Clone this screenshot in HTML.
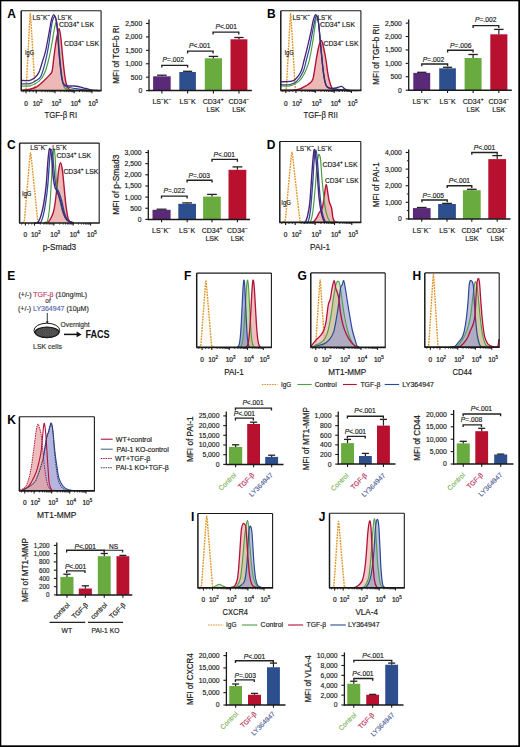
<!DOCTYPE html>
<html><head><meta charset="utf-8"><title>Figure</title>
<style>html,body{margin:0;padding:0;background:#fff;width:520px;height:747px;overflow:hidden}
svg{display:block;font-family:"Liberation Sans",sans-serif}</style></head>
<body>
<svg width="520" height="747" viewBox="0 0 520 747" font-family='"Liberation Sans", sans-serif'><rect x="0" y="0" width="520" height="747" fill="#000"/>
<rect x="1.3" y="1.3" width="517.0" height="744.0" fill="#fff"/>
<text x="7.30" y="18.00" font-size="12.00" text-anchor="start" fill="#000" font-weight="bold" ><tspan>A</tspan></text>
<text x="266.90" y="17.60" font-size="12.00" text-anchor="start" fill="#000" font-weight="bold" ><tspan>B</tspan></text>
<text x="7.00" y="148.80" font-size="12.00" text-anchor="start" fill="#000" font-weight="bold" ><tspan>C</tspan></text>
<text x="266.70" y="148.70" font-size="12.00" text-anchor="start" fill="#000" font-weight="bold" ><tspan>D</tspan></text>
<text x="7.30" y="279.60" font-size="12.00" text-anchor="start" fill="#000" font-weight="bold" ><tspan>E</tspan></text>
<text x="184.10" y="279.60" font-size="12.00" text-anchor="start" fill="#000" font-weight="bold" ><tspan>F</tspan></text>
<text x="297.60" y="280.30" font-size="12.00" text-anchor="start" fill="#000" font-weight="bold" ><tspan>G</tspan></text>
<text x="412.50" y="279.80" font-size="12.00" text-anchor="start" fill="#000" font-weight="bold" ><tspan>H</tspan></text>
<text x="7.30" y="424.00" font-size="12.00" text-anchor="start" fill="#000" font-weight="bold" ><tspan>K</tspan></text>
<text x="191.00" y="520.80" font-size="12.00" text-anchor="start" fill="#000" font-weight="bold" ><tspan>I</tspan></text>
<text x="318.80" y="521.00" font-size="12.00" text-anchor="start" fill="#000" font-weight="bold" ><tspan>J</tspan></text>
<path d="M24.00,90.60 L26.00,90.00 L26.52,81.35 L28.15,50.51 L29.87,18.13 L30.30,13.50 L30.79,18.13 L32.75,50.51 L34.61,81.35 L35.20,90.00 L37.20,90.60 Z" fill="#f6e2b8" fill-opacity="0.12" stroke="none"/>
<path d="M24.00,90.60 L26.00,90.00 L26.52,81.35 L28.15,50.51 L29.87,18.13 L30.30,13.50 L30.79,18.13 L32.75,50.51 L34.61,81.35 L35.20,90.00 L37.20,90.60" fill="none" stroke="#df9526" stroke-width="1.4" stroke-dasharray="1.8,1.0" stroke-linejoin="round"/>
<path d="M21.00,90.40 C22.50,90.18 27.40,89.68 30.00,89.10 C32.60,88.52 34.40,88.18 36.60,86.90 C38.80,85.62 41.18,83.23 43.20,81.40 C45.22,79.57 47.23,77.55 48.70,75.90 C50.17,74.25 51.18,74.23 52.00,71.50 C52.82,68.77 52.97,64.25 53.60,59.50 C54.23,54.75 55.15,47.22 55.80,43.00 C56.45,38.78 56.95,36.58 57.50,34.20 C58.05,31.82 58.55,28.15 59.10,28.70 C59.65,29.25 60.25,33.28 60.80,37.50 C61.35,41.72 61.85,48.52 62.40,54.00 C62.95,59.48 63.55,65.83 64.10,70.40 C64.65,74.97 65.15,78.65 65.70,81.40 C66.25,84.15 66.68,85.50 67.40,86.90 C68.12,88.30 68.73,89.18 70.00,89.80 C71.27,90.42 74.17,90.47 75.00,90.60 L75.00,90.60 L21.00,90.60 Z" fill="#e6a29e" fill-opacity="0.75" stroke="none"/>
<path d="M21.00,90.40 C22.50,90.18 27.40,89.68 30.00,89.10 C32.60,88.52 34.40,88.18 36.60,86.90 C38.80,85.62 41.18,83.23 43.20,81.40 C45.22,79.57 47.23,77.55 48.70,75.90 C50.17,74.25 51.18,74.23 52.00,71.50 C52.82,68.77 52.97,64.25 53.60,59.50 C54.23,54.75 55.15,47.22 55.80,43.00 C56.45,38.78 56.95,36.58 57.50,34.20 C58.05,31.82 58.55,28.15 59.10,28.70 C59.65,29.25 60.25,33.28 60.80,37.50 C61.35,41.72 61.85,48.52 62.40,54.00 C62.95,59.48 63.55,65.83 64.10,70.40 C64.65,74.97 65.15,78.65 65.70,81.40 C66.25,84.15 66.68,85.50 67.40,86.90 C68.12,88.30 68.73,89.18 70.00,89.80 C71.27,90.42 74.17,90.47 75.00,90.60" fill="none" stroke="#b3123a" stroke-width="1.40" stroke-linejoin="round"/>
<path d="M21.00,86.00 C22.50,85.97 27.03,86.57 30.00,85.80 C32.97,85.03 36.42,83.42 38.80,81.40 C41.18,79.38 42.65,77.35 44.30,73.70 C45.95,70.05 47.42,64.62 48.70,59.50 C49.98,54.38 51.08,47.95 52.00,43.00 C52.92,38.05 53.47,33.28 54.20,29.80 C54.93,26.32 55.77,21.73 56.40,22.10 C57.03,22.47 57.45,26.68 58.00,32.00 C58.55,37.32 59.05,46.68 59.70,54.00 C60.35,61.32 61.17,70.42 61.90,75.90 C62.63,81.38 63.08,84.63 64.10,86.90 C65.12,89.17 65.35,88.90 68.00,89.50 C70.65,90.10 78.00,90.33 80.00,90.50" fill="none" stroke="#4f9e45" stroke-width="1.20" stroke-linejoin="round"/>
<path d="M21.00,83.80 C22.50,83.77 27.40,84.18 30.00,83.60 C32.60,83.02 34.77,81.58 36.60,80.30 C38.43,79.02 39.53,79.02 41.00,75.90 C42.47,72.78 44.12,66.72 45.40,61.60 C46.68,56.48 47.78,50.50 48.70,45.20 C49.62,39.90 50.27,33.83 50.90,29.80 C51.53,25.77 51.87,23.20 52.50,21.00 C53.13,18.80 53.97,16.23 54.70,16.60 C55.43,16.97 56.28,18.80 56.90,23.20 C57.52,27.60 57.88,36.37 58.40,43.00 C58.92,49.63 59.47,57.33 60.00,63.00 C60.53,68.67 61.02,73.42 61.60,77.00 C62.18,80.58 62.60,82.83 63.50,84.50 C64.40,86.17 65.08,86.33 67.00,87.00 C68.92,87.67 72.00,88.03 75.00,88.50 C78.00,88.97 80.83,89.45 85.00,89.80 C89.17,90.15 97.50,90.47 100.00,90.60" fill="none" stroke="#2b4a96" stroke-width="1.20" stroke-linejoin="round"/>
<path d="M21.00,80.50 C22.50,80.47 27.77,80.70 30.00,80.30 C32.23,79.90 32.93,79.38 34.40,78.10 C35.87,76.82 37.52,75.17 38.80,72.60 C40.08,70.03 41.00,66.17 42.10,62.70 C43.20,59.23 44.48,55.45 45.40,51.80 C46.32,48.15 46.87,44.65 47.60,40.80 C48.33,36.95 49.17,32.18 49.80,28.70 C50.43,25.22 50.77,22.20 51.40,19.90 C52.03,17.60 52.87,15.08 53.60,14.90 C54.33,14.72 55.15,15.95 55.80,18.80 C56.45,21.65 57.03,27.05 57.50,32.00 C57.97,36.95 58.15,43.00 58.60,48.50 C59.05,54.00 59.65,60.07 60.20,65.00 C60.75,69.93 61.35,75.00 61.90,78.10 C62.45,81.20 62.58,82.32 63.50,83.60 C64.42,84.88 65.65,85.40 67.40,85.80 C69.15,86.20 72.23,85.88 74.00,86.00 C75.77,86.12 76.67,86.25 78.00,86.50 C79.33,86.75 80.67,87.17 82.00,87.50 C83.33,87.83 84.67,88.15 86.00,88.50 C87.33,88.85 88.67,89.30 90.00,89.60 C91.33,89.90 92.33,90.13 94.00,90.30 C95.67,90.47 99.00,90.55 100.00,90.60" fill="none" stroke="#4a2478" stroke-width="1.30" stroke-linejoin="round"/>
<g>
<line x1="21.20" y1="10.80" x2="101.10" y2="10.80" stroke="#1a1a1a" stroke-width="1.10" stroke-linecap="butt"/>
<line x1="101.10" y1="10.80" x2="101.10" y2="90.60" stroke="#1a1a1a" stroke-width="1.10" stroke-linecap="butt"/>
<line x1="21.20" y1="10.80" x2="21.20" y2="90.60" stroke="#1a1a1a" stroke-width="1.50" stroke-linecap="butt"/>
<line x1="20.70" y1="90.60" x2="101.60" y2="90.60" stroke="#1a1a1a" stroke-width="1.70" stroke-linecap="butt"/>
<line x1="26.00" y1="90.60" x2="26.00" y2="93.20" stroke="#1a1a1a" stroke-width="1.10" stroke-linecap="butt"/>
<line x1="36.20" y1="90.60" x2="36.20" y2="93.20" stroke="#1a1a1a" stroke-width="1.10" stroke-linecap="butt"/>
<line x1="55.00" y1="90.60" x2="55.00" y2="93.20" stroke="#1a1a1a" stroke-width="1.10" stroke-linecap="butt"/>
<line x1="74.20" y1="90.60" x2="74.20" y2="93.20" stroke="#1a1a1a" stroke-width="1.10" stroke-linecap="butt"/>
<line x1="91.90" y1="90.60" x2="91.90" y2="93.20" stroke="#1a1a1a" stroke-width="1.10" stroke-linecap="butt"/>
<line x1="41.86" y1="90.60" x2="41.86" y2="92.20" stroke="#1a1a1a" stroke-width="0.80" stroke-linecap="butt"/>
<line x1="45.17" y1="90.60" x2="45.17" y2="92.20" stroke="#1a1a1a" stroke-width="0.80" stroke-linecap="butt"/>
<line x1="47.52" y1="90.60" x2="47.52" y2="92.20" stroke="#1a1a1a" stroke-width="0.80" stroke-linecap="butt"/>
<line x1="49.34" y1="90.60" x2="49.34" y2="92.20" stroke="#1a1a1a" stroke-width="0.80" stroke-linecap="butt"/>
<line x1="50.83" y1="90.60" x2="50.83" y2="92.20" stroke="#1a1a1a" stroke-width="0.80" stroke-linecap="butt"/>
<line x1="52.09" y1="90.60" x2="52.09" y2="92.20" stroke="#1a1a1a" stroke-width="0.80" stroke-linecap="butt"/>
<line x1="53.18" y1="90.60" x2="53.18" y2="92.20" stroke="#1a1a1a" stroke-width="0.80" stroke-linecap="butt"/>
<line x1="54.14" y1="90.60" x2="54.14" y2="92.20" stroke="#1a1a1a" stroke-width="0.80" stroke-linecap="butt"/>
<line x1="60.78" y1="90.60" x2="60.78" y2="92.20" stroke="#1a1a1a" stroke-width="0.80" stroke-linecap="butt"/>
<line x1="64.16" y1="90.60" x2="64.16" y2="92.20" stroke="#1a1a1a" stroke-width="0.80" stroke-linecap="butt"/>
<line x1="66.56" y1="90.60" x2="66.56" y2="92.20" stroke="#1a1a1a" stroke-width="0.80" stroke-linecap="butt"/>
<line x1="68.42" y1="90.60" x2="68.42" y2="92.20" stroke="#1a1a1a" stroke-width="0.80" stroke-linecap="butt"/>
<line x1="69.94" y1="90.60" x2="69.94" y2="92.20" stroke="#1a1a1a" stroke-width="0.80" stroke-linecap="butt"/>
<line x1="71.23" y1="90.60" x2="71.23" y2="92.20" stroke="#1a1a1a" stroke-width="0.80" stroke-linecap="butt"/>
<line x1="72.34" y1="90.60" x2="72.34" y2="92.20" stroke="#1a1a1a" stroke-width="0.80" stroke-linecap="butt"/>
<line x1="73.32" y1="90.60" x2="73.32" y2="92.20" stroke="#1a1a1a" stroke-width="0.80" stroke-linecap="butt"/>
<line x1="79.53" y1="90.60" x2="79.53" y2="92.20" stroke="#1a1a1a" stroke-width="0.80" stroke-linecap="butt"/>
<line x1="82.65" y1="90.60" x2="82.65" y2="92.20" stroke="#1a1a1a" stroke-width="0.80" stroke-linecap="butt"/>
<line x1="84.86" y1="90.60" x2="84.86" y2="92.20" stroke="#1a1a1a" stroke-width="0.80" stroke-linecap="butt"/>
<line x1="86.57" y1="90.60" x2="86.57" y2="92.20" stroke="#1a1a1a" stroke-width="0.80" stroke-linecap="butt"/>
<line x1="87.97" y1="90.60" x2="87.97" y2="92.20" stroke="#1a1a1a" stroke-width="0.80" stroke-linecap="butt"/>
<line x1="89.16" y1="90.60" x2="89.16" y2="92.20" stroke="#1a1a1a" stroke-width="0.80" stroke-linecap="butt"/>
<line x1="90.18" y1="90.60" x2="90.18" y2="92.20" stroke="#1a1a1a" stroke-width="0.80" stroke-linecap="butt"/>
<line x1="91.09" y1="90.60" x2="91.09" y2="92.20" stroke="#1a1a1a" stroke-width="0.80" stroke-linecap="butt"/>
<line x1="29.57" y1="90.60" x2="29.57" y2="92.20" stroke="#1a1a1a" stroke-width="0.80" stroke-linecap="butt"/>
<line x1="33.14" y1="90.60" x2="33.14" y2="92.20" stroke="#1a1a1a" stroke-width="0.80" stroke-linecap="butt"/>
<line x1="23.20" y1="90.60" x2="23.20" y2="92.20" stroke="#1a1a1a" stroke-width="0.80" stroke-linecap="butt"/>
<text x="26.00" y="105.50" font-size="6.50" text-anchor="middle" fill="#1a1a1a" stroke="#1a1a1a" stroke-width="0.22" ><tspan>0</tspan></text>
<text x="37.50" y="105.50" font-size="6.50" text-anchor="middle" fill="#1a1a1a" stroke="#1a1a1a" stroke-width="0.22" ><tspan>10</tspan><tspan baseline-shift="2.73" font-size="4.42">2</tspan></text>
<text x="56.30" y="105.50" font-size="6.50" text-anchor="middle" fill="#1a1a1a" stroke="#1a1a1a" stroke-width="0.22" ><tspan>10</tspan><tspan baseline-shift="2.73" font-size="4.42">3</tspan></text>
<text x="75.50" y="105.50" font-size="6.50" text-anchor="middle" fill="#1a1a1a" stroke="#1a1a1a" stroke-width="0.22" ><tspan>10</tspan><tspan baseline-shift="2.73" font-size="4.42">4</tspan></text>
<text x="93.20" y="105.50" font-size="6.50" text-anchor="middle" fill="#1a1a1a" stroke="#1a1a1a" stroke-width="0.22" ><tspan>10</tspan><tspan baseline-shift="2.73" font-size="4.42">5</tspan></text>
<text x="60.80" y="118.10" font-size="8.80" text-anchor="middle" fill="#1a1a1a" stroke="#1a1a1a" stroke-width="0.16" textLength="32.60" lengthAdjust="spacingAndGlyphs" ><tspan>TGF-β RI</tspan></text>
</g>
<text x="32.50" y="19.60" font-size="6.60" text-anchor="start" fill="#1a1a1a" stroke="#1a1a1a" stroke-width="0.16" textLength="17.50" lengthAdjust="spacingAndGlyphs" ><tspan>LS</tspan><tspan baseline-shift="2.77" font-size="4.49">−</tspan><tspan>K</tspan><tspan baseline-shift="2.77" font-size="4.49">−</tspan></text>
<text x="57.50" y="19.60" font-size="6.60" text-anchor="start" fill="#1a1a1a" stroke="#1a1a1a" stroke-width="0.16" textLength="14.50" lengthAdjust="spacingAndGlyphs" ><tspan>LS</tspan><tspan baseline-shift="2.77" font-size="4.49">−</tspan><tspan>K</tspan></text>
<text x="59.00" y="27.00" font-size="6.60" text-anchor="start" fill="#1a1a1a" stroke="#1a1a1a" stroke-width="0.16" textLength="35.00" lengthAdjust="spacingAndGlyphs" ><tspan>CD34</tspan><tspan baseline-shift="2.77" font-size="4.49">+</tspan><tspan> LSK</tspan></text>
<text x="64.00" y="45.60" font-size="6.60" text-anchor="start" fill="#1a1a1a" stroke="#1a1a1a" stroke-width="0.16" textLength="35.00" lengthAdjust="spacingAndGlyphs" ><tspan>CD34</tspan><tspan baseline-shift="2.77" font-size="4.49">−</tspan><tspan> LSK</tspan></text>
<text x="25.00" y="54.60" font-size="6.60" text-anchor="start" fill="#1a1a1a" stroke="#1a1a1a" stroke-width="0.16" textLength="9.00" lengthAdjust="spacingAndGlyphs" ><tspan>IgG</tspan></text>
<path d="M284.20,90.40 L286.20,89.80 L286.73,81.17 L288.40,50.41 L290.16,18.11 L290.60,13.50 L291.08,18.11 L293.00,50.41 L294.82,81.17 L295.40,89.80 L297.40,90.40 Z" fill="#f6e2b8" fill-opacity="0.12" stroke="none"/>
<path d="M284.20,90.40 L286.20,89.80 L286.73,81.17 L288.40,50.41 L290.16,18.11 L290.60,13.50 L291.08,18.11 L293.00,50.41 L294.82,81.17 L295.40,89.80 L297.40,90.40" fill="none" stroke="#df9526" stroke-width="1.4" stroke-dasharray="1.8,1.0" stroke-linejoin="round"/>
<path d="M281.00,90.60 C283.33,90.50 291.67,90.35 295.00,90.00 C298.33,89.65 299.08,89.25 301.00,88.50 C302.92,87.75 305.00,86.40 306.50,85.50 C308.00,84.60 308.93,84.18 310.00,83.10 C311.07,82.02 312.07,81.63 312.90,79.00 C313.73,76.37 314.38,70.90 315.00,67.30 C315.62,63.70 316.05,60.53 316.60,57.40 C317.15,54.27 317.77,50.90 318.30,48.50 C318.83,46.10 319.32,44.33 319.80,43.00 C320.28,41.67 320.73,40.50 321.20,40.50 C321.67,40.50 322.17,41.67 322.60,43.00 C323.03,44.33 323.37,46.42 323.80,48.50 C324.23,50.58 324.77,53.08 325.20,55.50 C325.63,57.92 326.00,60.25 326.40,63.00 C326.80,65.75 327.15,69.20 327.60,72.00 C328.05,74.80 328.43,77.25 329.10,79.80 C329.77,82.35 330.62,85.55 331.60,87.30 C332.58,89.05 333.60,89.75 335.00,90.30 C336.40,90.85 339.17,90.55 340.00,90.60 L340.00,90.60 L281.00,90.60 Z" fill="#e6a29e" fill-opacity="0.75" stroke="none"/>
<path d="M281.00,90.60 C283.33,90.50 291.67,90.35 295.00,90.00 C298.33,89.65 299.08,89.25 301.00,88.50 C302.92,87.75 305.00,86.40 306.50,85.50 C308.00,84.60 308.93,84.18 310.00,83.10 C311.07,82.02 312.07,81.63 312.90,79.00 C313.73,76.37 314.38,70.90 315.00,67.30 C315.62,63.70 316.05,60.53 316.60,57.40 C317.15,54.27 317.77,50.90 318.30,48.50 C318.83,46.10 319.32,44.33 319.80,43.00 C320.28,41.67 320.73,40.50 321.20,40.50 C321.67,40.50 322.17,41.67 322.60,43.00 C323.03,44.33 323.37,46.42 323.80,48.50 C324.23,50.58 324.77,53.08 325.20,55.50 C325.63,57.92 326.00,60.25 326.40,63.00 C326.80,65.75 327.15,69.20 327.60,72.00 C328.05,74.80 328.43,77.25 329.10,79.80 C329.77,82.35 330.62,85.55 331.60,87.30 C332.58,89.05 333.60,89.75 335.00,90.30 C336.40,90.85 339.17,90.55 340.00,90.60" fill="none" stroke="#b3123a" stroke-width="1.40" stroke-linejoin="round"/>
<path d="M281.00,85.80 C282.50,85.80 287.03,86.53 290.00,85.80 C292.97,85.07 296.42,83.42 298.80,81.40 C301.18,79.38 302.65,76.82 304.30,73.70 C305.95,70.58 307.42,67.27 308.70,62.70 C309.98,58.13 311.08,51.42 312.00,46.30 C312.92,41.18 313.57,36.22 314.20,32.00 C314.83,27.78 315.35,23.20 315.80,21.00 C316.25,18.80 316.48,18.63 316.90,18.80 C317.32,18.97 317.82,19.30 318.30,22.00 C318.78,24.70 319.27,29.83 319.80,35.00 C320.33,40.17 320.97,47.50 321.50,53.00 C322.03,58.50 322.45,63.50 323.00,68.00 C323.55,72.50 324.13,76.92 324.80,80.00 C325.47,83.08 325.80,85.03 327.00,86.50 C328.20,87.97 329.00,88.18 332.00,88.80 C335.00,89.42 340.67,89.90 345.00,90.20 C349.33,90.50 355.83,90.53 358.00,90.60" fill="none" stroke="#4f9e45" stroke-width="1.20" stroke-linejoin="round"/>
<path d="M281.00,84.70 C282.50,84.67 287.40,85.05 290.00,84.50 C292.60,83.95 294.40,83.57 296.60,81.40 C298.80,79.23 301.55,75.15 303.20,71.50 C304.85,67.85 305.40,63.70 306.50,59.50 C307.60,55.30 308.80,50.88 309.80,46.30 C310.80,41.72 311.68,36.22 312.50,32.00 C313.32,27.78 314.05,23.67 314.70,21.00 C315.35,18.33 315.85,16.33 316.40,16.00 C316.95,15.67 317.48,16.33 318.00,19.00 C318.52,21.67 318.97,26.50 319.50,32.00 C320.03,37.50 320.68,46.33 321.20,52.00 C321.72,57.67 322.10,61.67 322.60,66.00 C323.10,70.33 323.57,74.67 324.20,78.00 C324.83,81.33 325.43,84.25 326.40,86.00 C327.37,87.75 327.73,87.92 330.00,88.50 C332.27,89.08 336.67,89.15 340.00,89.50 C343.33,89.85 348.33,90.42 350.00,90.60" fill="none" stroke="#2b4a96" stroke-width="1.20" stroke-linejoin="round"/>
<path d="M281.00,81.80 C282.50,81.73 287.58,81.83 290.00,81.40 C292.42,80.97 293.67,80.85 295.50,79.20 C297.33,77.55 299.53,74.78 301.00,71.50 C302.47,68.22 303.20,63.70 304.30,59.50 C305.40,55.30 306.50,50.88 307.60,46.30 C308.70,41.72 309.98,36.22 310.90,32.00 C311.82,27.78 312.37,23.83 313.10,21.00 C313.83,18.17 314.65,15.75 315.30,15.00 C315.95,14.25 316.43,15.00 317.00,16.50 C317.57,18.00 318.22,20.42 318.70,24.00 C319.18,27.58 319.42,32.85 319.90,38.00 C320.38,43.15 321.12,50.02 321.60,54.90 C322.08,59.78 322.32,63.15 322.80,67.30 C323.28,71.45 323.87,76.62 324.50,79.80 C325.13,82.98 325.68,85.02 326.60,86.40 C327.52,87.78 328.43,87.83 330.00,88.10 C331.57,88.37 334.08,88.28 336.00,88.00 C337.92,87.72 340.00,86.23 341.50,86.40 C343.00,86.57 343.58,88.30 345.00,89.00 C346.42,89.70 349.17,90.33 350.00,90.60" fill="none" stroke="#4a2478" stroke-width="1.30" stroke-linejoin="round"/>
<g>
<line x1="280.80" y1="10.70" x2="360.90" y2="10.70" stroke="#1a1a1a" stroke-width="1.10" stroke-linecap="butt"/>
<line x1="360.90" y1="10.70" x2="360.90" y2="90.40" stroke="#1a1a1a" stroke-width="1.10" stroke-linecap="butt"/>
<line x1="280.80" y1="10.70" x2="280.80" y2="90.40" stroke="#1a1a1a" stroke-width="1.50" stroke-linecap="butt"/>
<line x1="280.30" y1="90.40" x2="361.40" y2="90.40" stroke="#1a1a1a" stroke-width="1.70" stroke-linecap="butt"/>
<line x1="285.80" y1="90.40" x2="285.80" y2="93.00" stroke="#1a1a1a" stroke-width="1.10" stroke-linecap="butt"/>
<line x1="295.90" y1="90.40" x2="295.90" y2="93.00" stroke="#1a1a1a" stroke-width="1.10" stroke-linecap="butt"/>
<line x1="315.30" y1="90.40" x2="315.30" y2="93.00" stroke="#1a1a1a" stroke-width="1.10" stroke-linecap="butt"/>
<line x1="334.20" y1="90.40" x2="334.20" y2="93.00" stroke="#1a1a1a" stroke-width="1.10" stroke-linecap="butt"/>
<line x1="351.40" y1="90.40" x2="351.40" y2="93.00" stroke="#1a1a1a" stroke-width="1.10" stroke-linecap="butt"/>
<line x1="301.74" y1="90.40" x2="301.74" y2="92.00" stroke="#1a1a1a" stroke-width="0.80" stroke-linecap="butt"/>
<line x1="305.16" y1="90.40" x2="305.16" y2="92.00" stroke="#1a1a1a" stroke-width="0.80" stroke-linecap="butt"/>
<line x1="307.58" y1="90.40" x2="307.58" y2="92.00" stroke="#1a1a1a" stroke-width="0.80" stroke-linecap="butt"/>
<line x1="309.46" y1="90.40" x2="309.46" y2="92.00" stroke="#1a1a1a" stroke-width="0.80" stroke-linecap="butt"/>
<line x1="311.00" y1="90.40" x2="311.00" y2="92.00" stroke="#1a1a1a" stroke-width="0.80" stroke-linecap="butt"/>
<line x1="312.29" y1="90.40" x2="312.29" y2="92.00" stroke="#1a1a1a" stroke-width="0.80" stroke-linecap="butt"/>
<line x1="313.42" y1="90.40" x2="313.42" y2="92.00" stroke="#1a1a1a" stroke-width="0.80" stroke-linecap="butt"/>
<line x1="314.41" y1="90.40" x2="314.41" y2="92.00" stroke="#1a1a1a" stroke-width="0.80" stroke-linecap="butt"/>
<line x1="320.99" y1="90.40" x2="320.99" y2="92.00" stroke="#1a1a1a" stroke-width="0.80" stroke-linecap="butt"/>
<line x1="324.32" y1="90.40" x2="324.32" y2="92.00" stroke="#1a1a1a" stroke-width="0.80" stroke-linecap="butt"/>
<line x1="326.68" y1="90.40" x2="326.68" y2="92.00" stroke="#1a1a1a" stroke-width="0.80" stroke-linecap="butt"/>
<line x1="328.51" y1="90.40" x2="328.51" y2="92.00" stroke="#1a1a1a" stroke-width="0.80" stroke-linecap="butt"/>
<line x1="330.01" y1="90.40" x2="330.01" y2="92.00" stroke="#1a1a1a" stroke-width="0.80" stroke-linecap="butt"/>
<line x1="331.27" y1="90.40" x2="331.27" y2="92.00" stroke="#1a1a1a" stroke-width="0.80" stroke-linecap="butt"/>
<line x1="332.37" y1="90.40" x2="332.37" y2="92.00" stroke="#1a1a1a" stroke-width="0.80" stroke-linecap="butt"/>
<line x1="333.34" y1="90.40" x2="333.34" y2="92.00" stroke="#1a1a1a" stroke-width="0.80" stroke-linecap="butt"/>
<line x1="339.38" y1="90.40" x2="339.38" y2="92.00" stroke="#1a1a1a" stroke-width="0.80" stroke-linecap="butt"/>
<line x1="342.41" y1="90.40" x2="342.41" y2="92.00" stroke="#1a1a1a" stroke-width="0.80" stroke-linecap="butt"/>
<line x1="344.56" y1="90.40" x2="344.56" y2="92.00" stroke="#1a1a1a" stroke-width="0.80" stroke-linecap="butt"/>
<line x1="346.22" y1="90.40" x2="346.22" y2="92.00" stroke="#1a1a1a" stroke-width="0.80" stroke-linecap="butt"/>
<line x1="347.58" y1="90.40" x2="347.58" y2="92.00" stroke="#1a1a1a" stroke-width="0.80" stroke-linecap="butt"/>
<line x1="348.74" y1="90.40" x2="348.74" y2="92.00" stroke="#1a1a1a" stroke-width="0.80" stroke-linecap="butt"/>
<line x1="349.73" y1="90.40" x2="349.73" y2="92.00" stroke="#1a1a1a" stroke-width="0.80" stroke-linecap="butt"/>
<line x1="350.61" y1="90.40" x2="350.61" y2="92.00" stroke="#1a1a1a" stroke-width="0.80" stroke-linecap="butt"/>
<line x1="289.33" y1="90.40" x2="289.33" y2="92.00" stroke="#1a1a1a" stroke-width="0.80" stroke-linecap="butt"/>
<line x1="292.87" y1="90.40" x2="292.87" y2="92.00" stroke="#1a1a1a" stroke-width="0.80" stroke-linecap="butt"/>
<line x1="282.80" y1="90.40" x2="282.80" y2="92.00" stroke="#1a1a1a" stroke-width="0.80" stroke-linecap="butt"/>
<text x="285.80" y="105.50" font-size="6.50" text-anchor="middle" fill="#1a1a1a" stroke="#1a1a1a" stroke-width="0.22" ><tspan>0</tspan></text>
<text x="297.20" y="105.50" font-size="6.50" text-anchor="middle" fill="#1a1a1a" stroke="#1a1a1a" stroke-width="0.22" ><tspan>10</tspan><tspan baseline-shift="2.73" font-size="4.42">2</tspan></text>
<text x="316.60" y="105.50" font-size="6.50" text-anchor="middle" fill="#1a1a1a" stroke="#1a1a1a" stroke-width="0.22" ><tspan>10</tspan><tspan baseline-shift="2.73" font-size="4.42">3</tspan></text>
<text x="335.50" y="105.50" font-size="6.50" text-anchor="middle" fill="#1a1a1a" stroke="#1a1a1a" stroke-width="0.22" ><tspan>10</tspan><tspan baseline-shift="2.73" font-size="4.42">4</tspan></text>
<text x="352.70" y="105.50" font-size="6.50" text-anchor="middle" fill="#1a1a1a" stroke="#1a1a1a" stroke-width="0.22" ><tspan>10</tspan><tspan baseline-shift="2.73" font-size="4.42">5</tspan></text>
<text x="320.65" y="118.10" font-size="8.80" text-anchor="middle" fill="#1a1a1a" stroke="#1a1a1a" stroke-width="0.16" textLength="34.30" lengthAdjust="spacingAndGlyphs" ><tspan>TGF-β RII</tspan></text>
</g>
<text x="292.50" y="19.60" font-size="6.60" text-anchor="start" fill="#1a1a1a" stroke="#1a1a1a" stroke-width="0.16" textLength="17.50" lengthAdjust="spacingAndGlyphs" ><tspan>LS</tspan><tspan baseline-shift="2.77" font-size="4.49">−</tspan><tspan>K</tspan><tspan baseline-shift="2.77" font-size="4.49">−</tspan></text>
<text x="317.50" y="19.60" font-size="6.60" text-anchor="start" fill="#1a1a1a" stroke="#1a1a1a" stroke-width="0.16" textLength="14.50" lengthAdjust="spacingAndGlyphs" ><tspan>LS</tspan><tspan baseline-shift="2.77" font-size="4.49">−</tspan><tspan>K</tspan></text>
<text x="320.00" y="27.00" font-size="6.60" text-anchor="start" fill="#1a1a1a" stroke="#1a1a1a" stroke-width="0.16" textLength="35.00" lengthAdjust="spacingAndGlyphs" ><tspan>CD34</tspan><tspan baseline-shift="2.77" font-size="4.49">+</tspan><tspan> LSK</tspan></text>
<text x="323.50" y="45.60" font-size="6.60" text-anchor="start" fill="#1a1a1a" stroke="#1a1a1a" stroke-width="0.16" textLength="35.00" lengthAdjust="spacingAndGlyphs" ><tspan>CD34</tspan><tspan baseline-shift="2.77" font-size="4.49">−</tspan><tspan> LSK</tspan></text>
<text x="284.50" y="54.60" font-size="6.60" text-anchor="start" fill="#1a1a1a" stroke="#1a1a1a" stroke-width="0.16" textLength="9.00" lengthAdjust="spacingAndGlyphs" ><tspan>IgG</tspan></text>
<path d="M22.20,222.60 L24.20,222.00 L24.96,214.24 L27.35,186.36 L29.87,157.08 L30.50,152.90 L31.24,157.08 L34.20,186.36 L37.01,214.24 L37.90,222.00 L39.90,222.60 Z" fill="#f6e2b8" fill-opacity="0.12" stroke="none"/>
<path d="M22.20,222.60 L24.20,222.00 L24.96,214.24 L27.35,186.36 L29.87,157.08 L30.50,152.90 L31.24,157.08 L34.20,186.36 L37.01,214.24 L37.90,222.00 L39.90,222.60" fill="none" stroke="#df9526" stroke-width="1.4" stroke-dasharray="1.8,1.0" stroke-linejoin="round"/>
<path d="M44.00,222.60 C44.70,222.50 47.03,222.77 48.20,222.00 C49.37,221.23 50.08,219.83 51.00,218.00 C51.92,216.17 52.95,214.00 53.70,211.00 C54.45,208.00 54.95,204.02 55.50,200.00 C56.05,195.98 56.48,191.83 57.00,186.90 C57.52,181.97 58.02,174.42 58.60,170.40 C59.18,166.38 59.87,162.80 60.50,162.80 C61.13,162.80 61.80,166.38 62.40,170.40 C63.00,174.42 63.55,181.40 64.10,186.90 C64.65,192.40 65.07,198.28 65.70,203.40 C66.33,208.52 67.18,214.57 67.90,217.60 C68.62,220.63 68.98,220.77 70.00,221.60 C71.02,222.43 73.33,222.43 74.00,222.60 L74.00,222.60 L44.00,222.60 Z" fill="#e6a29e" fill-opacity="0.75" stroke="none"/>
<path d="M44.00,222.60 C44.70,222.50 47.03,222.77 48.20,222.00 C49.37,221.23 50.08,219.83 51.00,218.00 C51.92,216.17 52.95,214.00 53.70,211.00 C54.45,208.00 54.95,204.02 55.50,200.00 C56.05,195.98 56.48,191.83 57.00,186.90 C57.52,181.97 58.02,174.42 58.60,170.40 C59.18,166.38 59.87,162.80 60.50,162.80 C61.13,162.80 61.80,166.38 62.40,170.40 C63.00,174.42 63.55,181.40 64.10,186.90 C64.65,192.40 65.07,198.28 65.70,203.40 C66.33,208.52 67.18,214.57 67.90,217.60 C68.62,220.63 68.98,220.77 70.00,221.60 C71.02,222.43 73.33,222.43 74.00,222.60" fill="none" stroke="#b3123a" stroke-width="1.40" stroke-linejoin="round"/>
<path d="M44.00,222.60 C44.52,222.50 46.27,223.60 47.10,222.00 C47.93,220.40 48.45,217.02 49.00,213.00 C49.55,208.98 49.90,205.00 50.40,197.90 C50.90,190.80 51.55,177.55 52.00,170.40 C52.45,163.25 52.78,158.57 53.10,155.00 C53.42,151.43 53.63,149.50 53.90,149.00 C54.17,148.50 54.47,150.25 54.70,152.00 C54.93,153.75 55.02,154.60 55.30,159.50 C55.58,164.40 55.85,175.37 56.40,181.40 C56.95,187.43 57.92,192.10 58.60,195.70 C59.28,199.30 59.87,200.45 60.50,203.00 C61.13,205.55 61.53,208.38 62.40,211.00 C63.27,213.62 64.43,216.83 65.70,218.70 C66.97,220.57 68.62,221.55 70.00,222.20 C71.38,222.85 73.33,222.53 74.00,222.60" fill="none" stroke="#4f9e45" stroke-width="1.20" stroke-linejoin="round"/>
<path d="M37.00,222.60 C37.67,222.50 39.73,224.27 41.00,222.00 C42.27,219.73 43.50,214.83 44.60,209.00 C45.70,203.17 46.83,194.33 47.60,187.00 C48.37,179.67 48.77,170.67 49.20,165.00 C49.63,159.33 49.87,155.62 50.20,153.00 C50.53,150.38 50.82,149.30 51.20,149.30 C51.58,149.30 52.03,149.55 52.50,153.00 C52.97,156.45 53.52,165.00 54.00,170.00 C54.48,175.00 54.93,179.83 55.40,183.00 C55.87,186.17 56.23,187.50 56.80,189.00 C57.37,190.50 58.00,190.08 58.80,192.00 C59.60,193.92 60.65,197.00 61.60,200.50 C62.55,204.00 63.52,209.78 64.50,213.00 C65.48,216.22 66.25,218.20 67.50,219.80 C68.75,221.40 71.25,222.13 72.00,222.60" fill="none" stroke="#2b4a96" stroke-width="1.30" stroke-linejoin="round"/>
<path d="M34.00,222.60 C34.72,222.50 36.85,224.28 38.30,222.00 C39.75,219.72 41.42,214.75 42.70,208.90 C43.98,203.05 45.18,194.22 46.00,186.90 C46.82,179.58 47.15,170.65 47.60,165.00 C48.05,159.35 48.33,155.75 48.70,153.00 C49.07,150.25 49.33,147.97 49.80,148.50 C50.27,149.03 50.95,151.63 51.50,156.20 C52.05,160.77 52.55,170.78 53.10,175.90 C53.65,181.02 54.15,184.33 54.80,186.90 C55.45,189.47 56.10,189.12 57.00,191.30 C57.90,193.48 59.12,196.33 60.20,200.00 C61.28,203.67 62.40,210.00 63.50,213.30 C64.60,216.60 65.38,218.25 66.80,219.80 C68.22,221.35 71.13,222.13 72.00,222.60" fill="none" stroke="#4a2478" stroke-width="1.40" stroke-linejoin="round"/>
<g>
<line x1="19.60" y1="143.10" x2="99.20" y2="143.10" stroke="#1a1a1a" stroke-width="1.10" stroke-linecap="butt"/>
<line x1="99.20" y1="143.10" x2="99.20" y2="223.00" stroke="#1a1a1a" stroke-width="1.10" stroke-linecap="butt"/>
<line x1="19.60" y1="143.10" x2="19.60" y2="223.00" stroke="#1a1a1a" stroke-width="1.50" stroke-linecap="butt"/>
<line x1="19.10" y1="223.00" x2="99.70" y2="223.00" stroke="#1a1a1a" stroke-width="1.70" stroke-linecap="butt"/>
<line x1="25.40" y1="223.00" x2="25.40" y2="225.60" stroke="#1a1a1a" stroke-width="1.10" stroke-linecap="butt"/>
<line x1="34.50" y1="223.00" x2="34.50" y2="225.60" stroke="#1a1a1a" stroke-width="1.10" stroke-linecap="butt"/>
<line x1="53.90" y1="223.00" x2="53.90" y2="225.60" stroke="#1a1a1a" stroke-width="1.10" stroke-linecap="butt"/>
<line x1="73.20" y1="223.00" x2="73.20" y2="225.60" stroke="#1a1a1a" stroke-width="1.10" stroke-linecap="butt"/>
<line x1="90.60" y1="223.00" x2="90.60" y2="225.60" stroke="#1a1a1a" stroke-width="1.10" stroke-linecap="butt"/>
<line x1="40.34" y1="223.00" x2="40.34" y2="224.60" stroke="#1a1a1a" stroke-width="0.80" stroke-linecap="butt"/>
<line x1="43.76" y1="223.00" x2="43.76" y2="224.60" stroke="#1a1a1a" stroke-width="0.80" stroke-linecap="butt"/>
<line x1="46.18" y1="223.00" x2="46.18" y2="224.60" stroke="#1a1a1a" stroke-width="0.80" stroke-linecap="butt"/>
<line x1="48.06" y1="223.00" x2="48.06" y2="224.60" stroke="#1a1a1a" stroke-width="0.80" stroke-linecap="butt"/>
<line x1="49.60" y1="223.00" x2="49.60" y2="224.60" stroke="#1a1a1a" stroke-width="0.80" stroke-linecap="butt"/>
<line x1="50.89" y1="223.00" x2="50.89" y2="224.60" stroke="#1a1a1a" stroke-width="0.80" stroke-linecap="butt"/>
<line x1="52.02" y1="223.00" x2="52.02" y2="224.60" stroke="#1a1a1a" stroke-width="0.80" stroke-linecap="butt"/>
<line x1="53.01" y1="223.00" x2="53.01" y2="224.60" stroke="#1a1a1a" stroke-width="0.80" stroke-linecap="butt"/>
<line x1="59.71" y1="223.00" x2="59.71" y2="224.60" stroke="#1a1a1a" stroke-width="0.80" stroke-linecap="butt"/>
<line x1="63.11" y1="223.00" x2="63.11" y2="224.60" stroke="#1a1a1a" stroke-width="0.80" stroke-linecap="butt"/>
<line x1="65.52" y1="223.00" x2="65.52" y2="224.60" stroke="#1a1a1a" stroke-width="0.80" stroke-linecap="butt"/>
<line x1="67.39" y1="223.00" x2="67.39" y2="224.60" stroke="#1a1a1a" stroke-width="0.80" stroke-linecap="butt"/>
<line x1="68.92" y1="223.00" x2="68.92" y2="224.60" stroke="#1a1a1a" stroke-width="0.80" stroke-linecap="butt"/>
<line x1="70.21" y1="223.00" x2="70.21" y2="224.60" stroke="#1a1a1a" stroke-width="0.80" stroke-linecap="butt"/>
<line x1="71.33" y1="223.00" x2="71.33" y2="224.60" stroke="#1a1a1a" stroke-width="0.80" stroke-linecap="butt"/>
<line x1="72.32" y1="223.00" x2="72.32" y2="224.60" stroke="#1a1a1a" stroke-width="0.80" stroke-linecap="butt"/>
<line x1="78.44" y1="223.00" x2="78.44" y2="224.60" stroke="#1a1a1a" stroke-width="0.80" stroke-linecap="butt"/>
<line x1="81.50" y1="223.00" x2="81.50" y2="224.60" stroke="#1a1a1a" stroke-width="0.80" stroke-linecap="butt"/>
<line x1="83.68" y1="223.00" x2="83.68" y2="224.60" stroke="#1a1a1a" stroke-width="0.80" stroke-linecap="butt"/>
<line x1="85.36" y1="223.00" x2="85.36" y2="224.60" stroke="#1a1a1a" stroke-width="0.80" stroke-linecap="butt"/>
<line x1="86.74" y1="223.00" x2="86.74" y2="224.60" stroke="#1a1a1a" stroke-width="0.80" stroke-linecap="butt"/>
<line x1="87.90" y1="223.00" x2="87.90" y2="224.60" stroke="#1a1a1a" stroke-width="0.80" stroke-linecap="butt"/>
<line x1="88.91" y1="223.00" x2="88.91" y2="224.60" stroke="#1a1a1a" stroke-width="0.80" stroke-linecap="butt"/>
<line x1="89.80" y1="223.00" x2="89.80" y2="224.60" stroke="#1a1a1a" stroke-width="0.80" stroke-linecap="butt"/>
<line x1="28.59" y1="223.00" x2="28.59" y2="224.60" stroke="#1a1a1a" stroke-width="0.80" stroke-linecap="butt"/>
<line x1="31.77" y1="223.00" x2="31.77" y2="224.60" stroke="#1a1a1a" stroke-width="0.80" stroke-linecap="butt"/>
<line x1="21.60" y1="223.00" x2="21.60" y2="224.60" stroke="#1a1a1a" stroke-width="0.80" stroke-linecap="butt"/>
<text x="25.40" y="237.00" font-size="6.50" text-anchor="middle" fill="#1a1a1a" stroke="#1a1a1a" stroke-width="0.22" ><tspan>0</tspan></text>
<text x="35.80" y="237.00" font-size="6.50" text-anchor="middle" fill="#1a1a1a" stroke="#1a1a1a" stroke-width="0.22" ><tspan>10</tspan><tspan baseline-shift="2.73" font-size="4.42">2</tspan></text>
<text x="55.20" y="237.00" font-size="6.50" text-anchor="middle" fill="#1a1a1a" stroke="#1a1a1a" stroke-width="0.22" ><tspan>10</tspan><tspan baseline-shift="2.73" font-size="4.42">3</tspan></text>
<text x="74.50" y="237.00" font-size="6.50" text-anchor="middle" fill="#1a1a1a" stroke="#1a1a1a" stroke-width="0.22" ><tspan>10</tspan><tspan baseline-shift="2.73" font-size="4.42">4</tspan></text>
<text x="91.90" y="237.00" font-size="6.50" text-anchor="middle" fill="#1a1a1a" stroke="#1a1a1a" stroke-width="0.22" ><tspan>10</tspan><tspan baseline-shift="2.73" font-size="4.42">5</tspan></text>
<text x="59.50" y="250.40" font-size="8.80" text-anchor="middle" fill="#1a1a1a" stroke="#1a1a1a" stroke-width="0.16" textLength="33.40" lengthAdjust="spacingAndGlyphs" ><tspan>p-Smad3</tspan></text>
</g>
<text x="30.20" y="150.00" font-size="6.60" text-anchor="start" fill="#1a1a1a" stroke="#1a1a1a" stroke-width="0.16" textLength="17.50" lengthAdjust="spacingAndGlyphs" ><tspan>LS</tspan><tspan baseline-shift="2.77" font-size="4.49">−</tspan><tspan>K</tspan><tspan baseline-shift="2.77" font-size="4.49">−</tspan></text>
<text x="52.20" y="150.00" font-size="6.60" text-anchor="start" fill="#1a1a1a" stroke="#1a1a1a" stroke-width="0.16" textLength="14.50" lengthAdjust="spacingAndGlyphs" ><tspan>LS</tspan><tspan baseline-shift="2.77" font-size="4.49">−</tspan><tspan>K</tspan></text>
<text x="56.50" y="157.80" font-size="6.60" text-anchor="start" fill="#1a1a1a" stroke="#1a1a1a" stroke-width="0.16" textLength="34.50" lengthAdjust="spacingAndGlyphs" ><tspan>CD34</tspan><tspan baseline-shift="2.77" font-size="4.49">+</tspan><tspan> LSK</tspan></text>
<text x="63.40" y="174.20" font-size="6.60" text-anchor="start" fill="#1a1a1a" stroke="#1a1a1a" stroke-width="0.16" textLength="35.00" lengthAdjust="spacingAndGlyphs" ><tspan>CD34</tspan><tspan baseline-shift="2.77" font-size="4.49">+</tspan><tspan> LSK</tspan></text>
<text x="21.90" y="196.20" font-size="6.60" text-anchor="start" fill="#1a1a1a" stroke="#1a1a1a" stroke-width="0.16" textLength="9.50" lengthAdjust="spacingAndGlyphs" ><tspan>IgG</tspan></text>
<path d="M283.10,222.20 L285.10,221.60 L285.92,213.81 L288.50,185.85 L291.22,156.49 L291.90,152.30 L292.72,156.49 L296.00,185.85 L299.12,213.81 L300.10,221.60 L302.10,222.20 Z" fill="#f6e2b8" fill-opacity="0.12" stroke="none"/>
<path d="M283.10,222.20 L285.10,221.60 L285.92,213.81 L288.50,185.85 L291.22,156.49 L291.90,152.30 L292.72,156.49 L296.00,185.85 L299.12,213.81 L300.10,221.60 L302.10,222.20" fill="none" stroke="#df9526" stroke-width="1.4" stroke-dasharray="1.8,1.0" stroke-linejoin="round"/>
<path d="M310.00,222.20 C310.58,222.13 312.42,222.50 313.50,221.80 C314.58,221.10 315.58,219.47 316.50,218.00 C317.42,216.53 318.05,214.63 319.00,213.00 C319.95,211.37 321.35,210.83 322.20,208.20 C323.05,205.57 323.45,201.13 324.10,197.20 C324.75,193.27 325.42,184.87 326.10,184.60 C326.78,184.33 327.67,192.72 328.20,195.60 C328.73,198.48 328.73,199.80 329.30,201.90 C329.87,204.00 331.00,205.57 331.60,208.20 C332.20,210.83 332.37,215.43 332.90,217.70 C333.43,219.97 333.95,221.05 334.80,221.80 C335.65,222.55 337.47,222.13 338.00,222.20 L338.00,222.20 L310.00,222.20 Z" fill="#e6a29e" fill-opacity="0.75" stroke="none"/>
<path d="M310.00,222.20 C310.58,222.13 312.42,222.50 313.50,221.80 C314.58,221.10 315.58,219.47 316.50,218.00 C317.42,216.53 318.05,214.63 319.00,213.00 C319.95,211.37 321.35,210.83 322.20,208.20 C323.05,205.57 323.45,201.13 324.10,197.20 C324.75,193.27 325.42,184.87 326.10,184.60 C326.78,184.33 327.67,192.72 328.20,195.60 C328.73,198.48 328.73,199.80 329.30,201.90 C329.87,204.00 331.00,205.57 331.60,208.20 C332.20,210.83 332.37,215.43 332.90,217.70 C333.43,219.97 333.95,221.05 334.80,221.80 C335.65,222.55 337.47,222.13 338.00,222.20" fill="none" stroke="#b3123a" stroke-width="1.40" stroke-linejoin="round"/>
<path d="M306.00,222.20 C306.72,222.13 309.17,223.50 310.30,221.80 C311.43,220.10 312.00,217.42 312.80,212.00 C313.60,206.58 314.40,197.13 315.10,189.30 C315.80,181.47 316.47,170.55 317.00,165.00 C317.53,159.45 317.92,157.73 318.30,156.00 C318.68,154.27 318.92,153.93 319.30,154.60 C319.68,155.27 320.12,155.53 320.60,160.00 C321.08,164.47 321.67,175.23 322.20,181.40 C322.73,187.57 323.28,192.53 323.80,197.00 C324.32,201.47 324.68,204.87 325.30,208.20 C325.92,211.53 326.72,214.77 327.50,217.00 C328.28,219.23 328.92,220.73 330.00,221.60 C331.08,222.47 333.33,222.10 334.00,222.20" fill="none" stroke="#4f9e45" stroke-width="1.20" stroke-linejoin="round"/>
<path d="M304.00,222.20 C304.67,222.13 306.92,223.83 308.00,221.80 C309.08,219.77 309.73,216.13 310.50,210.00 C311.27,203.87 311.98,193.33 312.60,185.00 C313.22,176.67 313.65,165.85 314.20,160.00 C314.75,154.15 315.37,149.90 315.90,149.90 C316.43,149.90 316.80,153.32 317.40,160.00 C318.00,166.68 318.77,181.67 319.50,190.00 C320.23,198.33 320.83,204.73 321.80,210.00 C322.77,215.27 324.10,219.57 325.30,221.60 C326.50,223.63 328.38,222.10 329.00,222.20" fill="none" stroke="#2b4a96" stroke-width="1.30" stroke-linejoin="round"/>
<path d="M302.00,222.20 C302.60,222.13 304.35,224.65 305.60,221.80 C306.85,218.95 308.45,213.15 309.50,205.10 C310.55,197.05 311.27,181.68 311.90,173.50 C312.53,165.32 312.85,159.93 313.30,156.00 C313.75,152.07 314.05,148.28 314.60,149.90 C315.15,151.52 315.87,157.82 316.60,165.70 C317.33,173.58 318.20,189.32 319.00,197.20 C319.80,205.08 320.48,208.93 321.40,213.00 C322.32,217.07 323.40,220.07 324.50,221.60 C325.60,223.13 327.42,222.10 328.00,222.20" fill="none" stroke="#4a2478" stroke-width="1.40" stroke-linejoin="round"/>
<g>
<line x1="279.80" y1="141.50" x2="360.80" y2="141.50" stroke="#1a1a1a" stroke-width="1.10" stroke-linecap="butt"/>
<line x1="360.80" y1="141.50" x2="360.80" y2="222.40" stroke="#1a1a1a" stroke-width="1.10" stroke-linecap="butt"/>
<line x1="279.80" y1="141.50" x2="279.80" y2="222.40" stroke="#1a1a1a" stroke-width="1.50" stroke-linecap="butt"/>
<line x1="279.30" y1="222.40" x2="361.30" y2="222.40" stroke="#1a1a1a" stroke-width="1.70" stroke-linecap="butt"/>
<line x1="285.60" y1="222.40" x2="285.60" y2="225.00" stroke="#1a1a1a" stroke-width="1.10" stroke-linecap="butt"/>
<line x1="295.20" y1="222.40" x2="295.20" y2="225.00" stroke="#1a1a1a" stroke-width="1.10" stroke-linecap="butt"/>
<line x1="315.10" y1="222.40" x2="315.10" y2="225.00" stroke="#1a1a1a" stroke-width="1.10" stroke-linecap="butt"/>
<line x1="334.50" y1="222.40" x2="334.50" y2="225.00" stroke="#1a1a1a" stroke-width="1.10" stroke-linecap="butt"/>
<line x1="351.80" y1="222.40" x2="351.80" y2="225.00" stroke="#1a1a1a" stroke-width="1.10" stroke-linecap="butt"/>
<line x1="301.19" y1="222.40" x2="301.19" y2="224.00" stroke="#1a1a1a" stroke-width="0.80" stroke-linecap="butt"/>
<line x1="304.69" y1="222.40" x2="304.69" y2="224.00" stroke="#1a1a1a" stroke-width="0.80" stroke-linecap="butt"/>
<line x1="307.18" y1="222.40" x2="307.18" y2="224.00" stroke="#1a1a1a" stroke-width="0.80" stroke-linecap="butt"/>
<line x1="309.11" y1="222.40" x2="309.11" y2="224.00" stroke="#1a1a1a" stroke-width="0.80" stroke-linecap="butt"/>
<line x1="310.69" y1="222.40" x2="310.69" y2="224.00" stroke="#1a1a1a" stroke-width="0.80" stroke-linecap="butt"/>
<line x1="312.02" y1="222.40" x2="312.02" y2="224.00" stroke="#1a1a1a" stroke-width="0.80" stroke-linecap="butt"/>
<line x1="313.17" y1="222.40" x2="313.17" y2="224.00" stroke="#1a1a1a" stroke-width="0.80" stroke-linecap="butt"/>
<line x1="314.19" y1="222.40" x2="314.19" y2="224.00" stroke="#1a1a1a" stroke-width="0.80" stroke-linecap="butt"/>
<line x1="320.94" y1="222.40" x2="320.94" y2="224.00" stroke="#1a1a1a" stroke-width="0.80" stroke-linecap="butt"/>
<line x1="324.36" y1="222.40" x2="324.36" y2="224.00" stroke="#1a1a1a" stroke-width="0.80" stroke-linecap="butt"/>
<line x1="326.78" y1="222.40" x2="326.78" y2="224.00" stroke="#1a1a1a" stroke-width="0.80" stroke-linecap="butt"/>
<line x1="328.66" y1="222.40" x2="328.66" y2="224.00" stroke="#1a1a1a" stroke-width="0.80" stroke-linecap="butt"/>
<line x1="330.20" y1="222.40" x2="330.20" y2="224.00" stroke="#1a1a1a" stroke-width="0.80" stroke-linecap="butt"/>
<line x1="331.49" y1="222.40" x2="331.49" y2="224.00" stroke="#1a1a1a" stroke-width="0.80" stroke-linecap="butt"/>
<line x1="332.62" y1="222.40" x2="332.62" y2="224.00" stroke="#1a1a1a" stroke-width="0.80" stroke-linecap="butt"/>
<line x1="333.61" y1="222.40" x2="333.61" y2="224.00" stroke="#1a1a1a" stroke-width="0.80" stroke-linecap="butt"/>
<line x1="339.71" y1="222.40" x2="339.71" y2="224.00" stroke="#1a1a1a" stroke-width="0.80" stroke-linecap="butt"/>
<line x1="342.75" y1="222.40" x2="342.75" y2="224.00" stroke="#1a1a1a" stroke-width="0.80" stroke-linecap="butt"/>
<line x1="344.92" y1="222.40" x2="344.92" y2="224.00" stroke="#1a1a1a" stroke-width="0.80" stroke-linecap="butt"/>
<line x1="346.59" y1="222.40" x2="346.59" y2="224.00" stroke="#1a1a1a" stroke-width="0.80" stroke-linecap="butt"/>
<line x1="347.96" y1="222.40" x2="347.96" y2="224.00" stroke="#1a1a1a" stroke-width="0.80" stroke-linecap="butt"/>
<line x1="349.12" y1="222.40" x2="349.12" y2="224.00" stroke="#1a1a1a" stroke-width="0.80" stroke-linecap="butt"/>
<line x1="350.12" y1="222.40" x2="350.12" y2="224.00" stroke="#1a1a1a" stroke-width="0.80" stroke-linecap="butt"/>
<line x1="351.01" y1="222.40" x2="351.01" y2="224.00" stroke="#1a1a1a" stroke-width="0.80" stroke-linecap="butt"/>
<line x1="288.96" y1="222.40" x2="288.96" y2="224.00" stroke="#1a1a1a" stroke-width="0.80" stroke-linecap="butt"/>
<line x1="292.32" y1="222.40" x2="292.32" y2="224.00" stroke="#1a1a1a" stroke-width="0.80" stroke-linecap="butt"/>
<line x1="281.80" y1="222.40" x2="281.80" y2="224.00" stroke="#1a1a1a" stroke-width="0.80" stroke-linecap="butt"/>
<text x="285.60" y="237.00" font-size="6.50" text-anchor="middle" fill="#1a1a1a" stroke="#1a1a1a" stroke-width="0.22" ><tspan>0</tspan></text>
<text x="296.50" y="237.00" font-size="6.50" text-anchor="middle" fill="#1a1a1a" stroke="#1a1a1a" stroke-width="0.22" ><tspan>10</tspan><tspan baseline-shift="2.73" font-size="4.42">2</tspan></text>
<text x="316.40" y="237.00" font-size="6.50" text-anchor="middle" fill="#1a1a1a" stroke="#1a1a1a" stroke-width="0.22" ><tspan>10</tspan><tspan baseline-shift="2.73" font-size="4.42">3</tspan></text>
<text x="335.80" y="237.00" font-size="6.50" text-anchor="middle" fill="#1a1a1a" stroke="#1a1a1a" stroke-width="0.22" ><tspan>10</tspan><tspan baseline-shift="2.73" font-size="4.42">4</tspan></text>
<text x="353.10" y="237.00" font-size="6.50" text-anchor="middle" fill="#1a1a1a" stroke="#1a1a1a" stroke-width="0.22" ><tspan>10</tspan><tspan baseline-shift="2.73" font-size="4.42">5</tspan></text>
<text x="320.00" y="249.90" font-size="8.80" text-anchor="middle" fill="#1a1a1a" stroke="#1a1a1a" stroke-width="0.16" textLength="20.00" lengthAdjust="spacingAndGlyphs" ><tspan>PAI-1</tspan></text>
</g>
<text x="296.25" y="151.20" font-size="6.60" text-anchor="start" fill="#1a1a1a" stroke="#1a1a1a" stroke-width="0.16" textLength="17.50" lengthAdjust="spacingAndGlyphs" ><tspan>LS</tspan><tspan baseline-shift="2.77" font-size="4.49">−</tspan><tspan>K</tspan><tspan baseline-shift="2.77" font-size="4.49">−</tspan></text>
<text x="317.50" y="151.20" font-size="6.60" text-anchor="start" fill="#1a1a1a" stroke="#1a1a1a" stroke-width="0.16" textLength="14.50" lengthAdjust="spacingAndGlyphs" ><tspan>LS</tspan><tspan baseline-shift="2.77" font-size="4.49">−</tspan><tspan>K</tspan></text>
<text x="322.50" y="167.00" font-size="6.60" text-anchor="start" fill="#1a1a1a" stroke="#1a1a1a" stroke-width="0.16" textLength="35.00" lengthAdjust="spacingAndGlyphs" ><tspan>CD34</tspan><tspan baseline-shift="2.77" font-size="4.49">+</tspan><tspan> LSK</tspan></text>
<text x="325.00" y="183.00" font-size="6.60" text-anchor="start" fill="#1a1a1a" stroke="#1a1a1a" stroke-width="0.16" textLength="33.50" lengthAdjust="spacingAndGlyphs" ><tspan>CD34</tspan><tspan baseline-shift="2.77" font-size="4.49">−</tspan><tspan> LSK</tspan></text>
<text x="281.30" y="204.60" font-size="6.60" text-anchor="start" fill="#1a1a1a" stroke="#1a1a1a" stroke-width="0.16" textLength="9.50" lengthAdjust="spacingAndGlyphs" ><tspan>IgG</tspan></text>
<rect x="153.10" y="76.30" width="17.60" height="14.30" fill="#5a2a78"/>
<line x1="161.90" y1="76.30" x2="161.90" y2="75.20" stroke="#222" stroke-width="1.20" stroke-linecap="butt"/>
<line x1="157.06" y1="75.20" x2="166.74" y2="75.20" stroke="#222" stroke-width="1.30" stroke-linecap="butt"/>
<rect x="179.30" y="72.00" width="16.60" height="18.60" fill="#2d4f8e"/>
<line x1="187.60" y1="72.00" x2="187.60" y2="71.30" stroke="#222" stroke-width="1.20" stroke-linecap="butt"/>
<line x1="183.04" y1="71.30" x2="192.17" y2="71.30" stroke="#222" stroke-width="1.30" stroke-linecap="butt"/>
<rect x="204.80" y="58.30" width="17.20" height="32.30" fill="#6aab3f"/>
<line x1="213.40" y1="58.30" x2="213.40" y2="56.40" stroke="#222" stroke-width="1.20" stroke-linecap="butt"/>
<line x1="208.67" y1="56.40" x2="218.13" y2="56.40" stroke="#222" stroke-width="1.30" stroke-linecap="butt"/>
<rect x="230.50" y="39.30" width="16.90" height="51.30" fill="#b8112f"/>
<line x1="238.95" y1="39.30" x2="238.95" y2="37.50" stroke="#222" stroke-width="1.20" stroke-linecap="butt"/>
<line x1="234.30" y1="37.50" x2="243.60" y2="37.50" stroke="#222" stroke-width="1.30" stroke-linecap="butt"/>
<line x1="149.00" y1="19.50" x2="149.00" y2="91.30" stroke="#1a1a1a" stroke-width="1.30" stroke-linecap="butt"/>
<line x1="148.40" y1="90.60" x2="251.80" y2="90.60" stroke="#1a1a1a" stroke-width="1.50" stroke-linecap="butt"/>
<line x1="146.00" y1="90.60" x2="149.00" y2="90.60" stroke="#1a1a1a" stroke-width="1.10" stroke-linecap="butt"/>
<text x="142.20" y="93.00" font-size="6.80" text-anchor="end" fill="#1a1a1a" stroke="#1a1a1a" stroke-width="0.16" ><tspan>0</tspan></text>
<line x1="146.00" y1="77.18" x2="149.00" y2="77.18" stroke="#1a1a1a" stroke-width="1.10" stroke-linecap="butt"/>
<text x="142.20" y="79.58" font-size="6.80" text-anchor="end" fill="#1a1a1a" stroke="#1a1a1a" stroke-width="0.16" ><tspan>500</tspan></text>
<line x1="146.00" y1="63.76" x2="149.00" y2="63.76" stroke="#1a1a1a" stroke-width="1.10" stroke-linecap="butt"/>
<text x="142.20" y="66.16" font-size="6.80" text-anchor="end" fill="#1a1a1a" stroke="#1a1a1a" stroke-width="0.16" ><tspan>1,000</tspan></text>
<line x1="146.00" y1="50.34" x2="149.00" y2="50.34" stroke="#1a1a1a" stroke-width="1.10" stroke-linecap="butt"/>
<text x="142.20" y="52.74" font-size="6.80" text-anchor="end" fill="#1a1a1a" stroke="#1a1a1a" stroke-width="0.16" ><tspan>1,500</tspan></text>
<line x1="146.00" y1="36.92" x2="149.00" y2="36.92" stroke="#1a1a1a" stroke-width="1.10" stroke-linecap="butt"/>
<text x="142.20" y="39.32" font-size="6.80" text-anchor="end" fill="#1a1a1a" stroke="#1a1a1a" stroke-width="0.16" ><tspan>2,000</tspan></text>
<line x1="146.00" y1="23.50" x2="149.00" y2="23.50" stroke="#1a1a1a" stroke-width="1.10" stroke-linecap="butt"/>
<text x="142.20" y="25.90" font-size="6.80" text-anchor="end" fill="#1a1a1a" stroke="#1a1a1a" stroke-width="0.16" ><tspan>2,500</tspan></text>
<line x1="161.90" y1="90.60" x2="161.90" y2="93.40" stroke="#1a1a1a" stroke-width="1.10" stroke-linecap="butt"/>
<line x1="187.60" y1="90.60" x2="187.60" y2="93.40" stroke="#1a1a1a" stroke-width="1.10" stroke-linecap="butt"/>
<line x1="213.40" y1="90.60" x2="213.40" y2="93.40" stroke="#1a1a1a" stroke-width="1.10" stroke-linecap="butt"/>
<line x1="238.95" y1="90.60" x2="238.95" y2="93.40" stroke="#1a1a1a" stroke-width="1.10" stroke-linecap="butt"/>
<path d="M161.80,67.60 V65.30 H187.60 V67.60" fill="none" stroke="#222" stroke-width="1.35"/>
<text x="173.30" y="62.30" font-size="6.70" text-anchor="middle" fill="#1a1a1a" stroke="#1a1a1a" stroke-width="0.16" ><tspan font-style="italic">P</tspan><tspan>=.002</tspan></text>
<path d="M187.60,53.40 V51.10 H213.10 V53.40" fill="none" stroke="#222" stroke-width="1.35"/>
<text x="199.80" y="47.60" font-size="6.70" text-anchor="middle" fill="#1a1a1a" stroke="#1a1a1a" stroke-width="0.16" ><tspan font-style="italic">P</tspan><tspan>&lt;.001</tspan></text>
<path d="M213.10,34.40 V32.10 H238.80 V34.40" fill="none" stroke="#222" stroke-width="1.35"/>
<text x="226.20" y="29.30" font-size="6.70" text-anchor="middle" fill="#1a1a1a" stroke="#1a1a1a" stroke-width="0.16" ><tspan font-style="italic">P</tspan><tspan>&lt;.001</tspan></text>
<text x="161.80" y="103.70" font-size="7.00" text-anchor="middle" fill="#1a1a1a" stroke="#1a1a1a" stroke-width="0.16" ><tspan>LS</tspan><tspan baseline-shift="2.94" font-size="4.76">−</tspan><tspan>K</tspan><tspan baseline-shift="2.94" font-size="4.76">−</tspan></text>
<text x="187.60" y="103.70" font-size="7.00" text-anchor="middle" fill="#1a1a1a" stroke="#1a1a1a" stroke-width="0.16" ><tspan>LS</tspan><tspan baseline-shift="2.94" font-size="4.76">−</tspan><tspan>K</tspan></text>
<text x="213.10" y="103.70" font-size="7.00" text-anchor="middle" fill="#1a1a1a" stroke="#1a1a1a" stroke-width="0.16" ><tspan>CD34</tspan><tspan baseline-shift="2.94" font-size="4.76">+</tspan></text>
<text x="213.10" y="111.50" font-size="7.00" text-anchor="middle" fill="#1a1a1a" stroke="#1a1a1a" stroke-width="0.16" ><tspan>LSK</tspan></text>
<text x="238.80" y="103.70" font-size="7.00" text-anchor="middle" fill="#1a1a1a" stroke="#1a1a1a" stroke-width="0.16" ><tspan>CD34</tspan><tspan baseline-shift="2.94" font-size="4.76">−</tspan></text>
<text x="238.80" y="111.50" font-size="7.00" text-anchor="middle" fill="#1a1a1a" stroke="#1a1a1a" stroke-width="0.16" ><tspan>LSK</tspan></text>
<text x="118.85" y="54.45" font-size="9.30" text-anchor="middle" fill="#1a1a1a" stroke="#1a1a1a" stroke-width="0.22" textLength="58.50" lengthAdjust="spacingAndGlyphs" transform="rotate(-90.0 118.85 54.45)" ><tspan>MFI of TGF-b RI</tspan></text>
<rect x="413.30" y="72.90" width="16.90" height="17.30" fill="#5a2a78"/>
<line x1="421.75" y1="72.90" x2="421.75" y2="72.30" stroke="#222" stroke-width="1.20" stroke-linecap="butt"/>
<line x1="417.10" y1="72.30" x2="426.40" y2="72.30" stroke="#222" stroke-width="1.30" stroke-linecap="butt"/>
<rect x="439.20" y="68.30" width="16.70" height="21.90" fill="#2d4f8e"/>
<line x1="447.55" y1="68.30" x2="447.55" y2="67.30" stroke="#222" stroke-width="1.20" stroke-linecap="butt"/>
<line x1="442.96" y1="67.30" x2="452.14" y2="67.30" stroke="#222" stroke-width="1.30" stroke-linecap="butt"/>
<rect x="464.60" y="58.00" width="17.00" height="32.20" fill="#6aab3f"/>
<line x1="473.10" y1="58.00" x2="473.10" y2="54.50" stroke="#222" stroke-width="1.20" stroke-linecap="butt"/>
<line x1="468.43" y1="54.50" x2="477.78" y2="54.50" stroke="#222" stroke-width="1.30" stroke-linecap="butt"/>
<rect x="490.30" y="34.30" width="17.10" height="55.90" fill="#b8112f"/>
<line x1="498.85" y1="34.30" x2="498.85" y2="29.40" stroke="#222" stroke-width="1.20" stroke-linecap="butt"/>
<line x1="494.15" y1="29.40" x2="503.55" y2="29.40" stroke="#222" stroke-width="1.30" stroke-linecap="butt"/>
<line x1="408.70" y1="19.50" x2="408.70" y2="90.90" stroke="#1a1a1a" stroke-width="1.30" stroke-linecap="butt"/>
<line x1="408.10" y1="90.20" x2="511.80" y2="90.20" stroke="#1a1a1a" stroke-width="1.50" stroke-linecap="butt"/>
<line x1="405.70" y1="90.20" x2="408.70" y2="90.20" stroke="#1a1a1a" stroke-width="1.10" stroke-linecap="butt"/>
<text x="401.90" y="92.60" font-size="6.80" text-anchor="end" fill="#1a1a1a" stroke="#1a1a1a" stroke-width="0.16" ><tspan>0</tspan></text>
<line x1="405.70" y1="76.78" x2="408.70" y2="76.78" stroke="#1a1a1a" stroke-width="1.10" stroke-linecap="butt"/>
<text x="401.90" y="79.18" font-size="6.80" text-anchor="end" fill="#1a1a1a" stroke="#1a1a1a" stroke-width="0.16" ><tspan>500</tspan></text>
<line x1="405.70" y1="63.36" x2="408.70" y2="63.36" stroke="#1a1a1a" stroke-width="1.10" stroke-linecap="butt"/>
<text x="401.90" y="65.76" font-size="6.80" text-anchor="end" fill="#1a1a1a" stroke="#1a1a1a" stroke-width="0.16" ><tspan>1,000</tspan></text>
<line x1="405.70" y1="49.94" x2="408.70" y2="49.94" stroke="#1a1a1a" stroke-width="1.10" stroke-linecap="butt"/>
<text x="401.90" y="52.34" font-size="6.80" text-anchor="end" fill="#1a1a1a" stroke="#1a1a1a" stroke-width="0.16" ><tspan>1,500</tspan></text>
<line x1="405.70" y1="36.52" x2="408.70" y2="36.52" stroke="#1a1a1a" stroke-width="1.10" stroke-linecap="butt"/>
<text x="401.90" y="38.92" font-size="6.80" text-anchor="end" fill="#1a1a1a" stroke="#1a1a1a" stroke-width="0.16" ><tspan>2,000</tspan></text>
<line x1="405.70" y1="23.10" x2="408.70" y2="23.10" stroke="#1a1a1a" stroke-width="1.10" stroke-linecap="butt"/>
<text x="401.90" y="25.50" font-size="6.80" text-anchor="end" fill="#1a1a1a" stroke="#1a1a1a" stroke-width="0.16" ><tspan>2,500</tspan></text>
<line x1="421.75" y1="90.20" x2="421.75" y2="93.00" stroke="#1a1a1a" stroke-width="1.10" stroke-linecap="butt"/>
<line x1="447.55" y1="90.20" x2="447.55" y2="93.00" stroke="#1a1a1a" stroke-width="1.10" stroke-linecap="butt"/>
<line x1="473.10" y1="90.20" x2="473.10" y2="93.00" stroke="#1a1a1a" stroke-width="1.10" stroke-linecap="butt"/>
<line x1="498.85" y1="90.20" x2="498.85" y2="93.00" stroke="#1a1a1a" stroke-width="1.10" stroke-linecap="butt"/>
<path d="M421.80,66.30 V64.00 H447.60 V66.30" fill="none" stroke="#222" stroke-width="1.35"/>
<text x="433.50" y="61.60" font-size="6.70" text-anchor="middle" fill="#1a1a1a" stroke="#1a1a1a" stroke-width="0.16" ><tspan font-style="italic">P</tspan><tspan>=.002</tspan></text>
<path d="M447.60,52.50 V50.20 H473.10 V52.50" fill="none" stroke="#222" stroke-width="1.35"/>
<text x="460.80" y="47.60" font-size="6.70" text-anchor="middle" fill="#1a1a1a" stroke="#1a1a1a" stroke-width="0.16" ><tspan font-style="italic">P</tspan><tspan>=.006</tspan></text>
<path d="M473.10,27.90 V25.60 H498.80 V27.90" fill="none" stroke="#222" stroke-width="1.35"/>
<text x="485.70" y="22.20" font-size="6.70" text-anchor="middle" fill="#1a1a1a" stroke="#1a1a1a" stroke-width="0.16" ><tspan font-style="italic">P</tspan><tspan>=.002</tspan></text>
<text x="421.80" y="103.70" font-size="7.00" text-anchor="middle" fill="#1a1a1a" stroke="#1a1a1a" stroke-width="0.16" ><tspan>LS</tspan><tspan baseline-shift="2.94" font-size="4.76">−</tspan><tspan>K</tspan><tspan baseline-shift="2.94" font-size="4.76">−</tspan></text>
<text x="447.60" y="103.70" font-size="7.00" text-anchor="middle" fill="#1a1a1a" stroke="#1a1a1a" stroke-width="0.16" ><tspan>LS</tspan><tspan baseline-shift="2.94" font-size="4.76">−</tspan><tspan>K</tspan></text>
<text x="473.10" y="103.70" font-size="7.00" text-anchor="middle" fill="#1a1a1a" stroke="#1a1a1a" stroke-width="0.16" ><tspan>CD34</tspan><tspan baseline-shift="2.94" font-size="4.76">+</tspan></text>
<text x="473.10" y="111.50" font-size="7.00" text-anchor="middle" fill="#1a1a1a" stroke="#1a1a1a" stroke-width="0.16" ><tspan>LSK</tspan></text>
<text x="498.80" y="103.70" font-size="7.00" text-anchor="middle" fill="#1a1a1a" stroke="#1a1a1a" stroke-width="0.16" ><tspan>CD34</tspan><tspan baseline-shift="2.94" font-size="4.76">−</tspan></text>
<text x="498.80" y="111.50" font-size="7.00" text-anchor="middle" fill="#1a1a1a" stroke="#1a1a1a" stroke-width="0.16" ><tspan>LSK</tspan></text>
<text x="379.15" y="54.45" font-size="9.30" text-anchor="middle" fill="#1a1a1a" stroke="#1a1a1a" stroke-width="0.22" textLength="60.50" lengthAdjust="spacingAndGlyphs" transform="rotate(-90.0 379.15 54.45)" ><tspan>MFI of TGF-b RII</tspan></text>
<rect x="152.50" y="209.80" width="18.10" height="9.60" fill="#5a2a78"/>
<line x1="161.55" y1="209.80" x2="161.55" y2="209.20" stroke="#222" stroke-width="1.20" stroke-linecap="butt"/>
<line x1="156.57" y1="209.20" x2="166.53" y2="209.20" stroke="#222" stroke-width="1.30" stroke-linecap="butt"/>
<rect x="178.30" y="203.80" width="17.70" height="15.60" fill="#2d4f8e"/>
<line x1="187.15" y1="203.80" x2="187.15" y2="202.90" stroke="#222" stroke-width="1.20" stroke-linecap="butt"/>
<line x1="182.28" y1="202.90" x2="192.02" y2="202.90" stroke="#222" stroke-width="1.30" stroke-linecap="butt"/>
<rect x="203.10" y="196.60" width="17.70" height="22.80" fill="#6aab3f"/>
<line x1="211.95" y1="196.60" x2="211.95" y2="194.40" stroke="#222" stroke-width="1.20" stroke-linecap="butt"/>
<line x1="207.08" y1="194.40" x2="216.82" y2="194.40" stroke="#222" stroke-width="1.30" stroke-linecap="butt"/>
<rect x="228.50" y="169.80" width="17.80" height="49.60" fill="#b8112f"/>
<line x1="237.40" y1="169.80" x2="237.40" y2="166.90" stroke="#222" stroke-width="1.20" stroke-linecap="butt"/>
<line x1="232.50" y1="166.90" x2="242.30" y2="166.90" stroke="#222" stroke-width="1.30" stroke-linecap="butt"/>
<line x1="148.30" y1="150.00" x2="148.30" y2="220.10" stroke="#1a1a1a" stroke-width="1.30" stroke-linecap="butt"/>
<line x1="147.70" y1="219.40" x2="250.00" y2="219.40" stroke="#1a1a1a" stroke-width="1.50" stroke-linecap="butt"/>
<line x1="145.30" y1="219.40" x2="148.30" y2="219.40" stroke="#1a1a1a" stroke-width="1.10" stroke-linecap="butt"/>
<text x="141.50" y="221.80" font-size="6.80" text-anchor="end" fill="#1a1a1a" stroke="#1a1a1a" stroke-width="0.16" ><tspan>0</tspan></text>
<line x1="145.30" y1="208.25" x2="148.30" y2="208.25" stroke="#1a1a1a" stroke-width="1.10" stroke-linecap="butt"/>
<text x="141.50" y="210.65" font-size="6.80" text-anchor="end" fill="#1a1a1a" stroke="#1a1a1a" stroke-width="0.16" ><tspan>500</tspan></text>
<line x1="145.30" y1="197.10" x2="148.30" y2="197.10" stroke="#1a1a1a" stroke-width="1.10" stroke-linecap="butt"/>
<text x="141.50" y="199.50" font-size="6.80" text-anchor="end" fill="#1a1a1a" stroke="#1a1a1a" stroke-width="0.16" ><tspan>1,000</tspan></text>
<line x1="145.30" y1="185.95" x2="148.30" y2="185.95" stroke="#1a1a1a" stroke-width="1.10" stroke-linecap="butt"/>
<text x="141.50" y="188.35" font-size="6.80" text-anchor="end" fill="#1a1a1a" stroke="#1a1a1a" stroke-width="0.16" ><tspan>1,500</tspan></text>
<line x1="145.30" y1="174.80" x2="148.30" y2="174.80" stroke="#1a1a1a" stroke-width="1.10" stroke-linecap="butt"/>
<text x="141.50" y="177.20" font-size="6.80" text-anchor="end" fill="#1a1a1a" stroke="#1a1a1a" stroke-width="0.16" ><tspan>2,000</tspan></text>
<line x1="145.30" y1="163.65" x2="148.30" y2="163.65" stroke="#1a1a1a" stroke-width="1.10" stroke-linecap="butt"/>
<text x="141.50" y="166.05" font-size="6.80" text-anchor="end" fill="#1a1a1a" stroke="#1a1a1a" stroke-width="0.16" ><tspan>2,500</tspan></text>
<line x1="145.30" y1="152.50" x2="148.30" y2="152.50" stroke="#1a1a1a" stroke-width="1.10" stroke-linecap="butt"/>
<text x="141.50" y="154.90" font-size="6.80" text-anchor="end" fill="#1a1a1a" stroke="#1a1a1a" stroke-width="0.16" ><tspan>3,000</tspan></text>
<line x1="161.55" y1="219.40" x2="161.55" y2="222.20" stroke="#1a1a1a" stroke-width="1.10" stroke-linecap="butt"/>
<line x1="187.15" y1="219.40" x2="187.15" y2="222.20" stroke="#1a1a1a" stroke-width="1.10" stroke-linecap="butt"/>
<line x1="211.95" y1="219.40" x2="211.95" y2="222.20" stroke="#1a1a1a" stroke-width="1.10" stroke-linecap="butt"/>
<line x1="237.40" y1="219.40" x2="237.40" y2="222.20" stroke="#1a1a1a" stroke-width="1.10" stroke-linecap="butt"/>
<path d="M161.50,198.40 V196.10 H187.10 V198.40" fill="none" stroke="#222" stroke-width="1.35"/>
<text x="174.20" y="193.20" font-size="6.70" text-anchor="middle" fill="#1a1a1a" stroke="#1a1a1a" stroke-width="0.16" ><tspan font-style="italic">P</tspan><tspan>=.022</tspan></text>
<path d="M187.10,182.50 V180.20 H212.00 V182.50" fill="none" stroke="#222" stroke-width="1.35"/>
<text x="199.20" y="177.60" font-size="6.70" text-anchor="middle" fill="#1a1a1a" stroke="#1a1a1a" stroke-width="0.16" ><tspan font-style="italic">P</tspan><tspan>=.003</tspan></text>
<path d="M212.00,161.70 V159.40 H237.40 V161.70" fill="none" stroke="#222" stroke-width="1.35"/>
<text x="224.30" y="156.50" font-size="6.70" text-anchor="middle" fill="#1a1a1a" stroke="#1a1a1a" stroke-width="0.16" ><tspan font-style="italic">P</tspan><tspan>&lt;.001</tspan></text>
<text x="161.50" y="232.70" font-size="7.00" text-anchor="middle" fill="#1a1a1a" stroke="#1a1a1a" stroke-width="0.16" ><tspan>LS</tspan><tspan baseline-shift="2.94" font-size="4.76">−</tspan><tspan>K</tspan><tspan baseline-shift="2.94" font-size="4.76">−</tspan></text>
<text x="187.10" y="232.70" font-size="7.00" text-anchor="middle" fill="#1a1a1a" stroke="#1a1a1a" stroke-width="0.16" ><tspan>LS</tspan><tspan baseline-shift="2.94" font-size="4.76">−</tspan><tspan>K</tspan></text>
<text x="212.00" y="232.70" font-size="7.00" text-anchor="middle" fill="#1a1a1a" stroke="#1a1a1a" stroke-width="0.16" ><tspan>CD34</tspan><tspan baseline-shift="2.94" font-size="4.76">+</tspan></text>
<text x="212.00" y="241.10" font-size="7.00" text-anchor="middle" fill="#1a1a1a" stroke="#1a1a1a" stroke-width="0.16" ><tspan>LSK</tspan></text>
<text x="237.40" y="232.70" font-size="7.00" text-anchor="middle" fill="#1a1a1a" stroke="#1a1a1a" stroke-width="0.16" ><tspan>CD34</tspan><tspan baseline-shift="2.94" font-size="4.76">−</tspan></text>
<text x="237.40" y="241.10" font-size="7.00" text-anchor="middle" fill="#1a1a1a" stroke="#1a1a1a" stroke-width="0.16" ><tspan>LSK</tspan></text>
<text x="119.45" y="184.70" font-size="9.30" text-anchor="middle" fill="#1a1a1a" stroke="#1a1a1a" stroke-width="0.22" textLength="60.00" lengthAdjust="spacingAndGlyphs" transform="rotate(-90.0 119.45 184.70)" ><tspan>MFI of p-Smad3</tspan></text>
<rect x="412.90" y="208.10" width="17.70" height="10.80" fill="#5a2a78"/>
<line x1="421.75" y1="208.10" x2="421.75" y2="207.50" stroke="#222" stroke-width="1.20" stroke-linecap="butt"/>
<line x1="416.88" y1="207.50" x2="426.62" y2="207.50" stroke="#222" stroke-width="1.30" stroke-linecap="butt"/>
<rect x="438.10" y="204.00" width="17.80" height="14.90" fill="#2d4f8e"/>
<line x1="447.00" y1="204.00" x2="447.00" y2="203.40" stroke="#222" stroke-width="1.20" stroke-linecap="butt"/>
<line x1="442.11" y1="203.40" x2="451.89" y2="203.40" stroke="#222" stroke-width="1.30" stroke-linecap="butt"/>
<rect x="462.90" y="190.20" width="17.80" height="28.70" fill="#6aab3f"/>
<line x1="471.80" y1="190.20" x2="471.80" y2="189.30" stroke="#222" stroke-width="1.20" stroke-linecap="butt"/>
<line x1="466.90" y1="189.30" x2="476.69" y2="189.30" stroke="#222" stroke-width="1.30" stroke-linecap="butt"/>
<rect x="488.30" y="159.10" width="17.80" height="59.80" fill="#b8112f"/>
<line x1="497.20" y1="159.10" x2="497.20" y2="155.60" stroke="#222" stroke-width="1.20" stroke-linecap="butt"/>
<line x1="492.31" y1="155.60" x2="502.10" y2="155.60" stroke="#222" stroke-width="1.30" stroke-linecap="butt"/>
<line x1="408.70" y1="149.50" x2="408.70" y2="219.60" stroke="#1a1a1a" stroke-width="1.30" stroke-linecap="butt"/>
<line x1="408.10" y1="218.90" x2="510.50" y2="218.90" stroke="#1a1a1a" stroke-width="1.50" stroke-linecap="butt"/>
<line x1="405.70" y1="218.90" x2="408.70" y2="218.90" stroke="#1a1a1a" stroke-width="1.10" stroke-linecap="butt"/>
<text x="401.90" y="221.30" font-size="6.80" text-anchor="end" fill="#1a1a1a" stroke="#1a1a1a" stroke-width="0.16" ><tspan>0</tspan></text>
<line x1="405.70" y1="202.30" x2="408.70" y2="202.30" stroke="#1a1a1a" stroke-width="1.10" stroke-linecap="butt"/>
<text x="401.90" y="204.70" font-size="6.80" text-anchor="end" fill="#1a1a1a" stroke="#1a1a1a" stroke-width="0.16" ><tspan>1,000</tspan></text>
<line x1="405.70" y1="185.70" x2="408.70" y2="185.70" stroke="#1a1a1a" stroke-width="1.10" stroke-linecap="butt"/>
<text x="401.90" y="188.10" font-size="6.80" text-anchor="end" fill="#1a1a1a" stroke="#1a1a1a" stroke-width="0.16" ><tspan>2,000</tspan></text>
<line x1="405.70" y1="169.10" x2="408.70" y2="169.10" stroke="#1a1a1a" stroke-width="1.10" stroke-linecap="butt"/>
<text x="401.90" y="171.50" font-size="6.80" text-anchor="end" fill="#1a1a1a" stroke="#1a1a1a" stroke-width="0.16" ><tspan>3,000</tspan></text>
<line x1="405.70" y1="152.50" x2="408.70" y2="152.50" stroke="#1a1a1a" stroke-width="1.10" stroke-linecap="butt"/>
<text x="401.90" y="154.90" font-size="6.80" text-anchor="end" fill="#1a1a1a" stroke="#1a1a1a" stroke-width="0.16" ><tspan>4,000</tspan></text>
<line x1="406.90" y1="210.60" x2="408.70" y2="210.60" stroke="#1a1a1a" stroke-width="1.00" stroke-linecap="butt"/>
<line x1="406.90" y1="194.00" x2="408.70" y2="194.00" stroke="#1a1a1a" stroke-width="1.00" stroke-linecap="butt"/>
<line x1="406.90" y1="177.40" x2="408.70" y2="177.40" stroke="#1a1a1a" stroke-width="1.00" stroke-linecap="butt"/>
<line x1="406.90" y1="160.80" x2="408.70" y2="160.80" stroke="#1a1a1a" stroke-width="1.00" stroke-linecap="butt"/>
<line x1="421.75" y1="218.90" x2="421.75" y2="221.70" stroke="#1a1a1a" stroke-width="1.10" stroke-linecap="butt"/>
<line x1="447.00" y1="218.90" x2="447.00" y2="221.70" stroke="#1a1a1a" stroke-width="1.10" stroke-linecap="butt"/>
<line x1="471.80" y1="218.90" x2="471.80" y2="221.70" stroke="#1a1a1a" stroke-width="1.10" stroke-linecap="butt"/>
<line x1="497.20" y1="218.90" x2="497.20" y2="221.70" stroke="#1a1a1a" stroke-width="1.10" stroke-linecap="butt"/>
<path d="M421.90,202.30 V200.00 H447.20 V202.30" fill="none" stroke="#222" stroke-width="1.35"/>
<text x="433.30" y="198.00" font-size="6.70" text-anchor="middle" fill="#1a1a1a" stroke="#1a1a1a" stroke-width="0.16" ><tspan font-style="italic">P</tspan><tspan>=.005</tspan></text>
<path d="M447.20,188.00 V185.70 H471.80 V188.00" fill="none" stroke="#222" stroke-width="1.35"/>
<text x="459.40" y="183.30" font-size="6.70" text-anchor="middle" fill="#1a1a1a" stroke="#1a1a1a" stroke-width="0.16" ><tspan font-style="italic">P</tspan><tspan>&lt;.001</tspan></text>
<path d="M471.80,154.80 V152.50 H497.20 V154.80" fill="none" stroke="#222" stroke-width="1.35"/>
<text x="484.50" y="150.10" font-size="6.70" text-anchor="middle" fill="#1a1a1a" stroke="#1a1a1a" stroke-width="0.16" ><tspan font-style="italic">P</tspan><tspan>&lt;.001</tspan></text>
<text x="421.90" y="232.50" font-size="7.00" text-anchor="middle" fill="#1a1a1a" stroke="#1a1a1a" stroke-width="0.16" ><tspan>LS</tspan><tspan baseline-shift="2.94" font-size="4.76">−</tspan><tspan>K</tspan><tspan baseline-shift="2.94" font-size="4.76">−</tspan></text>
<text x="447.20" y="232.50" font-size="7.00" text-anchor="middle" fill="#1a1a1a" stroke="#1a1a1a" stroke-width="0.16" ><tspan>LS</tspan><tspan baseline-shift="2.94" font-size="4.76">−</tspan><tspan>K</tspan></text>
<text x="471.80" y="232.50" font-size="7.00" text-anchor="middle" fill="#1a1a1a" stroke="#1a1a1a" stroke-width="0.16" ><tspan>CD34</tspan><tspan baseline-shift="2.94" font-size="4.76">+</tspan></text>
<text x="471.80" y="241.10" font-size="7.00" text-anchor="middle" fill="#1a1a1a" stroke="#1a1a1a" stroke-width="0.16" ><tspan>LSK</tspan></text>
<text x="497.20" y="232.50" font-size="7.00" text-anchor="middle" fill="#1a1a1a" stroke="#1a1a1a" stroke-width="0.16" ><tspan>CD34</tspan><tspan baseline-shift="2.94" font-size="4.76">−</tspan></text>
<text x="497.20" y="241.10" font-size="7.00" text-anchor="middle" fill="#1a1a1a" stroke="#1a1a1a" stroke-width="0.16" ><tspan>LSK</tspan></text>
<text x="379.15" y="184.70" font-size="9.30" text-anchor="middle" fill="#1a1a1a" stroke="#1a1a1a" stroke-width="0.22" textLength="45.00" lengthAdjust="spacingAndGlyphs" transform="rotate(-90.0 379.15 184.70)" ><tspan>MFI of PAI-1</tspan></text>
<text x="18.50" y="296.60" font-size="6.40" text-anchor="start" fill="#333" stroke="#333" stroke-width="0.16" textLength="68.70" lengthAdjust="spacingAndGlyphs" ><tspan>(+/-) </tspan><tspan fill="#c2446a" stroke="#c2446a">TGF-β</tspan><tspan> (10ng/mL)</tspan></text>
<text x="48.20" y="302.60" font-size="6.40" text-anchor="middle" fill="#333" stroke="#333" stroke-width="0.16" ><tspan>or</tspan></text>
<text x="18.00" y="311.20" font-size="6.40" text-anchor="start" fill="#333" stroke="#333" stroke-width="0.16" textLength="70.80" lengthAdjust="spacingAndGlyphs" ><tspan>(+/-) </tspan><tspan fill="#5a68ae" stroke="#5a68ae">LY364947</tspan><tspan> (10μM)</tspan></text>
<line x1="47.30" y1="313.00" x2="47.30" y2="322.00" stroke="#222" stroke-width="0.90" stroke-linecap="butt"/>
<path d="M46.0,321.2 L47.3,324.8 L48.6,321.2 Z" fill="#222"/>
<defs><pattern id="dots" x="0" y="0" width="2.3" height="1.9" patternUnits="userSpaceOnUse"><rect width="2.3" height="1.9" fill="#2a2a2a"/><circle cx="0.6" cy="0.5" r="0.55" fill="#8c8c8c"/><circle cx="1.75" cy="1.45" r="0.55" fill="#8c8c8c"/></pattern></defs>
<ellipse cx="46.85" cy="330.4" rx="12.85" ry="7.2" fill="#fff" stroke="#1a1a1a" stroke-width="1.0"/>
<ellipse cx="47.0" cy="332.3" rx="11.9" ry="5.2" fill="url(#dots)" stroke="#1a1a1a" stroke-width="1.3"/>
<text x="60.60" y="326.90" font-size="6.80" text-anchor="start" fill="#333" stroke="#333" stroke-width="0.16" textLength="29.10" lengthAdjust="spacingAndGlyphs" ><tspan>Overnight</tspan></text>
<line x1="64.00" y1="334.40" x2="77.50" y2="334.40" stroke="#111" stroke-width="1.50" stroke-linecap="butt"/>
<path d="M76.6,331.6 L81.6,334.4 L76.6,337.2 Z" fill="#111"/>
<text x="85.40" y="337.90" font-size="10.50" text-anchor="start" fill="#111" font-weight="bold" textLength="24.30" lengthAdjust="spacingAndGlyphs" ><tspan>FACS</tspan></text>
<text x="33.10" y="349.40" font-size="6.90" text-anchor="start" fill="#333" stroke="#333" stroke-width="0.16" textLength="28.80" lengthAdjust="spacingAndGlyphs" ><tspan>LSK cells</tspan></text>
<path d="M198.70,347.00 L200.70,346.40 L201.32,339.07 L203.30,312.63 L205.38,284.87 L205.90,280.90 L206.48,284.87 L208.80,312.63 L211.00,339.07 L211.70,346.40 L213.70,347.00 Z" fill="#f6e2b8" fill-opacity="0.12" stroke="none"/>
<path d="M198.70,347.00 L200.70,346.40 L201.32,339.07 L203.30,312.63 L205.38,284.87 L205.90,280.90 L206.48,284.87 L208.80,312.63 L211.00,339.07 L211.70,346.40 L213.70,347.00" fill="none" stroke="#df9526" stroke-width="1.4" stroke-dasharray="1.8,1.0" stroke-linejoin="round"/>
<path d="M245.64,346.90 C245.74,346.87 246.04,346.82 246.24,346.72 C246.44,346.63 246.64,346.53 246.84,346.32 C247.04,346.10 247.24,345.87 247.44,345.44 C247.64,345.01 247.84,344.52 248.04,343.73 C248.24,342.93 248.44,342.00 248.64,340.66 C248.84,339.32 249.04,337.73 249.24,335.68 C249.44,333.63 249.64,331.19 249.84,328.37 C250.04,325.55 250.24,322.23 250.44,318.75 C250.64,315.28 250.84,311.29 251.04,307.52 C251.24,303.76 251.44,299.63 251.64,296.16 C251.84,292.68 252.04,289.18 252.24,286.65 C252.44,284.12 252.64,282.02 252.84,280.98 C253.04,279.94 253.24,279.78 253.44,280.40 C253.64,281.02 253.84,282.62 254.04,284.71 C254.24,286.80 254.44,289.80 254.64,292.92 C254.84,296.04 255.04,299.83 255.24,303.41 C255.44,306.99 255.64,310.90 255.84,314.39 C256.04,317.88 256.24,321.35 256.44,324.35 C256.64,327.35 256.84,330.08 257.04,332.39 C257.24,334.71 257.44,336.63 257.64,338.26 C257.84,339.88 258.04,341.10 258.24,342.14 C258.44,343.18 258.64,343.88 258.84,344.49 C259.04,345.10 259.24,345.47 259.44,345.80 C259.64,346.13 259.84,346.30 260.04,346.47 C260.24,346.63 260.54,346.73 260.64,346.78 L260.64,347.00 L245.64,347.00 Z" fill="#e6a29e" fill-opacity="0.70" stroke="none"/>
<path d="M239.32,346.90 C239.42,346.87 239.72,346.83 239.92,346.75 C240.12,346.67 240.32,346.58 240.52,346.41 C240.72,346.24 240.92,346.06 241.12,345.73 C241.32,345.41 241.52,345.04 241.72,344.45 C241.92,343.86 242.12,343.18 242.32,342.19 C242.52,341.21 242.72,340.06 242.92,338.55 C243.12,337.03 243.32,335.25 243.52,333.11 C243.72,330.96 243.92,328.45 244.12,325.67 C244.32,322.89 244.52,319.69 244.72,316.41 C244.92,313.13 245.12,309.46 245.32,306.01 C245.52,302.56 245.72,298.86 245.92,295.69 C246.12,292.52 246.32,289.37 246.52,286.99 C246.72,284.62 246.92,282.59 247.12,281.44 C247.32,280.30 247.52,279.66 247.72,280.12 C247.92,280.58 248.12,282.04 248.32,284.20 C248.52,286.37 248.72,289.69 248.92,293.11 C249.12,296.54 249.32,300.81 249.52,304.74 C249.72,308.67 249.92,312.97 250.12,316.71 C250.32,320.44 250.52,324.09 250.72,327.16 C250.92,330.22 251.12,332.90 251.32,335.12 C251.52,337.34 251.72,339.06 251.92,340.50 C252.12,341.94 252.32,342.91 252.52,343.75 C252.72,344.59 252.92,345.08 253.12,345.51 C253.32,345.95 253.52,346.17 253.72,346.38 C253.92,346.59 254.22,346.70 254.32,346.76 L254.32,347.00 L239.32,347.00 Z" fill="#b5c585" fill-opacity="0.70" stroke="none"/>
<path d="M237.16,346.90 C237.26,346.86 237.56,346.81 237.76,346.70 C237.96,346.58 238.16,346.46 238.36,346.18 C238.56,345.90 238.76,345.60 238.96,345.01 C239.16,344.42 239.36,343.75 239.56,342.63 C239.76,341.51 239.96,340.19 240.16,338.31 C240.36,336.43 240.56,334.15 240.76,331.35 C240.96,328.54 241.16,325.15 241.36,321.48 C241.56,317.82 241.76,313.48 241.96,309.35 C242.16,305.23 242.36,300.58 242.56,296.73 C242.76,292.87 242.96,288.94 243.16,286.24 C243.36,283.54 243.56,281.32 243.76,280.53 C243.96,279.74 244.16,279.93 244.36,281.49 C244.56,283.04 244.76,286.29 244.96,289.87 C245.16,293.46 245.36,298.48 245.56,303.02 C245.76,307.56 245.96,312.77 246.16,317.11 C246.36,321.45 246.56,325.67 246.76,329.06 C246.96,332.46 247.16,335.25 247.36,337.50 C247.56,339.75 247.76,341.28 247.96,342.56 C248.16,343.83 248.36,344.54 248.56,345.16 C248.76,345.79 248.96,346.06 249.16,346.33 C249.36,346.60 249.66,346.71 249.76,346.78 L249.76,347.00 L237.16,347.00 Z" fill="#9898d0" fill-opacity="0.80" stroke="none"/>
<path d="M239.32,346.90 C239.42,346.87 239.72,346.83 239.92,346.75 C240.12,346.67 240.32,346.58 240.52,346.41 C240.72,346.24 240.92,346.06 241.12,345.73 C241.32,345.41 241.52,345.04 241.72,344.45 C241.92,343.86 242.12,343.18 242.32,342.19 C242.52,341.21 242.72,340.06 242.92,338.55 C243.12,337.03 243.32,335.25 243.52,333.11 C243.72,330.96 243.92,328.45 244.12,325.67 C244.32,322.89 244.52,319.69 244.72,316.41 C244.92,313.13 245.12,309.46 245.32,306.01 C245.52,302.56 245.72,298.86 245.92,295.69 C246.12,292.52 246.32,289.37 246.52,286.99 C246.72,284.62 246.92,282.59 247.12,281.44 C247.32,280.30 247.52,279.66 247.72,280.12 C247.92,280.58 248.12,282.04 248.32,284.20 C248.52,286.37 248.72,289.69 248.92,293.11 C249.12,296.54 249.32,300.81 249.52,304.74 C249.72,308.67 249.92,312.97 250.12,316.71 C250.32,320.44 250.52,324.09 250.72,327.16 C250.92,330.22 251.12,332.90 251.32,335.12 C251.52,337.34 251.72,339.06 251.92,340.50 C252.12,341.94 252.32,342.91 252.52,343.75 C252.72,344.59 252.92,345.08 253.12,345.51 C253.32,345.95 253.52,346.17 253.72,346.38 C253.92,346.59 254.22,346.70 254.32,346.76" fill="none" stroke="#4f9e45" stroke-width="1.10" stroke-linejoin="round"/>
<path d="M237.16,346.90 C237.26,346.86 237.56,346.81 237.76,346.70 C237.96,346.58 238.16,346.46 238.36,346.18 C238.56,345.90 238.76,345.60 238.96,345.01 C239.16,344.42 239.36,343.75 239.56,342.63 C239.76,341.51 239.96,340.19 240.16,338.31 C240.36,336.43 240.56,334.15 240.76,331.35 C240.96,328.54 241.16,325.15 241.36,321.48 C241.56,317.82 241.76,313.48 241.96,309.35 C242.16,305.23 242.36,300.58 242.56,296.73 C242.76,292.87 242.96,288.94 243.16,286.24 C243.36,283.54 243.56,281.32 243.76,280.53 C243.96,279.74 244.16,279.93 244.36,281.49 C244.56,283.04 244.76,286.29 244.96,289.87 C245.16,293.46 245.36,298.48 245.56,303.02 C245.76,307.56 245.96,312.77 246.16,317.11 C246.36,321.45 246.56,325.67 246.76,329.06 C246.96,332.46 247.16,335.25 247.36,337.50 C247.56,339.75 247.76,341.28 247.96,342.56 C248.16,343.83 248.36,344.54 248.56,345.16 C248.76,345.79 248.96,346.06 249.16,346.33 C249.36,346.60 249.66,346.71 249.76,346.78" fill="none" stroke="#2b4a96" stroke-width="1.20" stroke-linejoin="round"/>
<path d="M245.64,346.90 C245.74,346.87 246.04,346.82 246.24,346.72 C246.44,346.63 246.64,346.53 246.84,346.32 C247.04,346.10 247.24,345.87 247.44,345.44 C247.64,345.01 247.84,344.52 248.04,343.73 C248.24,342.93 248.44,342.00 248.64,340.66 C248.84,339.32 249.04,337.73 249.24,335.68 C249.44,333.63 249.64,331.19 249.84,328.37 C250.04,325.55 250.24,322.23 250.44,318.75 C250.64,315.28 250.84,311.29 251.04,307.52 C251.24,303.76 251.44,299.63 251.64,296.16 C251.84,292.68 252.04,289.18 252.24,286.65 C252.44,284.12 252.64,282.02 252.84,280.98 C253.04,279.94 253.24,279.78 253.44,280.40 C253.64,281.02 253.84,282.62 254.04,284.71 C254.24,286.80 254.44,289.80 254.64,292.92 C254.84,296.04 255.04,299.83 255.24,303.41 C255.44,306.99 255.64,310.90 255.84,314.39 C256.04,317.88 256.24,321.35 256.44,324.35 C256.64,327.35 256.84,330.08 257.04,332.39 C257.24,334.71 257.44,336.63 257.64,338.26 C257.84,339.88 258.04,341.10 258.24,342.14 C258.44,343.18 258.64,343.88 258.84,344.49 C259.04,345.10 259.24,345.47 259.44,345.80 C259.64,346.13 259.84,346.30 260.04,346.47 C260.24,346.63 260.54,346.73 260.64,346.78" fill="none" stroke="#b3123a" stroke-width="1.30" stroke-linejoin="round"/>
<g>
<line x1="196.70" y1="273.10" x2="271.40" y2="273.10" stroke="#1a1a1a" stroke-width="1.10" stroke-linecap="butt"/>
<line x1="271.40" y1="273.10" x2="271.40" y2="347.30" stroke="#1a1a1a" stroke-width="1.10" stroke-linecap="butt"/>
<line x1="196.70" y1="273.10" x2="196.70" y2="347.30" stroke="#1a1a1a" stroke-width="1.50" stroke-linecap="butt"/>
<line x1="196.20" y1="347.30" x2="271.90" y2="347.30" stroke="#1a1a1a" stroke-width="1.70" stroke-linecap="butt"/>
<line x1="202.10" y1="347.30" x2="202.10" y2="349.90" stroke="#1a1a1a" stroke-width="1.10" stroke-linecap="butt"/>
<line x1="211.80" y1="347.30" x2="211.80" y2="349.90" stroke="#1a1a1a" stroke-width="1.10" stroke-linecap="butt"/>
<line x1="229.30" y1="347.30" x2="229.30" y2="349.90" stroke="#1a1a1a" stroke-width="1.10" stroke-linecap="butt"/>
<line x1="247.50" y1="347.30" x2="247.50" y2="349.90" stroke="#1a1a1a" stroke-width="1.10" stroke-linecap="butt"/>
<line x1="263.30" y1="347.30" x2="263.30" y2="349.90" stroke="#1a1a1a" stroke-width="1.10" stroke-linecap="butt"/>
<line x1="217.07" y1="347.30" x2="217.07" y2="348.90" stroke="#1a1a1a" stroke-width="0.80" stroke-linecap="butt"/>
<line x1="220.15" y1="347.30" x2="220.15" y2="348.90" stroke="#1a1a1a" stroke-width="0.80" stroke-linecap="butt"/>
<line x1="222.34" y1="347.30" x2="222.34" y2="348.90" stroke="#1a1a1a" stroke-width="0.80" stroke-linecap="butt"/>
<line x1="224.03" y1="347.30" x2="224.03" y2="348.90" stroke="#1a1a1a" stroke-width="0.80" stroke-linecap="butt"/>
<line x1="225.42" y1="347.30" x2="225.42" y2="348.90" stroke="#1a1a1a" stroke-width="0.80" stroke-linecap="butt"/>
<line x1="226.59" y1="347.30" x2="226.59" y2="348.90" stroke="#1a1a1a" stroke-width="0.80" stroke-linecap="butt"/>
<line x1="227.60" y1="347.30" x2="227.60" y2="348.90" stroke="#1a1a1a" stroke-width="0.80" stroke-linecap="butt"/>
<line x1="228.50" y1="347.30" x2="228.50" y2="348.90" stroke="#1a1a1a" stroke-width="0.80" stroke-linecap="butt"/>
<line x1="234.78" y1="347.30" x2="234.78" y2="348.90" stroke="#1a1a1a" stroke-width="0.80" stroke-linecap="butt"/>
<line x1="237.98" y1="347.30" x2="237.98" y2="348.90" stroke="#1a1a1a" stroke-width="0.80" stroke-linecap="butt"/>
<line x1="240.26" y1="347.30" x2="240.26" y2="348.90" stroke="#1a1a1a" stroke-width="0.80" stroke-linecap="butt"/>
<line x1="242.02" y1="347.30" x2="242.02" y2="348.90" stroke="#1a1a1a" stroke-width="0.80" stroke-linecap="butt"/>
<line x1="243.46" y1="347.30" x2="243.46" y2="348.90" stroke="#1a1a1a" stroke-width="0.80" stroke-linecap="butt"/>
<line x1="244.68" y1="347.30" x2="244.68" y2="348.90" stroke="#1a1a1a" stroke-width="0.80" stroke-linecap="butt"/>
<line x1="245.74" y1="347.30" x2="245.74" y2="348.90" stroke="#1a1a1a" stroke-width="0.80" stroke-linecap="butt"/>
<line x1="246.67" y1="347.30" x2="246.67" y2="348.90" stroke="#1a1a1a" stroke-width="0.80" stroke-linecap="butt"/>
<line x1="252.26" y1="347.30" x2="252.26" y2="348.90" stroke="#1a1a1a" stroke-width="0.80" stroke-linecap="butt"/>
<line x1="255.04" y1="347.30" x2="255.04" y2="348.90" stroke="#1a1a1a" stroke-width="0.80" stroke-linecap="butt"/>
<line x1="257.01" y1="347.30" x2="257.01" y2="348.90" stroke="#1a1a1a" stroke-width="0.80" stroke-linecap="butt"/>
<line x1="258.54" y1="347.30" x2="258.54" y2="348.90" stroke="#1a1a1a" stroke-width="0.80" stroke-linecap="butt"/>
<line x1="259.79" y1="347.30" x2="259.79" y2="348.90" stroke="#1a1a1a" stroke-width="0.80" stroke-linecap="butt"/>
<line x1="260.85" y1="347.30" x2="260.85" y2="348.90" stroke="#1a1a1a" stroke-width="0.80" stroke-linecap="butt"/>
<line x1="261.77" y1="347.30" x2="261.77" y2="348.90" stroke="#1a1a1a" stroke-width="0.80" stroke-linecap="butt"/>
<line x1="262.58" y1="347.30" x2="262.58" y2="348.90" stroke="#1a1a1a" stroke-width="0.80" stroke-linecap="butt"/>
<line x1="205.50" y1="347.30" x2="205.50" y2="348.90" stroke="#1a1a1a" stroke-width="0.80" stroke-linecap="butt"/>
<line x1="208.89" y1="347.30" x2="208.89" y2="348.90" stroke="#1a1a1a" stroke-width="0.80" stroke-linecap="butt"/>
<line x1="198.70" y1="347.30" x2="198.70" y2="348.90" stroke="#1a1a1a" stroke-width="0.80" stroke-linecap="butt"/>
<text x="202.10" y="361.50" font-size="6.50" text-anchor="middle" fill="#1a1a1a" stroke="#1a1a1a" stroke-width="0.22" ><tspan>0</tspan></text>
<text x="213.10" y="361.50" font-size="6.50" text-anchor="middle" fill="#1a1a1a" stroke="#1a1a1a" stroke-width="0.22" ><tspan>10</tspan><tspan baseline-shift="2.73" font-size="4.42">2</tspan></text>
<text x="230.60" y="361.50" font-size="6.50" text-anchor="middle" fill="#1a1a1a" stroke="#1a1a1a" stroke-width="0.22" ><tspan>10</tspan><tspan baseline-shift="2.73" font-size="4.42">3</tspan></text>
<text x="248.80" y="361.50" font-size="6.50" text-anchor="middle" fill="#1a1a1a" stroke="#1a1a1a" stroke-width="0.22" ><tspan>10</tspan><tspan baseline-shift="2.73" font-size="4.42">4</tspan></text>
<text x="264.60" y="361.50" font-size="6.50" text-anchor="middle" fill="#1a1a1a" stroke="#1a1a1a" stroke-width="0.22" ><tspan>10</tspan><tspan baseline-shift="2.73" font-size="4.42">5</tspan></text>
<text x="234.00" y="374.60" font-size="8.80" text-anchor="middle" fill="#1a1a1a" stroke="#1a1a1a" stroke-width="0.16" textLength="19.70" lengthAdjust="spacingAndGlyphs" ><tspan>PAI-1</tspan></text>
</g>
<path d="M313.50,346.90 L315.50,346.30 L316.05,338.87 L317.80,312.11 L319.64,284.01 L320.10,280.00 L320.57,284.01 L322.45,312.11 L324.24,338.87 L324.80,346.30 L326.80,346.90 Z" fill="#f6e2b8" fill-opacity="0.12" stroke="none"/>
<path d="M313.50,346.90 L315.50,346.30 L316.05,338.87 L317.80,312.11 L319.64,284.01 L320.10,280.00 L320.57,284.01 L322.45,312.11 L324.24,338.87 L324.80,346.30 L326.80,346.90" fill="none" stroke="#df9526" stroke-width="1.4" stroke-dasharray="1.8,1.0" stroke-linejoin="round"/>
<path d="M311.00,347.00 C311.18,346.65 311.20,346.13 312.10,344.90 C313.00,343.67 314.97,341.20 316.40,339.60 C317.83,338.00 319.45,336.90 320.70,335.30 C321.95,333.70 323.00,332.32 323.90,330.00 C324.80,327.68 325.38,325.52 326.10,321.40 C326.82,317.28 327.50,309.05 328.20,305.30 C328.90,301.55 329.68,301.57 330.30,298.90 C330.92,296.23 331.27,292.33 331.90,289.30 C332.53,286.27 333.47,280.88 334.10,280.70 C334.73,280.52 335.17,286.23 335.70,288.20 C336.23,290.17 336.77,290.72 337.30,292.50 C337.83,294.28 338.37,295.52 338.90,298.90 C339.43,302.28 339.78,308.33 340.50,312.80 C341.22,317.27 342.22,322.13 343.20,325.70 C344.18,329.27 345.15,331.53 346.40,334.20 C347.65,336.87 349.27,339.73 350.70,341.70 C352.13,343.67 353.75,345.12 355.00,346.00 C356.25,346.88 357.67,346.83 358.20,347.00 L358.20,346.90 L311.00,346.90 Z" fill="#e6a29e" fill-opacity="0.55" stroke="none"/>
<path d="M312.00,347.00 C312.38,346.83 312.85,346.70 314.30,346.00 C315.75,345.30 318.92,344.05 320.70,342.80 C322.48,341.55 323.75,340.63 325.00,338.50 C326.25,336.37 327.13,334.28 328.20,330.00 C329.27,325.72 330.50,318.33 331.40,312.80 C332.30,307.27 332.80,301.62 333.60,296.80 C334.40,291.98 335.40,286.50 336.20,283.90 C337.00,281.30 337.77,281.02 338.40,281.20 C339.03,281.38 339.38,281.87 340.00,285.00 C340.62,288.13 341.38,295.00 342.10,300.00 C342.82,305.00 343.40,310.00 344.30,315.00 C345.20,320.00 346.43,325.90 347.50,330.00 C348.57,334.10 349.45,336.93 350.70,339.60 C351.95,342.27 353.78,344.77 355.00,346.00 C356.22,347.23 357.50,346.83 358.00,347.00 L358.00,346.90 L312.00,346.90 Z" fill="#b5c585" fill-opacity="0.50" stroke="none"/>
<path d="M313.00,347.00 C313.57,346.83 314.58,346.52 316.40,346.00 C318.22,345.48 321.75,344.97 323.90,343.90 C326.05,342.83 327.68,341.57 329.30,339.60 C330.92,337.63 332.35,336.03 333.60,332.10 C334.85,328.17 335.92,321.00 336.80,316.00 C337.68,311.00 338.28,306.73 338.90,302.10 C339.52,297.47 339.97,291.05 340.50,288.20 C341.03,285.35 341.57,286.25 342.10,285.00 C342.63,283.75 343.17,280.17 343.70,280.70 C344.23,281.23 344.67,284.63 345.30,288.20 C345.93,291.77 346.78,297.63 347.50,302.10 C348.22,306.57 348.80,310.35 349.60,315.00 C350.40,319.65 351.40,325.90 352.30,330.00 C353.20,334.10 354.20,336.93 355.00,339.60 C355.80,342.27 356.38,344.77 357.10,346.00 C357.82,347.23 358.93,346.83 359.30,347.00 L359.30,346.90 L313.00,346.90 Z" fill="#9898d0" fill-opacity="0.60" stroke="none"/>
<path d="M312.00,347.00 C312.38,346.83 312.85,346.70 314.30,346.00 C315.75,345.30 318.92,344.05 320.70,342.80 C322.48,341.55 323.75,340.63 325.00,338.50 C326.25,336.37 327.13,334.28 328.20,330.00 C329.27,325.72 330.50,318.33 331.40,312.80 C332.30,307.27 332.80,301.62 333.60,296.80 C334.40,291.98 335.40,286.50 336.20,283.90 C337.00,281.30 337.77,281.02 338.40,281.20 C339.03,281.38 339.38,281.87 340.00,285.00 C340.62,288.13 341.38,295.00 342.10,300.00 C342.82,305.00 343.40,310.00 344.30,315.00 C345.20,320.00 346.43,325.90 347.50,330.00 C348.57,334.10 349.45,336.93 350.70,339.60 C351.95,342.27 353.78,344.77 355.00,346.00 C356.22,347.23 357.50,346.83 358.00,347.00" fill="none" stroke="#4f9e45" stroke-width="1.10" stroke-linejoin="round"/>
<path d="M313.00,347.00 C313.57,346.83 314.58,346.52 316.40,346.00 C318.22,345.48 321.75,344.97 323.90,343.90 C326.05,342.83 327.68,341.57 329.30,339.60 C330.92,337.63 332.35,336.03 333.60,332.10 C334.85,328.17 335.92,321.00 336.80,316.00 C337.68,311.00 338.28,306.73 338.90,302.10 C339.52,297.47 339.97,291.05 340.50,288.20 C341.03,285.35 341.57,286.25 342.10,285.00 C342.63,283.75 343.17,280.17 343.70,280.70 C344.23,281.23 344.67,284.63 345.30,288.20 C345.93,291.77 346.78,297.63 347.50,302.10 C348.22,306.57 348.80,310.35 349.60,315.00 C350.40,319.65 351.40,325.90 352.30,330.00 C353.20,334.10 354.20,336.93 355.00,339.60 C355.80,342.27 356.38,344.77 357.10,346.00 C357.82,347.23 358.93,346.83 359.30,347.00" fill="none" stroke="#2b4a96" stroke-width="1.20" stroke-linejoin="round"/>
<path d="M311.00,347.00 C311.18,346.65 311.20,346.13 312.10,344.90 C313.00,343.67 314.97,341.20 316.40,339.60 C317.83,338.00 319.45,336.90 320.70,335.30 C321.95,333.70 323.00,332.32 323.90,330.00 C324.80,327.68 325.38,325.52 326.10,321.40 C326.82,317.28 327.50,309.05 328.20,305.30 C328.90,301.55 329.68,301.57 330.30,298.90 C330.92,296.23 331.27,292.33 331.90,289.30 C332.53,286.27 333.47,280.88 334.10,280.70 C334.73,280.52 335.17,286.23 335.70,288.20 C336.23,290.17 336.77,290.72 337.30,292.50 C337.83,294.28 338.37,295.52 338.90,298.90 C339.43,302.28 339.78,308.33 340.50,312.80 C341.22,317.27 342.22,322.13 343.20,325.70 C344.18,329.27 345.15,331.53 346.40,334.20 C347.65,336.87 349.27,339.73 350.70,341.70 C352.13,343.67 353.75,345.12 355.00,346.00 C356.25,346.88 357.67,346.83 358.20,347.00" fill="none" stroke="#b3123a" stroke-width="1.30" stroke-linejoin="round"/>
<g>
<line x1="310.80" y1="272.90" x2="385.20" y2="272.90" stroke="#1a1a1a" stroke-width="1.10" stroke-linecap="butt"/>
<line x1="385.20" y1="272.90" x2="385.20" y2="347.30" stroke="#1a1a1a" stroke-width="1.10" stroke-linecap="butt"/>
<line x1="310.80" y1="272.90" x2="310.80" y2="347.30" stroke="#1a1a1a" stroke-width="1.50" stroke-linecap="butt"/>
<line x1="310.30" y1="347.30" x2="385.70" y2="347.30" stroke="#1a1a1a" stroke-width="1.70" stroke-linecap="butt"/>
<line x1="315.80" y1="347.30" x2="315.80" y2="349.90" stroke="#1a1a1a" stroke-width="1.10" stroke-linecap="butt"/>
<line x1="325.20" y1="347.30" x2="325.20" y2="349.90" stroke="#1a1a1a" stroke-width="1.10" stroke-linecap="butt"/>
<line x1="343.90" y1="347.30" x2="343.90" y2="349.90" stroke="#1a1a1a" stroke-width="1.10" stroke-linecap="butt"/>
<line x1="361.00" y1="347.30" x2="361.00" y2="349.90" stroke="#1a1a1a" stroke-width="1.10" stroke-linecap="butt"/>
<line x1="377.50" y1="347.30" x2="377.50" y2="349.90" stroke="#1a1a1a" stroke-width="1.10" stroke-linecap="butt"/>
<line x1="330.83" y1="347.30" x2="330.83" y2="348.90" stroke="#1a1a1a" stroke-width="0.80" stroke-linecap="butt"/>
<line x1="334.12" y1="347.30" x2="334.12" y2="348.90" stroke="#1a1a1a" stroke-width="0.80" stroke-linecap="butt"/>
<line x1="336.46" y1="347.30" x2="336.46" y2="348.90" stroke="#1a1a1a" stroke-width="0.80" stroke-linecap="butt"/>
<line x1="338.27" y1="347.30" x2="338.27" y2="348.90" stroke="#1a1a1a" stroke-width="0.80" stroke-linecap="butt"/>
<line x1="339.75" y1="347.30" x2="339.75" y2="348.90" stroke="#1a1a1a" stroke-width="0.80" stroke-linecap="butt"/>
<line x1="341.00" y1="347.30" x2="341.00" y2="348.90" stroke="#1a1a1a" stroke-width="0.80" stroke-linecap="butt"/>
<line x1="342.09" y1="347.30" x2="342.09" y2="348.90" stroke="#1a1a1a" stroke-width="0.80" stroke-linecap="butt"/>
<line x1="343.04" y1="347.30" x2="343.04" y2="348.90" stroke="#1a1a1a" stroke-width="0.80" stroke-linecap="butt"/>
<line x1="349.05" y1="347.30" x2="349.05" y2="348.90" stroke="#1a1a1a" stroke-width="0.80" stroke-linecap="butt"/>
<line x1="352.06" y1="347.30" x2="352.06" y2="348.90" stroke="#1a1a1a" stroke-width="0.80" stroke-linecap="butt"/>
<line x1="354.20" y1="347.30" x2="354.20" y2="348.90" stroke="#1a1a1a" stroke-width="0.80" stroke-linecap="butt"/>
<line x1="355.85" y1="347.30" x2="355.85" y2="348.90" stroke="#1a1a1a" stroke-width="0.80" stroke-linecap="butt"/>
<line x1="357.21" y1="347.30" x2="357.21" y2="348.90" stroke="#1a1a1a" stroke-width="0.80" stroke-linecap="butt"/>
<line x1="358.35" y1="347.30" x2="358.35" y2="348.90" stroke="#1a1a1a" stroke-width="0.80" stroke-linecap="butt"/>
<line x1="359.34" y1="347.30" x2="359.34" y2="348.90" stroke="#1a1a1a" stroke-width="0.80" stroke-linecap="butt"/>
<line x1="360.22" y1="347.30" x2="360.22" y2="348.90" stroke="#1a1a1a" stroke-width="0.80" stroke-linecap="butt"/>
<line x1="365.97" y1="347.30" x2="365.97" y2="348.90" stroke="#1a1a1a" stroke-width="0.80" stroke-linecap="butt"/>
<line x1="368.87" y1="347.30" x2="368.87" y2="348.90" stroke="#1a1a1a" stroke-width="0.80" stroke-linecap="butt"/>
<line x1="370.93" y1="347.30" x2="370.93" y2="348.90" stroke="#1a1a1a" stroke-width="0.80" stroke-linecap="butt"/>
<line x1="372.53" y1="347.30" x2="372.53" y2="348.90" stroke="#1a1a1a" stroke-width="0.80" stroke-linecap="butt"/>
<line x1="373.84" y1="347.30" x2="373.84" y2="348.90" stroke="#1a1a1a" stroke-width="0.80" stroke-linecap="butt"/>
<line x1="374.94" y1="347.30" x2="374.94" y2="348.90" stroke="#1a1a1a" stroke-width="0.80" stroke-linecap="butt"/>
<line x1="375.90" y1="347.30" x2="375.90" y2="348.90" stroke="#1a1a1a" stroke-width="0.80" stroke-linecap="butt"/>
<line x1="376.75" y1="347.30" x2="376.75" y2="348.90" stroke="#1a1a1a" stroke-width="0.80" stroke-linecap="butt"/>
<line x1="319.09" y1="347.30" x2="319.09" y2="348.90" stroke="#1a1a1a" stroke-width="0.80" stroke-linecap="butt"/>
<line x1="322.38" y1="347.30" x2="322.38" y2="348.90" stroke="#1a1a1a" stroke-width="0.80" stroke-linecap="butt"/>
<line x1="312.80" y1="347.30" x2="312.80" y2="348.90" stroke="#1a1a1a" stroke-width="0.80" stroke-linecap="butt"/>
<text x="315.80" y="361.50" font-size="6.50" text-anchor="middle" fill="#1a1a1a" stroke="#1a1a1a" stroke-width="0.22" ><tspan>0</tspan></text>
<text x="326.50" y="361.50" font-size="6.50" text-anchor="middle" fill="#1a1a1a" stroke="#1a1a1a" stroke-width="0.22" ><tspan>10</tspan><tspan baseline-shift="2.73" font-size="4.42">2</tspan></text>
<text x="345.20" y="361.50" font-size="6.50" text-anchor="middle" fill="#1a1a1a" stroke="#1a1a1a" stroke-width="0.22" ><tspan>10</tspan><tspan baseline-shift="2.73" font-size="4.42">3</tspan></text>
<text x="362.30" y="361.50" font-size="6.50" text-anchor="middle" fill="#1a1a1a" stroke="#1a1a1a" stroke-width="0.22" ><tspan>10</tspan><tspan baseline-shift="2.73" font-size="4.42">4</tspan></text>
<text x="378.80" y="361.50" font-size="6.50" text-anchor="middle" fill="#1a1a1a" stroke="#1a1a1a" stroke-width="0.22" ><tspan>10</tspan><tspan baseline-shift="2.73" font-size="4.42">5</tspan></text>
<text x="347.20" y="374.60" font-size="8.80" text-anchor="middle" fill="#1a1a1a" stroke="#1a1a1a" stroke-width="0.16" textLength="38.00" lengthAdjust="spacingAndGlyphs" ><tspan>MT1-MMP</tspan></text>
</g>
<path d="M426.60,346.90 L428.60,346.30 L429.18,338.21 L431.00,309.25 L432.92,278.84 L433.40,274.50 L433.86,278.84 L435.70,309.25 L437.45,338.21 L438.00,346.30 L440.00,346.90 Z" fill="#f6e2b8" fill-opacity="0.12" stroke="none"/>
<path d="M426.60,346.90 L428.60,346.30 L429.18,338.21 L431.00,309.25 L432.92,278.84 L433.40,274.50 L433.86,278.84 L435.70,309.25 L437.45,338.21 L438.00,346.30 L440.00,346.90" fill="none" stroke="#df9526" stroke-width="1.4" stroke-dasharray="1.8,1.0" stroke-linejoin="round"/>
<path d="M456.00,346.90 C456.67,346.85 458.27,347.82 460.00,346.60 C461.73,345.38 464.62,342.38 466.40,339.60 C468.18,336.82 469.53,332.58 470.70,329.90 C471.87,327.22 472.68,325.98 473.40,323.50 C474.12,321.02 474.57,319.45 475.00,315.00 C475.43,310.55 475.68,301.98 476.00,296.80 C476.32,291.62 476.53,286.93 476.90,283.90 C477.27,280.87 477.77,278.78 478.20,278.60 C478.63,278.42 479.05,278.88 479.50,282.80 C479.95,286.72 480.40,295.67 480.90,302.10 C481.40,308.53 481.88,315.68 482.50,321.40 C483.12,327.12 483.72,332.65 484.60,336.40 C485.48,340.15 486.55,342.23 487.80,343.90 C489.05,345.57 490.48,345.95 492.10,346.40 C493.72,346.85 496.42,347.33 497.50,346.60 C498.58,345.87 498.35,343.27 498.60,342.00 C498.85,340.73 498.93,339.50 499.00,339.00 L499.00,346.90 L456.00,346.90 Z" fill="#e6a29e" fill-opacity="0.55" stroke="none"/>
<path d="M452.00,346.90 C452.80,346.85 454.93,348.00 456.80,346.60 C458.67,345.20 461.42,341.45 463.20,338.50 C464.98,335.55 466.25,332.82 467.50,328.90 C468.75,324.98 469.82,320.35 470.70,315.00 C471.58,309.65 472.18,301.80 472.80,296.80 C473.42,291.80 473.95,287.50 474.40,285.00 C474.85,282.50 475.05,281.62 475.50,281.80 C475.95,281.98 476.57,282.72 477.10,286.10 C477.63,289.48 478.17,296.75 478.70,302.10 C479.23,307.45 479.67,312.85 480.30,318.20 C480.93,323.55 481.60,329.75 482.50,334.20 C483.40,338.65 484.45,342.80 485.70,344.90 C486.95,347.00 488.62,346.47 490.00,346.80 C491.38,347.13 493.33,346.88 494.00,346.90 L494.00,346.90 L452.00,346.90 Z" fill="#b5c585" fill-opacity="0.50" stroke="none"/>
<path d="M450.00,346.90 C450.77,346.85 453.12,347.47 454.60,346.60 C456.08,345.73 457.65,343.22 458.90,341.70 C460.15,340.18 461.20,339.28 462.10,337.50 C463.00,335.72 463.58,334.22 464.30,331.00 C465.02,327.78 465.78,323.02 466.40,318.20 C467.02,313.38 467.55,307.45 468.00,302.10 C468.45,296.75 468.73,289.67 469.10,286.10 C469.47,282.53 469.67,281.42 470.20,280.70 C470.73,279.98 471.77,280.90 472.30,281.80 C472.83,282.70 473.05,282.72 473.40,286.10 C473.75,289.48 474.05,296.75 474.40,302.10 C474.75,307.45 475.05,312.85 475.50,318.20 C475.95,323.55 476.47,329.92 477.10,334.20 C477.73,338.48 478.58,341.82 479.30,343.90 C480.02,345.98 480.45,346.20 481.40,346.70 C482.35,347.20 484.40,346.87 485.00,346.90 L485.00,346.90 L450.00,346.90 Z" fill="#9898d0" fill-opacity="0.60" stroke="none"/>
<path d="M452.00,346.90 C452.80,346.85 454.93,348.00 456.80,346.60 C458.67,345.20 461.42,341.45 463.20,338.50 C464.98,335.55 466.25,332.82 467.50,328.90 C468.75,324.98 469.82,320.35 470.70,315.00 C471.58,309.65 472.18,301.80 472.80,296.80 C473.42,291.80 473.95,287.50 474.40,285.00 C474.85,282.50 475.05,281.62 475.50,281.80 C475.95,281.98 476.57,282.72 477.10,286.10 C477.63,289.48 478.17,296.75 478.70,302.10 C479.23,307.45 479.67,312.85 480.30,318.20 C480.93,323.55 481.60,329.75 482.50,334.20 C483.40,338.65 484.45,342.80 485.70,344.90 C486.95,347.00 488.62,346.47 490.00,346.80 C491.38,347.13 493.33,346.88 494.00,346.90" fill="none" stroke="#4f9e45" stroke-width="1.10" stroke-linejoin="round"/>
<path d="M450.00,346.90 C450.77,346.85 453.12,347.47 454.60,346.60 C456.08,345.73 457.65,343.22 458.90,341.70 C460.15,340.18 461.20,339.28 462.10,337.50 C463.00,335.72 463.58,334.22 464.30,331.00 C465.02,327.78 465.78,323.02 466.40,318.20 C467.02,313.38 467.55,307.45 468.00,302.10 C468.45,296.75 468.73,289.67 469.10,286.10 C469.47,282.53 469.67,281.42 470.20,280.70 C470.73,279.98 471.77,280.90 472.30,281.80 C472.83,282.70 473.05,282.72 473.40,286.10 C473.75,289.48 474.05,296.75 474.40,302.10 C474.75,307.45 475.05,312.85 475.50,318.20 C475.95,323.55 476.47,329.92 477.10,334.20 C477.73,338.48 478.58,341.82 479.30,343.90 C480.02,345.98 480.45,346.20 481.40,346.70 C482.35,347.20 484.40,346.87 485.00,346.90" fill="none" stroke="#2b4a96" stroke-width="1.20" stroke-linejoin="round"/>
<path d="M456.00,346.90 C456.67,346.85 458.27,347.82 460.00,346.60 C461.73,345.38 464.62,342.38 466.40,339.60 C468.18,336.82 469.53,332.58 470.70,329.90 C471.87,327.22 472.68,325.98 473.40,323.50 C474.12,321.02 474.57,319.45 475.00,315.00 C475.43,310.55 475.68,301.98 476.00,296.80 C476.32,291.62 476.53,286.93 476.90,283.90 C477.27,280.87 477.77,278.78 478.20,278.60 C478.63,278.42 479.05,278.88 479.50,282.80 C479.95,286.72 480.40,295.67 480.90,302.10 C481.40,308.53 481.88,315.68 482.50,321.40 C483.12,327.12 483.72,332.65 484.60,336.40 C485.48,340.15 486.55,342.23 487.80,343.90 C489.05,345.57 490.48,345.95 492.10,346.40 C493.72,346.85 496.42,347.33 497.50,346.60 C498.58,345.87 498.35,343.27 498.60,342.00 C498.85,340.73 498.93,339.50 499.00,339.00" fill="none" stroke="#b3123a" stroke-width="1.30" stroke-linejoin="round"/>
<g>
<line x1="424.80" y1="272.90" x2="499.20" y2="272.90" stroke="#1a1a1a" stroke-width="1.10" stroke-linecap="butt"/>
<line x1="499.20" y1="272.90" x2="499.20" y2="347.20" stroke="#1a1a1a" stroke-width="1.10" stroke-linecap="butt"/>
<line x1="424.80" y1="272.90" x2="424.80" y2="347.20" stroke="#1a1a1a" stroke-width="1.50" stroke-linecap="butt"/>
<line x1="424.30" y1="347.20" x2="499.70" y2="347.20" stroke="#1a1a1a" stroke-width="1.70" stroke-linecap="butt"/>
<line x1="430.40" y1="347.20" x2="430.40" y2="349.80" stroke="#1a1a1a" stroke-width="1.10" stroke-linecap="butt"/>
<line x1="439.90" y1="347.20" x2="439.90" y2="349.80" stroke="#1a1a1a" stroke-width="1.10" stroke-linecap="butt"/>
<line x1="457.70" y1="347.20" x2="457.70" y2="349.80" stroke="#1a1a1a" stroke-width="1.10" stroke-linecap="butt"/>
<line x1="475.40" y1="347.20" x2="475.40" y2="349.80" stroke="#1a1a1a" stroke-width="1.10" stroke-linecap="butt"/>
<line x1="491.80" y1="347.20" x2="491.80" y2="349.80" stroke="#1a1a1a" stroke-width="1.10" stroke-linecap="butt"/>
<line x1="445.26" y1="347.20" x2="445.26" y2="348.80" stroke="#1a1a1a" stroke-width="0.80" stroke-linecap="butt"/>
<line x1="448.39" y1="347.20" x2="448.39" y2="348.80" stroke="#1a1a1a" stroke-width="0.80" stroke-linecap="butt"/>
<line x1="450.62" y1="347.20" x2="450.62" y2="348.80" stroke="#1a1a1a" stroke-width="0.80" stroke-linecap="butt"/>
<line x1="452.34" y1="347.20" x2="452.34" y2="348.80" stroke="#1a1a1a" stroke-width="0.80" stroke-linecap="butt"/>
<line x1="453.75" y1="347.20" x2="453.75" y2="348.80" stroke="#1a1a1a" stroke-width="0.80" stroke-linecap="butt"/>
<line x1="454.94" y1="347.20" x2="454.94" y2="348.80" stroke="#1a1a1a" stroke-width="0.80" stroke-linecap="butt"/>
<line x1="455.98" y1="347.20" x2="455.98" y2="348.80" stroke="#1a1a1a" stroke-width="0.80" stroke-linecap="butt"/>
<line x1="456.89" y1="347.20" x2="456.89" y2="348.80" stroke="#1a1a1a" stroke-width="0.80" stroke-linecap="butt"/>
<line x1="463.03" y1="347.20" x2="463.03" y2="348.80" stroke="#1a1a1a" stroke-width="0.80" stroke-linecap="butt"/>
<line x1="466.15" y1="347.20" x2="466.15" y2="348.80" stroke="#1a1a1a" stroke-width="0.80" stroke-linecap="butt"/>
<line x1="468.36" y1="347.20" x2="468.36" y2="348.80" stroke="#1a1a1a" stroke-width="0.80" stroke-linecap="butt"/>
<line x1="470.07" y1="347.20" x2="470.07" y2="348.80" stroke="#1a1a1a" stroke-width="0.80" stroke-linecap="butt"/>
<line x1="471.47" y1="347.20" x2="471.47" y2="348.80" stroke="#1a1a1a" stroke-width="0.80" stroke-linecap="butt"/>
<line x1="472.66" y1="347.20" x2="472.66" y2="348.80" stroke="#1a1a1a" stroke-width="0.80" stroke-linecap="butt"/>
<line x1="473.68" y1="347.20" x2="473.68" y2="348.80" stroke="#1a1a1a" stroke-width="0.80" stroke-linecap="butt"/>
<line x1="474.59" y1="347.20" x2="474.59" y2="348.80" stroke="#1a1a1a" stroke-width="0.80" stroke-linecap="butt"/>
<line x1="480.34" y1="347.20" x2="480.34" y2="348.80" stroke="#1a1a1a" stroke-width="0.80" stroke-linecap="butt"/>
<line x1="483.22" y1="347.20" x2="483.22" y2="348.80" stroke="#1a1a1a" stroke-width="0.80" stroke-linecap="butt"/>
<line x1="485.27" y1="347.20" x2="485.27" y2="348.80" stroke="#1a1a1a" stroke-width="0.80" stroke-linecap="butt"/>
<line x1="486.86" y1="347.20" x2="486.86" y2="348.80" stroke="#1a1a1a" stroke-width="0.80" stroke-linecap="butt"/>
<line x1="488.16" y1="347.20" x2="488.16" y2="348.80" stroke="#1a1a1a" stroke-width="0.80" stroke-linecap="butt"/>
<line x1="489.26" y1="347.20" x2="489.26" y2="348.80" stroke="#1a1a1a" stroke-width="0.80" stroke-linecap="butt"/>
<line x1="490.21" y1="347.20" x2="490.21" y2="348.80" stroke="#1a1a1a" stroke-width="0.80" stroke-linecap="butt"/>
<line x1="491.05" y1="347.20" x2="491.05" y2="348.80" stroke="#1a1a1a" stroke-width="0.80" stroke-linecap="butt"/>
<line x1="433.72" y1="347.20" x2="433.72" y2="348.80" stroke="#1a1a1a" stroke-width="0.80" stroke-linecap="butt"/>
<line x1="437.05" y1="347.20" x2="437.05" y2="348.80" stroke="#1a1a1a" stroke-width="0.80" stroke-linecap="butt"/>
<line x1="426.80" y1="347.20" x2="426.80" y2="348.80" stroke="#1a1a1a" stroke-width="0.80" stroke-linecap="butt"/>
<text x="430.40" y="361.50" font-size="6.50" text-anchor="middle" fill="#1a1a1a" stroke="#1a1a1a" stroke-width="0.22" ><tspan>0</tspan></text>
<text x="441.20" y="361.50" font-size="6.50" text-anchor="middle" fill="#1a1a1a" stroke="#1a1a1a" stroke-width="0.22" ><tspan>10</tspan><tspan baseline-shift="2.73" font-size="4.42">2</tspan></text>
<text x="459.00" y="361.50" font-size="6.50" text-anchor="middle" fill="#1a1a1a" stroke="#1a1a1a" stroke-width="0.22" ><tspan>10</tspan><tspan baseline-shift="2.73" font-size="4.42">3</tspan></text>
<text x="476.70" y="361.50" font-size="6.50" text-anchor="middle" fill="#1a1a1a" stroke="#1a1a1a" stroke-width="0.22" ><tspan>10</tspan><tspan baseline-shift="2.73" font-size="4.42">4</tspan></text>
<text x="493.10" y="361.50" font-size="6.50" text-anchor="middle" fill="#1a1a1a" stroke="#1a1a1a" stroke-width="0.22" ><tspan>10</tspan><tspan baseline-shift="2.73" font-size="4.42">5</tspan></text>
<text x="462.15" y="374.60" font-size="8.80" text-anchor="middle" fill="#1a1a1a" stroke="#1a1a1a" stroke-width="0.16" textLength="19.50" lengthAdjust="spacingAndGlyphs" ><tspan>CD44</tspan></text>
</g>
<line x1="261.90" y1="384.50" x2="277.50" y2="384.50" stroke="#df9526" stroke-width="1.10" stroke-linecap="butt" stroke-dasharray="1.6,0.9"/>
<text x="281.00" y="386.90" font-size="6.80" text-anchor="start" fill="#222" stroke="#222" stroke-width="0.16" textLength="10.30" lengthAdjust="spacingAndGlyphs" ><tspan>IgG</tspan></text>
<line x1="297.40" y1="384.50" x2="311.70" y2="384.50" stroke="#4f9e45" stroke-width="1.10" stroke-linecap="butt"/>
<text x="314.70" y="386.90" font-size="6.80" text-anchor="start" fill="#222" stroke="#222" stroke-width="0.16" textLength="22.00" lengthAdjust="spacingAndGlyphs" ><tspan>Control</tspan></text>
<line x1="343.00" y1="384.50" x2="356.80" y2="384.50" stroke="#b3123a" stroke-width="1.10" stroke-linecap="butt"/>
<text x="360.40" y="386.90" font-size="6.80" text-anchor="start" fill="#222" stroke="#222" stroke-width="0.16" textLength="20.10" lengthAdjust="spacingAndGlyphs" ><tspan>TGF-β</tspan></text>
<line x1="384.70" y1="384.50" x2="399.10" y2="384.50" stroke="#2b4a96" stroke-width="1.10" stroke-linecap="butt"/>
<text x="402.30" y="386.90" font-size="6.80" text-anchor="start" fill="#222" stroke="#222" stroke-width="0.16" textLength="31.70" lengthAdjust="spacingAndGlyphs" ><tspan>LY364947</tspan></text>
<path d="M22.00,490.40 C23.00,489.83 25.90,488.42 28.00,487.00 C30.10,485.58 32.85,484.23 34.60,481.90 C36.35,479.57 37.13,476.82 38.50,473.00 C39.87,469.18 41.72,463.33 42.80,459.00 C43.88,454.67 44.32,450.80 45.00,447.00 C45.68,443.20 46.32,438.70 46.90,436.20 C47.48,433.70 47.98,433.70 48.50,432.00 C49.02,430.30 49.53,427.48 50.00,426.00 C50.47,424.52 50.83,422.43 51.30,423.10 C51.77,423.77 52.18,425.10 52.80,430.00 C53.42,434.90 54.30,446.33 55.00,452.50 C55.70,458.67 56.32,462.65 57.00,467.00 C57.68,471.35 58.10,475.43 59.10,478.60 C60.10,481.77 61.63,484.22 63.00,486.00 C64.37,487.78 65.77,488.57 67.30,489.30 C68.83,490.03 71.38,490.22 72.20,490.40 L72.20,490.40 L22.00,490.40 Z" fill="#9898d0" fill-opacity="0.72" stroke="none"/>
<path d="M22.00,490.40 C23.00,489.83 25.90,488.42 28.00,487.00 C30.10,485.58 32.85,484.23 34.60,481.90 C36.35,479.57 37.13,476.82 38.50,473.00 C39.87,469.18 41.72,463.33 42.80,459.00 C43.88,454.67 44.32,450.80 45.00,447.00 C45.68,443.20 46.32,438.70 46.90,436.20 C47.48,433.70 47.98,433.70 48.50,432.00 C49.02,430.30 49.53,427.48 50.00,426.00 C50.47,424.52 50.83,422.43 51.30,423.10 C51.77,423.77 52.18,425.10 52.80,430.00 C53.42,434.90 54.30,446.33 55.00,452.50 C55.70,458.67 56.32,462.65 57.00,467.00 C57.68,471.35 58.10,475.43 59.10,478.60 C60.10,481.77 61.63,484.22 63.00,486.00 C64.37,487.78 65.77,488.57 67.30,489.30 C68.83,490.03 71.38,490.22 72.20,490.40" fill="none" stroke="#2b4a96" stroke-width="1.10" stroke-linejoin="round"/>
<path d="M20.00,490.20 C20.67,489.83 22.93,488.83 24.00,488.00 C25.07,487.17 25.57,486.87 26.40,485.20 C27.23,483.53 28.18,481.00 29.00,478.00 C29.82,475.00 30.63,471.03 31.30,467.20 C31.97,463.37 32.45,459.08 33.00,455.00 C33.55,450.92 34.05,446.87 34.60,442.70 C35.15,438.53 35.75,433.13 36.30,430.00 C36.85,426.87 37.37,424.23 37.90,423.90 C38.43,423.57 38.95,426.23 39.50,428.00 C40.05,429.77 40.70,431.50 41.20,434.50 C41.70,437.50 42.10,441.92 42.50,446.00 C42.90,450.08 43.10,454.33 43.60,459.00 C44.10,463.67 44.82,469.63 45.50,474.00 C46.18,478.37 46.78,482.53 47.70,485.20 C48.62,487.87 49.78,489.13 51.00,490.00 C52.22,490.87 54.33,490.33 55.00,490.40 L55.00,490.40 L20.00,490.40 Z" fill="#e6a29e" fill-opacity="0.70" stroke="none"/>
<path d="M20.00,490.20 C20.67,489.83 22.93,488.83 24.00,488.00 C25.07,487.17 25.57,486.87 26.40,485.20 C27.23,483.53 28.18,481.00 29.00,478.00 C29.82,475.00 30.63,471.03 31.30,467.20 C31.97,463.37 32.45,459.08 33.00,455.00 C33.55,450.92 34.05,446.87 34.60,442.70 C35.15,438.53 35.75,433.13 36.30,430.00 C36.85,426.87 37.37,424.23 37.90,423.90 C38.43,423.57 38.95,426.23 39.50,428.00 C40.05,429.77 40.70,431.50 41.20,434.50 C41.70,437.50 42.10,441.92 42.50,446.00 C42.90,450.08 43.10,454.33 43.60,459.00 C44.10,463.67 44.82,469.63 45.50,474.00 C46.18,478.37 46.78,482.53 47.70,485.20 C48.62,487.87 49.78,489.13 51.00,490.00 C52.22,490.87 54.33,490.33 55.00,490.40" fill="none" stroke="#b3123a" stroke-width="1.00" stroke-linejoin="round" stroke-dasharray="1.5,0.9"/>
<path d="M22.00,490.40 C23.00,489.80 26.33,488.37 28.00,486.80 C29.67,485.23 30.63,483.47 32.00,481.00 C33.37,478.53 35.03,475.17 36.20,472.00 C37.37,468.83 38.17,465.52 39.00,462.00 C39.83,458.48 40.60,455.23 41.20,450.90 C41.80,446.57 42.12,440.58 42.60,436.00 C43.08,431.42 43.60,424.07 44.10,423.40 C44.60,422.73 45.13,427.42 45.60,432.00 C46.07,436.58 46.50,444.90 46.90,450.90 C47.30,456.90 47.60,462.55 48.00,468.00 C48.40,473.45 48.67,479.93 49.30,483.60 C49.93,487.27 50.85,488.87 51.80,490.00 C52.75,491.13 54.47,490.33 55.00,490.40" fill="none" stroke="#b3123a" stroke-width="1.10" stroke-linejoin="round"/>
<path d="M22.00,490.40 C23.00,489.92 25.90,488.82 28.00,487.50 C30.10,486.18 32.85,484.75 34.60,482.50 C36.35,480.25 37.13,477.75 38.50,474.00 C39.87,470.25 41.72,464.33 42.80,460.00 C43.88,455.67 44.32,451.83 45.00,448.00 C45.68,444.17 46.32,439.58 46.90,437.00 C47.48,434.42 47.98,434.25 48.50,432.50 C49.02,430.75 49.53,428.00 50.00,426.50 C50.47,425.00 50.83,422.75 51.30,423.50 C51.77,424.25 52.27,426.25 52.80,431.00 C53.33,435.75 53.92,445.83 54.50,452.00 C55.08,458.17 55.68,463.33 56.30,468.00 C56.92,472.67 57.33,476.83 58.20,480.00 C59.07,483.17 60.20,485.30 61.50,487.00 C62.80,488.70 64.58,489.63 66.00,490.20 C67.42,490.77 69.33,490.37 70.00,490.40" fill="none" stroke="#333a6a" stroke-width="1.00" stroke-linejoin="round" stroke-dasharray="1.5,0.9"/>
<g>
<line x1="19.40" y1="416.70" x2="94.40" y2="416.70" stroke="#1a1a1a" stroke-width="1.10" stroke-linecap="butt"/>
<line x1="94.40" y1="416.70" x2="94.40" y2="490.90" stroke="#1a1a1a" stroke-width="1.10" stroke-linecap="butt"/>
<line x1="19.40" y1="416.70" x2="19.40" y2="490.90" stroke="#1a1a1a" stroke-width="1.50" stroke-linecap="butt"/>
<line x1="18.90" y1="490.90" x2="94.90" y2="490.90" stroke="#1a1a1a" stroke-width="1.70" stroke-linecap="butt"/>
<line x1="24.80" y1="490.90" x2="24.80" y2="493.50" stroke="#1a1a1a" stroke-width="1.10" stroke-linecap="butt"/>
<line x1="34.10" y1="490.90" x2="34.10" y2="493.50" stroke="#1a1a1a" stroke-width="1.10" stroke-linecap="butt"/>
<line x1="51.70" y1="490.90" x2="51.70" y2="493.50" stroke="#1a1a1a" stroke-width="1.10" stroke-linecap="butt"/>
<line x1="69.70" y1="490.90" x2="69.70" y2="493.50" stroke="#1a1a1a" stroke-width="1.10" stroke-linecap="butt"/>
<line x1="86.00" y1="490.90" x2="86.00" y2="493.50" stroke="#1a1a1a" stroke-width="1.10" stroke-linecap="butt"/>
<line x1="39.40" y1="490.90" x2="39.40" y2="492.50" stroke="#1a1a1a" stroke-width="0.80" stroke-linecap="butt"/>
<line x1="42.50" y1="490.90" x2="42.50" y2="492.50" stroke="#1a1a1a" stroke-width="0.80" stroke-linecap="butt"/>
<line x1="44.70" y1="490.90" x2="44.70" y2="492.50" stroke="#1a1a1a" stroke-width="0.80" stroke-linecap="butt"/>
<line x1="46.40" y1="490.90" x2="46.40" y2="492.50" stroke="#1a1a1a" stroke-width="0.80" stroke-linecap="butt"/>
<line x1="47.80" y1="490.90" x2="47.80" y2="492.50" stroke="#1a1a1a" stroke-width="0.80" stroke-linecap="butt"/>
<line x1="48.97" y1="490.90" x2="48.97" y2="492.50" stroke="#1a1a1a" stroke-width="0.80" stroke-linecap="butt"/>
<line x1="49.99" y1="490.90" x2="49.99" y2="492.50" stroke="#1a1a1a" stroke-width="0.80" stroke-linecap="butt"/>
<line x1="50.89" y1="490.90" x2="50.89" y2="492.50" stroke="#1a1a1a" stroke-width="0.80" stroke-linecap="butt"/>
<line x1="57.12" y1="490.90" x2="57.12" y2="492.50" stroke="#1a1a1a" stroke-width="0.80" stroke-linecap="butt"/>
<line x1="60.29" y1="490.90" x2="60.29" y2="492.50" stroke="#1a1a1a" stroke-width="0.80" stroke-linecap="butt"/>
<line x1="62.54" y1="490.90" x2="62.54" y2="492.50" stroke="#1a1a1a" stroke-width="0.80" stroke-linecap="butt"/>
<line x1="64.28" y1="490.90" x2="64.28" y2="492.50" stroke="#1a1a1a" stroke-width="0.80" stroke-linecap="butt"/>
<line x1="65.71" y1="490.90" x2="65.71" y2="492.50" stroke="#1a1a1a" stroke-width="0.80" stroke-linecap="butt"/>
<line x1="66.91" y1="490.90" x2="66.91" y2="492.50" stroke="#1a1a1a" stroke-width="0.80" stroke-linecap="butt"/>
<line x1="67.96" y1="490.90" x2="67.96" y2="492.50" stroke="#1a1a1a" stroke-width="0.80" stroke-linecap="butt"/>
<line x1="68.88" y1="490.90" x2="68.88" y2="492.50" stroke="#1a1a1a" stroke-width="0.80" stroke-linecap="butt"/>
<line x1="74.61" y1="490.90" x2="74.61" y2="492.50" stroke="#1a1a1a" stroke-width="0.80" stroke-linecap="butt"/>
<line x1="77.48" y1="490.90" x2="77.48" y2="492.50" stroke="#1a1a1a" stroke-width="0.80" stroke-linecap="butt"/>
<line x1="79.51" y1="490.90" x2="79.51" y2="492.50" stroke="#1a1a1a" stroke-width="0.80" stroke-linecap="butt"/>
<line x1="81.09" y1="490.90" x2="81.09" y2="492.50" stroke="#1a1a1a" stroke-width="0.80" stroke-linecap="butt"/>
<line x1="82.38" y1="490.90" x2="82.38" y2="492.50" stroke="#1a1a1a" stroke-width="0.80" stroke-linecap="butt"/>
<line x1="83.48" y1="490.90" x2="83.48" y2="492.50" stroke="#1a1a1a" stroke-width="0.80" stroke-linecap="butt"/>
<line x1="84.42" y1="490.90" x2="84.42" y2="492.50" stroke="#1a1a1a" stroke-width="0.80" stroke-linecap="butt"/>
<line x1="85.25" y1="490.90" x2="85.25" y2="492.50" stroke="#1a1a1a" stroke-width="0.80" stroke-linecap="butt"/>
<line x1="28.05" y1="490.90" x2="28.05" y2="492.50" stroke="#1a1a1a" stroke-width="0.80" stroke-linecap="butt"/>
<line x1="31.31" y1="490.90" x2="31.31" y2="492.50" stroke="#1a1a1a" stroke-width="0.80" stroke-linecap="butt"/>
<line x1="21.40" y1="490.90" x2="21.40" y2="492.50" stroke="#1a1a1a" stroke-width="0.80" stroke-linecap="butt"/>
<text x="24.80" y="505.00" font-size="6.50" text-anchor="middle" fill="#1a1a1a" stroke="#1a1a1a" stroke-width="0.22" ><tspan>0</tspan></text>
<text x="35.40" y="505.00" font-size="6.50" text-anchor="middle" fill="#1a1a1a" stroke="#1a1a1a" stroke-width="0.22" ><tspan>10</tspan><tspan baseline-shift="2.73" font-size="4.42">2</tspan></text>
<text x="53.00" y="505.00" font-size="6.50" text-anchor="middle" fill="#1a1a1a" stroke="#1a1a1a" stroke-width="0.22" ><tspan>10</tspan><tspan baseline-shift="2.73" font-size="4.42">3</tspan></text>
<text x="71.00" y="505.00" font-size="6.50" text-anchor="middle" fill="#1a1a1a" stroke="#1a1a1a" stroke-width="0.22" ><tspan>10</tspan><tspan baseline-shift="2.73" font-size="4.42">4</tspan></text>
<text x="87.30" y="505.00" font-size="6.50" text-anchor="middle" fill="#1a1a1a" stroke="#1a1a1a" stroke-width="0.22" ><tspan>10</tspan><tspan baseline-shift="2.73" font-size="4.42">5</tspan></text>
<text x="56.70" y="517.80" font-size="8.80" text-anchor="middle" fill="#1a1a1a" stroke="#1a1a1a" stroke-width="0.16" textLength="39.20" lengthAdjust="spacingAndGlyphs" ><tspan>MT1-MMP</tspan></text>
</g>
<line x1="100.80" y1="439.20" x2="112.70" y2="439.20" stroke="#b3123a" stroke-width="1.10" stroke-linecap="butt"/>
<text x="115.80" y="441.60" font-size="6.80" text-anchor="start" fill="#222" stroke="#222" stroke-width="0.16" textLength="36.10" lengthAdjust="spacingAndGlyphs" ><tspan>WT+control</tspan></text>
<line x1="100.80" y1="449.20" x2="112.70" y2="449.20" stroke="#4a6a8a" stroke-width="1.10" stroke-linecap="butt"/>
<text x="116.50" y="451.60" font-size="6.80" text-anchor="start" fill="#222" stroke="#222" stroke-width="0.16" textLength="52.30" lengthAdjust="spacingAndGlyphs" ><tspan>PAI-1 KO-control</tspan></text>
<line x1="100.80" y1="458.50" x2="112.70" y2="458.50" stroke="#b3123a" stroke-width="1.10" stroke-linecap="butt" stroke-dasharray="1.5,0.9"/>
<text x="115.00" y="460.90" font-size="6.80" text-anchor="start" fill="#222" stroke="#222" stroke-width="0.16" textLength="35.40" lengthAdjust="spacingAndGlyphs" ><tspan>WT+TGF-β</tspan></text>
<line x1="100.80" y1="467.70" x2="112.70" y2="467.70" stroke="#333a6a" stroke-width="1.10" stroke-linecap="butt" stroke-dasharray="1.5,0.9"/>
<text x="115.80" y="470.10" font-size="6.80" text-anchor="start" fill="#222" stroke="#222" stroke-width="0.16" textLength="53.00" lengthAdjust="spacingAndGlyphs" ><tspan>PAI-1 KO+TGF-β</tspan></text>
<rect x="229.00" y="446.90" width="13.20" height="17.50" fill="#6aab3f"/>
<line x1="235.60" y1="446.90" x2="235.60" y2="444.80" stroke="#222" stroke-width="1.20" stroke-linecap="butt"/>
<line x1="231.97" y1="444.80" x2="239.23" y2="444.80" stroke="#222" stroke-width="1.30" stroke-linecap="butt"/>
<rect x="247.20" y="424.00" width="12.80" height="40.40" fill="#b8112f"/>
<line x1="253.60" y1="424.00" x2="253.60" y2="422.20" stroke="#222" stroke-width="1.20" stroke-linecap="butt"/>
<line x1="250.08" y1="422.20" x2="257.12" y2="422.20" stroke="#222" stroke-width="1.30" stroke-linecap="butt"/>
<rect x="265.20" y="456.90" width="12.90" height="7.50" fill="#2d4f8e"/>
<line x1="271.65" y1="456.90" x2="271.65" y2="455.20" stroke="#222" stroke-width="1.20" stroke-linecap="butt"/>
<line x1="268.10" y1="455.20" x2="275.20" y2="455.20" stroke="#222" stroke-width="1.30" stroke-linecap="butt"/>
<line x1="226.25" y1="411.50" x2="226.25" y2="465.10" stroke="#1a1a1a" stroke-width="1.30" stroke-linecap="butt"/>
<line x1="225.65" y1="464.40" x2="283.50" y2="464.40" stroke="#1a1a1a" stroke-width="1.50" stroke-linecap="butt"/>
<line x1="223.25" y1="464.40" x2="226.25" y2="464.40" stroke="#1a1a1a" stroke-width="1.10" stroke-linecap="butt"/>
<text x="219.45" y="466.80" font-size="6.80" text-anchor="end" fill="#1a1a1a" stroke="#1a1a1a" stroke-width="0.16" ><tspan>0</tspan></text>
<line x1="223.25" y1="454.70" x2="226.25" y2="454.70" stroke="#1a1a1a" stroke-width="1.10" stroke-linecap="butt"/>
<text x="219.45" y="457.10" font-size="6.80" text-anchor="end" fill="#1a1a1a" stroke="#1a1a1a" stroke-width="0.16" ><tspan>5,000</tspan></text>
<line x1="223.25" y1="445.00" x2="226.25" y2="445.00" stroke="#1a1a1a" stroke-width="1.10" stroke-linecap="butt"/>
<text x="219.45" y="447.40" font-size="6.80" text-anchor="end" fill="#1a1a1a" stroke="#1a1a1a" stroke-width="0.16" ><tspan>10,000</tspan></text>
<line x1="223.25" y1="435.30" x2="226.25" y2="435.30" stroke="#1a1a1a" stroke-width="1.10" stroke-linecap="butt"/>
<text x="219.45" y="437.70" font-size="6.80" text-anchor="end" fill="#1a1a1a" stroke="#1a1a1a" stroke-width="0.16" ><tspan>15,000</tspan></text>
<line x1="223.25" y1="425.60" x2="226.25" y2="425.60" stroke="#1a1a1a" stroke-width="1.10" stroke-linecap="butt"/>
<text x="219.45" y="428.00" font-size="6.80" text-anchor="end" fill="#1a1a1a" stroke="#1a1a1a" stroke-width="0.16" ><tspan>20,000</tspan></text>
<line x1="223.25" y1="415.90" x2="226.25" y2="415.90" stroke="#1a1a1a" stroke-width="1.10" stroke-linecap="butt"/>
<text x="219.45" y="418.30" font-size="6.80" text-anchor="end" fill="#1a1a1a" stroke="#1a1a1a" stroke-width="0.16" ><tspan>25,000</tspan></text>
<line x1="235.60" y1="464.40" x2="235.60" y2="467.20" stroke="#1a1a1a" stroke-width="1.10" stroke-linecap="butt"/>
<line x1="253.60" y1="464.40" x2="253.60" y2="467.20" stroke="#1a1a1a" stroke-width="1.10" stroke-linecap="butt"/>
<line x1="271.65" y1="464.40" x2="271.65" y2="467.20" stroke="#1a1a1a" stroke-width="1.10" stroke-linecap="butt"/>
<path d="M235.45,420.40 V418.10 H253.35 V420.40" fill="none" stroke="#222" stroke-width="1.35"/>
<text x="244.40" y="415.60" font-size="6.70" text-anchor="middle" fill="#1a1a1a" stroke="#1a1a1a" stroke-width="0.16" ><tspan font-style="italic">P</tspan><tspan>&lt;.001</tspan></text>
<path d="M235.45,410.40 V408.10 H271.45 V410.40" fill="none" stroke="#222" stroke-width="1.35"/>
<text x="253.10" y="405.40" font-size="6.70" text-anchor="middle" fill="#1a1a1a" stroke="#1a1a1a" stroke-width="0.16" ><tspan font-style="italic">P</tspan><tspan>&lt;.001</tspan></text>
<text x="236.80" y="475.60" font-size="6.80" text-anchor="end" fill="#78b052" stroke="#78b052" stroke-width="0.12" transform="rotate(-45.0 236.80 475.60)" ><tspan>Control</tspan></text>
<text x="254.80" y="475.60" font-size="6.80" text-anchor="end" fill="#b82a58" stroke="#b82a58" stroke-width="0.12" transform="rotate(-45.0 254.80 475.60)" ><tspan>TGF-β</tspan></text>
<text x="273.40" y="475.60" font-size="6.80" text-anchor="end" fill="#4c5c96" stroke="#4c5c96" stroke-width="0.12" transform="rotate(-45.0 273.40 475.60)" ><tspan>LY364947</tspan></text>
<text x="192.95" y="439.20" font-size="9.30" text-anchor="middle" fill="#1a1a1a" stroke="#1a1a1a" stroke-width="0.22" textLength="45.70" lengthAdjust="spacingAndGlyphs" transform="rotate(-90.0 192.95 439.20)" ><tspan>MFI of PAI-1</tspan></text>
<rect x="341.10" y="443.10" width="12.90" height="21.00" fill="#6aab3f"/>
<line x1="347.55" y1="443.10" x2="347.55" y2="439.40" stroke="#222" stroke-width="1.20" stroke-linecap="butt"/>
<line x1="344.00" y1="439.40" x2="351.10" y2="439.40" stroke="#222" stroke-width="1.30" stroke-linecap="butt"/>
<rect x="359.00" y="456.00" width="12.80" height="8.10" fill="#2d4f8e"/>
<line x1="365.40" y1="456.00" x2="365.40" y2="453.40" stroke="#222" stroke-width="1.20" stroke-linecap="butt"/>
<line x1="361.88" y1="453.40" x2="368.92" y2="453.40" stroke="#222" stroke-width="1.30" stroke-linecap="butt"/>
<rect x="377.00" y="425.60" width="12.90" height="38.50" fill="#b8112f"/>
<line x1="383.45" y1="425.60" x2="383.45" y2="419.40" stroke="#222" stroke-width="1.20" stroke-linecap="butt"/>
<line x1="379.90" y1="419.40" x2="387.00" y2="419.40" stroke="#222" stroke-width="1.30" stroke-linecap="butt"/>
<line x1="338.25" y1="411.50" x2="338.25" y2="464.80" stroke="#1a1a1a" stroke-width="1.30" stroke-linecap="butt"/>
<line x1="337.65" y1="464.10" x2="395.50" y2="464.10" stroke="#1a1a1a" stroke-width="1.50" stroke-linecap="butt"/>
<line x1="335.25" y1="464.10" x2="338.25" y2="464.10" stroke="#1a1a1a" stroke-width="1.10" stroke-linecap="butt"/>
<text x="331.45" y="466.50" font-size="6.80" text-anchor="end" fill="#1a1a1a" stroke="#1a1a1a" stroke-width="0.16" ><tspan>0</tspan></text>
<line x1="335.25" y1="454.48" x2="338.25" y2="454.48" stroke="#1a1a1a" stroke-width="1.10" stroke-linecap="butt"/>
<text x="331.45" y="456.88" font-size="6.80" text-anchor="end" fill="#1a1a1a" stroke="#1a1a1a" stroke-width="0.16" ><tspan>200</tspan></text>
<line x1="335.25" y1="444.86" x2="338.25" y2="444.86" stroke="#1a1a1a" stroke-width="1.10" stroke-linecap="butt"/>
<text x="331.45" y="447.26" font-size="6.80" text-anchor="end" fill="#1a1a1a" stroke="#1a1a1a" stroke-width="0.16" ><tspan>400</tspan></text>
<line x1="335.25" y1="435.24" x2="338.25" y2="435.24" stroke="#1a1a1a" stroke-width="1.10" stroke-linecap="butt"/>
<text x="331.45" y="437.64" font-size="6.80" text-anchor="end" fill="#1a1a1a" stroke="#1a1a1a" stroke-width="0.16" ><tspan>600</tspan></text>
<line x1="335.25" y1="425.62" x2="338.25" y2="425.62" stroke="#1a1a1a" stroke-width="1.10" stroke-linecap="butt"/>
<text x="331.45" y="428.02" font-size="6.80" text-anchor="end" fill="#1a1a1a" stroke="#1a1a1a" stroke-width="0.16" ><tspan>800</tspan></text>
<line x1="335.25" y1="416.00" x2="338.25" y2="416.00" stroke="#1a1a1a" stroke-width="1.10" stroke-linecap="butt"/>
<text x="331.45" y="418.40" font-size="6.80" text-anchor="end" fill="#1a1a1a" stroke="#1a1a1a" stroke-width="0.16" ><tspan>1,000</tspan></text>
<line x1="347.55" y1="464.10" x2="347.55" y2="466.90" stroke="#1a1a1a" stroke-width="1.10" stroke-linecap="butt"/>
<line x1="365.40" y1="464.10" x2="365.40" y2="466.90" stroke="#1a1a1a" stroke-width="1.10" stroke-linecap="butt"/>
<line x1="383.45" y1="464.10" x2="383.45" y2="466.90" stroke="#1a1a1a" stroke-width="1.10" stroke-linecap="butt"/>
<path d="M347.40,438.60 V436.30 H365.25 V438.60" fill="none" stroke="#222" stroke-width="1.35"/>
<text x="355.40" y="433.80" font-size="6.70" text-anchor="middle" fill="#1a1a1a" stroke="#1a1a1a" stroke-width="0.16" ><tspan font-style="italic">P</tspan><tspan>&lt;.001</tspan></text>
<path d="M347.40,418.50 V416.20 H383.35 V418.50" fill="none" stroke="#222" stroke-width="1.35"/>
<text x="365.00" y="412.70" font-size="6.70" text-anchor="middle" fill="#1a1a1a" stroke="#1a1a1a" stroke-width="0.16" ><tspan font-style="italic">P</tspan><tspan>&lt;.001</tspan></text>
<text x="349.10" y="476.00" font-size="6.80" text-anchor="end" fill="#78b052" stroke="#78b052" stroke-width="0.12" transform="rotate(-45.0 349.10 476.00)" ><tspan>Control</tspan></text>
<text x="367.40" y="476.00" font-size="6.80" text-anchor="end" fill="#b82a58" stroke="#b82a58" stroke-width="0.12" transform="rotate(-45.0 367.40 476.00)" ><tspan>TGF-β</tspan></text>
<text x="385.90" y="476.00" font-size="6.80" text-anchor="end" fill="#4c5c96" stroke="#4c5c96" stroke-width="0.12" transform="rotate(-45.0 385.90 476.00)" ><tspan>LY364947</tspan></text>
<text x="309.15" y="438.65" font-size="9.30" text-anchor="middle" fill="#1a1a1a" stroke="#1a1a1a" stroke-width="0.22" textLength="63.30" lengthAdjust="spacingAndGlyphs" transform="rotate(-90.0 309.15 438.65)" ><tspan>MFI of MT1-MMP</tspan></text>
<rect x="456.75" y="443.40" width="13.05" height="20.60" fill="#6aab3f"/>
<line x1="463.27" y1="443.40" x2="463.27" y2="441.30" stroke="#222" stroke-width="1.20" stroke-linecap="butt"/>
<line x1="459.69" y1="441.30" x2="466.86" y2="441.30" stroke="#222" stroke-width="1.30" stroke-linecap="butt"/>
<rect x="475.30" y="431.20" width="12.80" height="32.80" fill="#b8112f"/>
<line x1="481.70" y1="431.20" x2="481.70" y2="428.30" stroke="#222" stroke-width="1.20" stroke-linecap="butt"/>
<line x1="478.18" y1="428.30" x2="485.22" y2="428.30" stroke="#222" stroke-width="1.30" stroke-linecap="butt"/>
<rect x="494.20" y="454.50" width="13.00" height="9.50" fill="#2d4f8e"/>
<line x1="500.70" y1="454.50" x2="500.70" y2="454.10" stroke="#222" stroke-width="1.20" stroke-linecap="butt"/>
<line x1="497.12" y1="454.10" x2="504.27" y2="454.10" stroke="#222" stroke-width="1.30" stroke-linecap="butt"/>
<line x1="453.65" y1="410.00" x2="453.65" y2="464.70" stroke="#1a1a1a" stroke-width="1.30" stroke-linecap="butt"/>
<line x1="453.05" y1="464.00" x2="513.50" y2="464.00" stroke="#1a1a1a" stroke-width="1.50" stroke-linecap="butt"/>
<line x1="450.65" y1="464.00" x2="453.65" y2="464.00" stroke="#1a1a1a" stroke-width="1.10" stroke-linecap="butt"/>
<text x="446.85" y="466.40" font-size="6.80" text-anchor="end" fill="#1a1a1a" stroke="#1a1a1a" stroke-width="0.16" ><tspan>0</tspan></text>
<line x1="450.65" y1="451.60" x2="453.65" y2="451.60" stroke="#1a1a1a" stroke-width="1.10" stroke-linecap="butt"/>
<text x="446.85" y="454.00" font-size="6.80" text-anchor="end" fill="#1a1a1a" stroke="#1a1a1a" stroke-width="0.16" ><tspan>5,000</tspan></text>
<line x1="450.65" y1="439.20" x2="453.65" y2="439.20" stroke="#1a1a1a" stroke-width="1.10" stroke-linecap="butt"/>
<text x="446.85" y="441.60" font-size="6.80" text-anchor="end" fill="#1a1a1a" stroke="#1a1a1a" stroke-width="0.16" ><tspan>10,000</tspan></text>
<line x1="450.65" y1="426.80" x2="453.65" y2="426.80" stroke="#1a1a1a" stroke-width="1.10" stroke-linecap="butt"/>
<text x="446.85" y="429.20" font-size="6.80" text-anchor="end" fill="#1a1a1a" stroke="#1a1a1a" stroke-width="0.16" ><tspan>15,000</tspan></text>
<line x1="450.65" y1="414.40" x2="453.65" y2="414.40" stroke="#1a1a1a" stroke-width="1.10" stroke-linecap="butt"/>
<text x="446.85" y="416.80" font-size="6.80" text-anchor="end" fill="#1a1a1a" stroke="#1a1a1a" stroke-width="0.16" ><tspan>20,000</tspan></text>
<line x1="463.27" y1="464.00" x2="463.27" y2="466.80" stroke="#1a1a1a" stroke-width="1.10" stroke-linecap="butt"/>
<line x1="481.70" y1="464.00" x2="481.70" y2="466.80" stroke="#1a1a1a" stroke-width="1.10" stroke-linecap="butt"/>
<line x1="500.70" y1="464.00" x2="500.70" y2="466.80" stroke="#1a1a1a" stroke-width="1.10" stroke-linecap="butt"/>
<path d="M463.15,427.10 V424.80 H481.45 V427.10" fill="none" stroke="#222" stroke-width="1.35"/>
<text x="471.50" y="422.30" font-size="6.70" text-anchor="middle" fill="#1a1a1a" stroke="#1a1a1a" stroke-width="0.16" ><tspan font-style="italic">P</tspan><tspan>=.008</tspan></text>
<path d="M463.15,416.30 V414.00 H500.60 V416.30" fill="none" stroke="#222" stroke-width="1.35"/>
<text x="481.40" y="411.40" font-size="6.70" text-anchor="middle" fill="#1a1a1a" stroke="#1a1a1a" stroke-width="0.16" ><tspan font-style="italic">P</tspan><tspan>&lt;.001</tspan></text>
<text x="465.50" y="475.40" font-size="6.80" text-anchor="end" fill="#78b052" stroke="#78b052" stroke-width="0.12" transform="rotate(-45.0 465.50 475.40)" ><tspan>Control</tspan></text>
<text x="483.50" y="475.40" font-size="6.80" text-anchor="end" fill="#b82a58" stroke="#b82a58" stroke-width="0.12" transform="rotate(-45.0 483.50 475.40)" ><tspan>TGF-β</tspan></text>
<text x="502.90" y="475.40" font-size="6.80" text-anchor="end" fill="#4c5c96" stroke="#4c5c96" stroke-width="0.12" transform="rotate(-45.0 502.90 475.40)" ><tspan>LY364947</tspan></text>
<text x="419.65" y="437.90" font-size="9.30" text-anchor="middle" fill="#1a1a1a" stroke="#1a1a1a" stroke-width="0.22" textLength="45.60" lengthAdjust="spacingAndGlyphs" transform="rotate(-90.0 419.65 437.90)" ><tspan>MFI of CD44</tspan></text>
<rect x="60.40" y="576.90" width="13.10" height="18.00" fill="#6aab3f"/>
<line x1="66.95" y1="576.90" x2="66.95" y2="574.20" stroke="#222" stroke-width="1.20" stroke-linecap="butt"/>
<line x1="63.35" y1="574.20" x2="70.55" y2="574.20" stroke="#222" stroke-width="1.30" stroke-linecap="butt"/>
<rect x="78.80" y="588.50" width="13.10" height="6.40" fill="#b8112f"/>
<line x1="85.35" y1="588.50" x2="85.35" y2="585.80" stroke="#222" stroke-width="1.20" stroke-linecap="butt"/>
<line x1="81.75" y1="585.80" x2="88.95" y2="585.80" stroke="#222" stroke-width="1.30" stroke-linecap="butt"/>
<rect x="97.80" y="556.20" width="12.90" height="38.70" fill="#6aab3f"/>
<line x1="104.25" y1="556.20" x2="104.25" y2="553.50" stroke="#222" stroke-width="1.20" stroke-linecap="butt"/>
<line x1="100.70" y1="553.50" x2="107.80" y2="553.50" stroke="#222" stroke-width="1.30" stroke-linecap="butt"/>
<rect x="116.50" y="556.20" width="12.80" height="38.70" fill="#b8112f"/>
<line x1="122.90" y1="556.20" x2="122.90" y2="555.40" stroke="#222" stroke-width="1.20" stroke-linecap="butt"/>
<line x1="119.38" y1="555.40" x2="126.42" y2="555.40" stroke="#222" stroke-width="1.30" stroke-linecap="butt"/>
<line x1="56.80" y1="542.50" x2="56.80" y2="595.60" stroke="#1a1a1a" stroke-width="1.30" stroke-linecap="butt"/>
<line x1="56.20" y1="594.90" x2="132.30" y2="594.90" stroke="#1a1a1a" stroke-width="1.50" stroke-linecap="butt"/>
<line x1="53.80" y1="594.90" x2="56.80" y2="594.90" stroke="#1a1a1a" stroke-width="1.10" stroke-linecap="butt"/>
<text x="49.60" y="597.30" font-size="6.30" text-anchor="end" fill="#1a1a1a" stroke="#1a1a1a" stroke-width="0.16" ><tspan>0</tspan></text>
<line x1="53.80" y1="586.65" x2="56.80" y2="586.65" stroke="#1a1a1a" stroke-width="1.10" stroke-linecap="butt"/>
<text x="49.60" y="589.05" font-size="6.30" text-anchor="end" fill="#1a1a1a" stroke="#1a1a1a" stroke-width="0.16" ><tspan>200</tspan></text>
<line x1="53.80" y1="578.40" x2="56.80" y2="578.40" stroke="#1a1a1a" stroke-width="1.10" stroke-linecap="butt"/>
<text x="49.60" y="580.80" font-size="6.30" text-anchor="end" fill="#1a1a1a" stroke="#1a1a1a" stroke-width="0.16" ><tspan>400</tspan></text>
<line x1="53.80" y1="570.15" x2="56.80" y2="570.15" stroke="#1a1a1a" stroke-width="1.10" stroke-linecap="butt"/>
<text x="49.60" y="572.55" font-size="6.30" text-anchor="end" fill="#1a1a1a" stroke="#1a1a1a" stroke-width="0.16" ><tspan>600</tspan></text>
<line x1="53.80" y1="561.90" x2="56.80" y2="561.90" stroke="#1a1a1a" stroke-width="1.10" stroke-linecap="butt"/>
<text x="49.60" y="564.30" font-size="6.30" text-anchor="end" fill="#1a1a1a" stroke="#1a1a1a" stroke-width="0.16" ><tspan>800</tspan></text>
<line x1="53.80" y1="553.65" x2="56.80" y2="553.65" stroke="#1a1a1a" stroke-width="1.10" stroke-linecap="butt"/>
<text x="49.60" y="556.05" font-size="6.30" text-anchor="end" fill="#1a1a1a" stroke="#1a1a1a" stroke-width="0.16" ><tspan>1,000</tspan></text>
<line x1="53.80" y1="545.40" x2="56.80" y2="545.40" stroke="#1a1a1a" stroke-width="1.10" stroke-linecap="butt"/>
<text x="49.60" y="547.80" font-size="6.30" text-anchor="end" fill="#1a1a1a" stroke="#1a1a1a" stroke-width="0.16" ><tspan>1,200</tspan></text>
<line x1="66.95" y1="594.90" x2="66.95" y2="597.70" stroke="#1a1a1a" stroke-width="1.10" stroke-linecap="butt"/>
<line x1="85.35" y1="594.90" x2="85.35" y2="597.70" stroke="#1a1a1a" stroke-width="1.10" stroke-linecap="butt"/>
<line x1="104.25" y1="594.90" x2="104.25" y2="597.70" stroke="#1a1a1a" stroke-width="1.10" stroke-linecap="butt"/>
<line x1="122.90" y1="594.90" x2="122.90" y2="597.70" stroke="#1a1a1a" stroke-width="1.10" stroke-linecap="butt"/>
<path d="M66.65,573.10 V570.80 H85.00 V573.10" fill="none" stroke="#222" stroke-width="1.35"/>
<text x="75.60" y="568.80" font-size="6.70" text-anchor="middle" fill="#1a1a1a" stroke="#1a1a1a" stroke-width="0.16" ><tspan font-style="italic">P</tspan><tspan>&lt;.001</tspan></text>
<path d="M66.65,552.50 V550.20 H104.25 V552.50" fill="none" stroke="#222" stroke-width="1.35"/>
<text x="85.20" y="548.60" font-size="6.70" text-anchor="middle" fill="#1a1a1a" stroke="#1a1a1a" stroke-width="0.16" ><tspan font-style="italic">P</tspan><tspan>&lt;.001</tspan></text>
<text x="70.20" y="605.40" font-size="6.80" text-anchor="end" fill="#1a1a1a" stroke="#1a1a1a" stroke-width="0.16" transform="rotate(-45.0 70.20 605.40)" ><tspan>control</tspan></text>
<text x="88.50" y="605.40" font-size="6.80" text-anchor="end" fill="#1a1a1a" stroke="#1a1a1a" stroke-width="0.16" transform="rotate(-45.0 88.50 605.40)" ><tspan>TGF-β</tspan></text>
<text x="107.70" y="605.40" font-size="6.80" text-anchor="end" fill="#1a1a1a" stroke="#1a1a1a" stroke-width="0.16" transform="rotate(-45.0 107.70 605.40)" ><tspan>control</tspan></text>
<text x="126.00" y="605.40" font-size="6.80" text-anchor="end" fill="#1a1a1a" stroke="#1a1a1a" stroke-width="0.16" transform="rotate(-45.0 126.00 605.40)" ><tspan>TGF-β</tspan></text>
<text x="27.65" y="569.90" font-size="9.30" text-anchor="middle" fill="#1a1a1a" stroke="#1a1a1a" stroke-width="0.22" textLength="64.00" lengthAdjust="spacingAndGlyphs" transform="rotate(-90.0 27.65 569.90)" ><tspan>MFI of MT1-MMP</tspan></text>
<path d="M104.25,552.50 V550.20 H122.70 V552.50" fill="none" stroke="#222" stroke-width="1.15"/>
<text x="113.50" y="548.60" font-size="6.60" text-anchor="middle" fill="#1a1a1a" stroke="#1a1a1a" stroke-width="0.16" ><tspan>NS</tspan></text>
<line x1="49.60" y1="622.30" x2="85.20" y2="622.30" stroke="#222" stroke-width="1.30" stroke-linecap="butt"/>
<line x1="88.00" y1="622.30" x2="123.10" y2="622.30" stroke="#222" stroke-width="1.30" stroke-linecap="butt"/>
<text x="66.90" y="632.50" font-size="6.80" text-anchor="middle" fill="#1a1a1a" stroke="#1a1a1a" stroke-width="0.16" ><tspan>WT</tspan></text>
<text x="105.40" y="632.50" font-size="6.80" text-anchor="middle" fill="#1a1a1a" stroke="#1a1a1a" stroke-width="0.16" textLength="28.00" lengthAdjust="spacingAndGlyphs" ><tspan>PAI-1 KO</tspan></text>
<path d="M199.40,587.70 L201.40,587.10 L202.04,579.12 L204.05,550.52 L206.17,520.49 L206.70,516.20 L207.30,520.49 L209.70,550.52 L211.98,579.12 L212.70,587.10 L214.70,587.70 Z" fill="#f6e2b8" fill-opacity="0.12" stroke="none"/>
<path d="M199.40,587.70 L201.40,587.10 L202.04,579.12 L204.05,550.52 L206.17,520.49 L206.70,516.20 L207.30,520.49 L209.70,550.52 L211.98,579.12 L212.70,587.10 L214.70,587.70" fill="none" stroke="#df9526" stroke-width="1.4" stroke-dasharray="1.8,1.0" stroke-linejoin="round"/>
<path d="M230.00,587.70 C230.82,587.37 233.63,587.30 234.90,585.70 C236.17,584.10 236.87,582.48 237.60,578.10 C238.33,573.72 238.83,565.27 239.30,559.40 C239.77,553.53 240.03,548.02 240.40,542.90 C240.77,537.78 241.05,531.90 241.50,528.70 C241.95,525.50 242.55,524.43 243.10,523.70 C243.65,522.97 244.33,523.65 244.80,524.30 C245.27,524.95 245.53,524.50 245.90,527.60 C246.27,530.70 246.63,537.60 247.00,542.90 C247.37,548.20 247.65,553.90 248.10,559.40 C248.55,564.90 249.07,571.70 249.70,575.90 C250.33,580.10 251.08,582.78 251.90,584.60 C252.72,586.42 253.58,586.28 254.60,586.80 C255.62,587.32 257.43,587.55 258.00,587.70 L258.00,587.70 L230.00,587.70 Z" fill="#e6a29e" fill-opacity="0.55" stroke="none"/>
<path d="M208.00,587.70 C208.83,587.62 211.58,587.57 213.00,587.20 C214.42,586.83 215.43,585.98 216.50,585.50 C217.57,585.02 218.40,584.25 219.40,584.30 C220.40,584.35 221.40,585.30 222.50,585.80 C223.60,586.30 224.42,586.98 226.00,587.30 C227.58,587.62 230.15,587.97 232.00,587.70 C233.85,587.43 235.70,587.30 237.10,585.70 C238.50,584.10 239.48,582.48 240.40,578.10 C241.32,573.72 241.97,565.63 242.60,559.40 C243.23,553.17 243.65,546.18 244.20,540.70 C244.75,535.22 245.35,529.88 245.90,526.50 C246.45,523.12 247.05,520.40 247.50,520.40 C247.95,520.40 248.23,522.75 248.60,526.50 C248.97,530.25 249.25,536.87 249.70,542.90 C250.15,548.93 250.67,556.83 251.30,562.70 C251.93,568.57 252.58,574.27 253.50,578.10 C254.42,581.93 255.72,584.10 256.80,585.70 C257.88,587.30 259.47,587.37 260.00,587.70 L260.00,587.70 L208.00,587.70 Z" fill="#b5c585" fill-opacity="0.50" stroke="none"/>
<path d="M236.00,587.70 C236.73,587.37 238.93,586.93 240.40,585.70 C241.87,584.47 243.70,584.13 244.80,580.30 C245.90,576.47 246.45,568.93 247.00,562.70 C247.55,556.47 247.75,548.38 248.10,542.90 C248.45,537.42 248.70,532.58 249.10,529.80 C249.50,527.02 250.03,525.83 250.50,526.20 C250.97,526.57 251.48,528.30 251.90,532.00 C252.32,535.70 252.63,542.92 253.00,548.40 C253.37,553.88 253.65,559.77 254.10,564.90 C254.55,570.03 255.07,575.73 255.70,579.20 C256.33,582.67 256.85,584.28 257.90,585.70 C258.95,587.12 261.32,587.37 262.00,587.70 L262.00,587.70 L236.00,587.70 Z" fill="#9898d0" fill-opacity="0.60" stroke="none"/>
<path d="M208.00,587.70 C208.83,587.62 211.58,587.57 213.00,587.20 C214.42,586.83 215.43,585.98 216.50,585.50 C217.57,585.02 218.40,584.25 219.40,584.30 C220.40,584.35 221.40,585.30 222.50,585.80 C223.60,586.30 224.42,586.98 226.00,587.30 C227.58,587.62 230.15,587.97 232.00,587.70 C233.85,587.43 235.70,587.30 237.10,585.70 C238.50,584.10 239.48,582.48 240.40,578.10 C241.32,573.72 241.97,565.63 242.60,559.40 C243.23,553.17 243.65,546.18 244.20,540.70 C244.75,535.22 245.35,529.88 245.90,526.50 C246.45,523.12 247.05,520.40 247.50,520.40 C247.95,520.40 248.23,522.75 248.60,526.50 C248.97,530.25 249.25,536.87 249.70,542.90 C250.15,548.93 250.67,556.83 251.30,562.70 C251.93,568.57 252.58,574.27 253.50,578.10 C254.42,581.93 255.72,584.10 256.80,585.70 C257.88,587.30 259.47,587.37 260.00,587.70" fill="none" stroke="#4f9e45" stroke-width="1.10" stroke-linejoin="round"/>
<path d="M236.00,587.70 C236.73,587.37 238.93,586.93 240.40,585.70 C241.87,584.47 243.70,584.13 244.80,580.30 C245.90,576.47 246.45,568.93 247.00,562.70 C247.55,556.47 247.75,548.38 248.10,542.90 C248.45,537.42 248.70,532.58 249.10,529.80 C249.50,527.02 250.03,525.83 250.50,526.20 C250.97,526.57 251.48,528.30 251.90,532.00 C252.32,535.70 252.63,542.92 253.00,548.40 C253.37,553.88 253.65,559.77 254.10,564.90 C254.55,570.03 255.07,575.73 255.70,579.20 C256.33,582.67 256.85,584.28 257.90,585.70 C258.95,587.12 261.32,587.37 262.00,587.70" fill="none" stroke="#2b4a96" stroke-width="1.20" stroke-linejoin="round"/>
<path d="M230.00,587.70 C230.82,587.37 233.63,587.30 234.90,585.70 C236.17,584.10 236.87,582.48 237.60,578.10 C238.33,573.72 238.83,565.27 239.30,559.40 C239.77,553.53 240.03,548.02 240.40,542.90 C240.77,537.78 241.05,531.90 241.50,528.70 C241.95,525.50 242.55,524.43 243.10,523.70 C243.65,522.97 244.33,523.65 244.80,524.30 C245.27,524.95 245.53,524.50 245.90,527.60 C246.27,530.70 246.63,537.60 247.00,542.90 C247.37,548.20 247.65,553.90 248.10,559.40 C248.55,564.90 249.07,571.70 249.70,575.90 C250.33,580.10 251.08,582.78 251.90,584.60 C252.72,586.42 253.58,586.28 254.60,586.80 C255.62,587.32 257.43,587.55 258.00,587.70" fill="none" stroke="#b3123a" stroke-width="1.30" stroke-linejoin="round"/>
<g>
<line x1="197.90" y1="513.50" x2="272.60" y2="513.50" stroke="#1a1a1a" stroke-width="1.10" stroke-linecap="butt"/>
<line x1="272.60" y1="513.50" x2="272.60" y2="587.80" stroke="#1a1a1a" stroke-width="1.10" stroke-linecap="butt"/>
<line x1="197.90" y1="513.50" x2="197.90" y2="587.80" stroke="#1a1a1a" stroke-width="1.50" stroke-linecap="butt"/>
<line x1="197.40" y1="587.80" x2="273.10" y2="587.80" stroke="#1a1a1a" stroke-width="1.70" stroke-linecap="butt"/>
<line x1="203.40" y1="587.80" x2="203.40" y2="590.40" stroke="#1a1a1a" stroke-width="1.10" stroke-linecap="butt"/>
<line x1="212.50" y1="587.80" x2="212.50" y2="590.40" stroke="#1a1a1a" stroke-width="1.10" stroke-linecap="butt"/>
<line x1="230.40" y1="587.80" x2="230.40" y2="590.40" stroke="#1a1a1a" stroke-width="1.10" stroke-linecap="butt"/>
<line x1="247.90" y1="587.80" x2="247.90" y2="590.40" stroke="#1a1a1a" stroke-width="1.10" stroke-linecap="butt"/>
<line x1="264.00" y1="587.80" x2="264.00" y2="590.40" stroke="#1a1a1a" stroke-width="1.10" stroke-linecap="butt"/>
<line x1="217.89" y1="587.80" x2="217.89" y2="589.40" stroke="#1a1a1a" stroke-width="0.80" stroke-linecap="butt"/>
<line x1="221.04" y1="587.80" x2="221.04" y2="589.40" stroke="#1a1a1a" stroke-width="0.80" stroke-linecap="butt"/>
<line x1="223.28" y1="587.80" x2="223.28" y2="589.40" stroke="#1a1a1a" stroke-width="0.80" stroke-linecap="butt"/>
<line x1="225.01" y1="587.80" x2="225.01" y2="589.40" stroke="#1a1a1a" stroke-width="0.80" stroke-linecap="butt"/>
<line x1="226.43" y1="587.80" x2="226.43" y2="589.40" stroke="#1a1a1a" stroke-width="0.80" stroke-linecap="butt"/>
<line x1="227.63" y1="587.80" x2="227.63" y2="589.40" stroke="#1a1a1a" stroke-width="0.80" stroke-linecap="butt"/>
<line x1="228.67" y1="587.80" x2="228.67" y2="589.40" stroke="#1a1a1a" stroke-width="0.80" stroke-linecap="butt"/>
<line x1="229.58" y1="587.80" x2="229.58" y2="589.40" stroke="#1a1a1a" stroke-width="0.80" stroke-linecap="butt"/>
<line x1="235.67" y1="587.80" x2="235.67" y2="589.40" stroke="#1a1a1a" stroke-width="0.80" stroke-linecap="butt"/>
<line x1="238.75" y1="587.80" x2="238.75" y2="589.40" stroke="#1a1a1a" stroke-width="0.80" stroke-linecap="butt"/>
<line x1="240.94" y1="587.80" x2="240.94" y2="589.40" stroke="#1a1a1a" stroke-width="0.80" stroke-linecap="butt"/>
<line x1="242.63" y1="587.80" x2="242.63" y2="589.40" stroke="#1a1a1a" stroke-width="0.80" stroke-linecap="butt"/>
<line x1="244.02" y1="587.80" x2="244.02" y2="589.40" stroke="#1a1a1a" stroke-width="0.80" stroke-linecap="butt"/>
<line x1="245.19" y1="587.80" x2="245.19" y2="589.40" stroke="#1a1a1a" stroke-width="0.80" stroke-linecap="butt"/>
<line x1="246.20" y1="587.80" x2="246.20" y2="589.40" stroke="#1a1a1a" stroke-width="0.80" stroke-linecap="butt"/>
<line x1="247.10" y1="587.80" x2="247.10" y2="589.40" stroke="#1a1a1a" stroke-width="0.80" stroke-linecap="butt"/>
<line x1="252.75" y1="587.80" x2="252.75" y2="589.40" stroke="#1a1a1a" stroke-width="0.80" stroke-linecap="butt"/>
<line x1="255.58" y1="587.80" x2="255.58" y2="589.40" stroke="#1a1a1a" stroke-width="0.80" stroke-linecap="butt"/>
<line x1="257.59" y1="587.80" x2="257.59" y2="589.40" stroke="#1a1a1a" stroke-width="0.80" stroke-linecap="butt"/>
<line x1="259.15" y1="587.80" x2="259.15" y2="589.40" stroke="#1a1a1a" stroke-width="0.80" stroke-linecap="butt"/>
<line x1="260.43" y1="587.80" x2="260.43" y2="589.40" stroke="#1a1a1a" stroke-width="0.80" stroke-linecap="butt"/>
<line x1="261.51" y1="587.80" x2="261.51" y2="589.40" stroke="#1a1a1a" stroke-width="0.80" stroke-linecap="butt"/>
<line x1="262.44" y1="587.80" x2="262.44" y2="589.40" stroke="#1a1a1a" stroke-width="0.80" stroke-linecap="butt"/>
<line x1="263.26" y1="587.80" x2="263.26" y2="589.40" stroke="#1a1a1a" stroke-width="0.80" stroke-linecap="butt"/>
<line x1="206.59" y1="587.80" x2="206.59" y2="589.40" stroke="#1a1a1a" stroke-width="0.80" stroke-linecap="butt"/>
<line x1="209.77" y1="587.80" x2="209.77" y2="589.40" stroke="#1a1a1a" stroke-width="0.80" stroke-linecap="butt"/>
<line x1="199.90" y1="587.80" x2="199.90" y2="589.40" stroke="#1a1a1a" stroke-width="0.80" stroke-linecap="butt"/>
<text x="203.40" y="602.30" font-size="6.50" text-anchor="middle" fill="#1a1a1a" stroke="#1a1a1a" stroke-width="0.22" ><tspan>0</tspan></text>
<text x="213.80" y="602.30" font-size="6.50" text-anchor="middle" fill="#1a1a1a" stroke="#1a1a1a" stroke-width="0.22" ><tspan>10</tspan><tspan baseline-shift="2.73" font-size="4.42">2</tspan></text>
<text x="231.70" y="602.30" font-size="6.50" text-anchor="middle" fill="#1a1a1a" stroke="#1a1a1a" stroke-width="0.22" ><tspan>10</tspan><tspan baseline-shift="2.73" font-size="4.42">3</tspan></text>
<text x="249.20" y="602.30" font-size="6.50" text-anchor="middle" fill="#1a1a1a" stroke="#1a1a1a" stroke-width="0.22" ><tspan>10</tspan><tspan baseline-shift="2.73" font-size="4.42">4</tspan></text>
<text x="265.30" y="602.30" font-size="6.50" text-anchor="middle" fill="#1a1a1a" stroke="#1a1a1a" stroke-width="0.22" ><tspan>10</tspan><tspan baseline-shift="2.73" font-size="4.42">5</tspan></text>
<text x="235.30" y="615.40" font-size="8.80" text-anchor="middle" fill="#1a1a1a" stroke="#1a1a1a" stroke-width="0.16" textLength="25.40" lengthAdjust="spacingAndGlyphs" ><tspan>CXCR4</tspan></text>
</g>
<path d="M331.80,587.70 L333.80,587.10 L334.36,579.74 L336.15,553.22 L338.03,525.38 L338.50,521.40 L339.09,525.38 L341.45,553.22 L343.69,579.74 L344.40,587.10 L346.40,587.70 Z" fill="#f6e2b8" fill-opacity="0.12" stroke="none"/>
<path d="M331.80,587.70 L333.80,587.10 L334.36,579.74 L336.15,553.22 L338.03,525.38 L338.50,521.40 L339.09,525.38 L341.45,553.22 L343.69,579.74 L344.40,587.10 L346.40,587.70" fill="none" stroke="#df9526" stroke-width="1.4" stroke-dasharray="1.8,1.0" stroke-linejoin="round"/>
<path d="M352.00,587.70 C352.73,587.55 354.75,587.85 356.40,586.80 C358.05,585.75 360.53,584.13 361.90,581.40 C363.27,578.67 363.87,574.98 364.60,570.40 C365.33,565.82 365.75,560.30 366.30,553.90 C366.85,547.50 367.35,537.48 367.90,532.00 C368.45,526.52 369.10,521.92 369.60,521.00 C370.10,520.08 370.53,522.85 370.90,526.50 C371.27,530.15 371.47,536.87 371.80,542.90 C372.13,548.93 372.45,556.47 372.90,562.70 C373.35,568.93 373.87,576.28 374.50,580.30 C375.13,584.32 375.78,585.57 376.70,586.80 C377.62,588.03 379.45,587.55 380.00,587.70 L380.00,587.70 L352.00,587.70 Z" fill="#e6a29e" fill-opacity="0.55" stroke="none"/>
<path d="M360.00,587.70 C360.68,587.55 362.68,588.40 364.10,586.80 C365.52,585.20 367.40,582.67 368.50,578.10 C369.60,573.53 370.07,566.18 370.70,559.40 C371.33,552.62 371.75,543.98 372.30,537.40 C372.85,530.82 373.50,522.27 374.00,519.90 C374.50,517.53 374.90,519.37 375.30,523.20 C375.70,527.03 375.98,535.95 376.40,542.90 C376.82,549.85 377.20,558.32 377.80,564.90 C378.40,571.48 379.27,578.75 380.00,582.40 C380.73,586.05 381.37,585.92 382.20,586.80 C383.03,587.68 384.53,587.55 385.00,587.70 L385.00,587.70 L360.00,587.70 Z" fill="#b5c585" fill-opacity="0.50" stroke="none"/>
<path d="M362.00,587.70 C362.72,587.55 364.95,588.22 366.30,586.80 C367.65,585.38 369.00,583.22 370.10,579.20 C371.20,575.18 372.17,568.75 372.90,562.70 C373.63,556.65 374.05,548.93 374.50,542.90 C374.95,536.87 375.15,530.43 375.60,526.50 C376.05,522.57 376.68,519.48 377.20,519.30 C377.72,519.12 378.23,520.55 378.70,525.40 C379.17,530.25 379.60,540.90 380.00,548.40 C380.40,555.90 380.65,564.37 381.10,570.40 C381.55,576.43 382.07,581.77 382.70,584.60 C383.33,587.43 384.02,586.88 384.90,587.40 C385.78,587.92 387.48,587.65 388.00,587.70 L388.00,587.70 L362.00,587.70 Z" fill="#9898d0" fill-opacity="0.60" stroke="none"/>
<path d="M360.00,587.70 C360.68,587.55 362.68,588.40 364.10,586.80 C365.52,585.20 367.40,582.67 368.50,578.10 C369.60,573.53 370.07,566.18 370.70,559.40 C371.33,552.62 371.75,543.98 372.30,537.40 C372.85,530.82 373.50,522.27 374.00,519.90 C374.50,517.53 374.90,519.37 375.30,523.20 C375.70,527.03 375.98,535.95 376.40,542.90 C376.82,549.85 377.20,558.32 377.80,564.90 C378.40,571.48 379.27,578.75 380.00,582.40 C380.73,586.05 381.37,585.92 382.20,586.80 C383.03,587.68 384.53,587.55 385.00,587.70" fill="none" stroke="#4f9e45" stroke-width="1.10" stroke-linejoin="round"/>
<path d="M362.00,587.70 C362.72,587.55 364.95,588.22 366.30,586.80 C367.65,585.38 369.00,583.22 370.10,579.20 C371.20,575.18 372.17,568.75 372.90,562.70 C373.63,556.65 374.05,548.93 374.50,542.90 C374.95,536.87 375.15,530.43 375.60,526.50 C376.05,522.57 376.68,519.48 377.20,519.30 C377.72,519.12 378.23,520.55 378.70,525.40 C379.17,530.25 379.60,540.90 380.00,548.40 C380.40,555.90 380.65,564.37 381.10,570.40 C381.55,576.43 382.07,581.77 382.70,584.60 C383.33,587.43 384.02,586.88 384.90,587.40 C385.78,587.92 387.48,587.65 388.00,587.70" fill="none" stroke="#2b4a96" stroke-width="1.20" stroke-linejoin="round"/>
<path d="M352.00,587.70 C352.73,587.55 354.75,587.85 356.40,586.80 C358.05,585.75 360.53,584.13 361.90,581.40 C363.27,578.67 363.87,574.98 364.60,570.40 C365.33,565.82 365.75,560.30 366.30,553.90 C366.85,547.50 367.35,537.48 367.90,532.00 C368.45,526.52 369.10,521.92 369.60,521.00 C370.10,520.08 370.53,522.85 370.90,526.50 C371.27,530.15 371.47,536.87 371.80,542.90 C372.13,548.93 372.45,556.47 372.90,562.70 C373.35,568.93 373.87,576.28 374.50,580.30 C375.13,584.32 375.78,585.57 376.70,586.80 C377.62,588.03 379.45,587.55 380.00,587.70" fill="none" stroke="#b3123a" stroke-width="1.30" stroke-linejoin="round"/>
<g>
<line x1="329.50" y1="513.30" x2="404.30" y2="513.30" stroke="#1a1a1a" stroke-width="1.10" stroke-linecap="butt"/>
<line x1="404.30" y1="513.30" x2="404.30" y2="587.80" stroke="#1a1a1a" stroke-width="1.10" stroke-linecap="butt"/>
<line x1="329.50" y1="513.30" x2="329.50" y2="587.80" stroke="#1a1a1a" stroke-width="1.50" stroke-linecap="butt"/>
<line x1="329.00" y1="587.80" x2="404.80" y2="587.80" stroke="#1a1a1a" stroke-width="1.70" stroke-linecap="butt"/>
<line x1="334.70" y1="587.80" x2="334.70" y2="590.40" stroke="#1a1a1a" stroke-width="1.10" stroke-linecap="butt"/>
<line x1="343.20" y1="587.80" x2="343.20" y2="590.40" stroke="#1a1a1a" stroke-width="1.10" stroke-linecap="butt"/>
<line x1="361.90" y1="587.80" x2="361.90" y2="590.40" stroke="#1a1a1a" stroke-width="1.10" stroke-linecap="butt"/>
<line x1="379.20" y1="587.80" x2="379.20" y2="590.40" stroke="#1a1a1a" stroke-width="1.10" stroke-linecap="butt"/>
<line x1="395.50" y1="587.80" x2="395.50" y2="590.40" stroke="#1a1a1a" stroke-width="1.10" stroke-linecap="butt"/>
<line x1="348.83" y1="587.80" x2="348.83" y2="589.40" stroke="#1a1a1a" stroke-width="0.80" stroke-linecap="butt"/>
<line x1="352.12" y1="587.80" x2="352.12" y2="589.40" stroke="#1a1a1a" stroke-width="0.80" stroke-linecap="butt"/>
<line x1="354.46" y1="587.80" x2="354.46" y2="589.40" stroke="#1a1a1a" stroke-width="0.80" stroke-linecap="butt"/>
<line x1="356.27" y1="587.80" x2="356.27" y2="589.40" stroke="#1a1a1a" stroke-width="0.80" stroke-linecap="butt"/>
<line x1="357.75" y1="587.80" x2="357.75" y2="589.40" stroke="#1a1a1a" stroke-width="0.80" stroke-linecap="butt"/>
<line x1="359.00" y1="587.80" x2="359.00" y2="589.40" stroke="#1a1a1a" stroke-width="0.80" stroke-linecap="butt"/>
<line x1="360.09" y1="587.80" x2="360.09" y2="589.40" stroke="#1a1a1a" stroke-width="0.80" stroke-linecap="butt"/>
<line x1="361.04" y1="587.80" x2="361.04" y2="589.40" stroke="#1a1a1a" stroke-width="0.80" stroke-linecap="butt"/>
<line x1="367.11" y1="587.80" x2="367.11" y2="589.40" stroke="#1a1a1a" stroke-width="0.80" stroke-linecap="butt"/>
<line x1="370.15" y1="587.80" x2="370.15" y2="589.40" stroke="#1a1a1a" stroke-width="0.80" stroke-linecap="butt"/>
<line x1="372.32" y1="587.80" x2="372.32" y2="589.40" stroke="#1a1a1a" stroke-width="0.80" stroke-linecap="butt"/>
<line x1="373.99" y1="587.80" x2="373.99" y2="589.40" stroke="#1a1a1a" stroke-width="0.80" stroke-linecap="butt"/>
<line x1="375.36" y1="587.80" x2="375.36" y2="589.40" stroke="#1a1a1a" stroke-width="0.80" stroke-linecap="butt"/>
<line x1="376.52" y1="587.80" x2="376.52" y2="589.40" stroke="#1a1a1a" stroke-width="0.80" stroke-linecap="butt"/>
<line x1="377.52" y1="587.80" x2="377.52" y2="589.40" stroke="#1a1a1a" stroke-width="0.80" stroke-linecap="butt"/>
<line x1="378.41" y1="587.80" x2="378.41" y2="589.40" stroke="#1a1a1a" stroke-width="0.80" stroke-linecap="butt"/>
<line x1="384.11" y1="587.80" x2="384.11" y2="589.40" stroke="#1a1a1a" stroke-width="0.80" stroke-linecap="butt"/>
<line x1="386.98" y1="587.80" x2="386.98" y2="589.40" stroke="#1a1a1a" stroke-width="0.80" stroke-linecap="butt"/>
<line x1="389.01" y1="587.80" x2="389.01" y2="589.40" stroke="#1a1a1a" stroke-width="0.80" stroke-linecap="butt"/>
<line x1="390.59" y1="587.80" x2="390.59" y2="589.40" stroke="#1a1a1a" stroke-width="0.80" stroke-linecap="butt"/>
<line x1="391.88" y1="587.80" x2="391.88" y2="589.40" stroke="#1a1a1a" stroke-width="0.80" stroke-linecap="butt"/>
<line x1="392.98" y1="587.80" x2="392.98" y2="589.40" stroke="#1a1a1a" stroke-width="0.80" stroke-linecap="butt"/>
<line x1="393.92" y1="587.80" x2="393.92" y2="589.40" stroke="#1a1a1a" stroke-width="0.80" stroke-linecap="butt"/>
<line x1="394.75" y1="587.80" x2="394.75" y2="589.40" stroke="#1a1a1a" stroke-width="0.80" stroke-linecap="butt"/>
<line x1="337.68" y1="587.80" x2="337.68" y2="589.40" stroke="#1a1a1a" stroke-width="0.80" stroke-linecap="butt"/>
<line x1="340.65" y1="587.80" x2="340.65" y2="589.40" stroke="#1a1a1a" stroke-width="0.80" stroke-linecap="butt"/>
<line x1="331.50" y1="587.80" x2="331.50" y2="589.40" stroke="#1a1a1a" stroke-width="0.80" stroke-linecap="butt"/>
<text x="334.70" y="602.30" font-size="6.50" text-anchor="middle" fill="#1a1a1a" stroke="#1a1a1a" stroke-width="0.22" ><tspan>0</tspan></text>
<text x="344.50" y="602.30" font-size="6.50" text-anchor="middle" fill="#1a1a1a" stroke="#1a1a1a" stroke-width="0.22" ><tspan>10</tspan><tspan baseline-shift="2.73" font-size="4.42">2</tspan></text>
<text x="363.20" y="602.30" font-size="6.50" text-anchor="middle" fill="#1a1a1a" stroke="#1a1a1a" stroke-width="0.22" ><tspan>10</tspan><tspan baseline-shift="2.73" font-size="4.42">3</tspan></text>
<text x="380.50" y="602.30" font-size="6.50" text-anchor="middle" fill="#1a1a1a" stroke="#1a1a1a" stroke-width="0.22" ><tspan>10</tspan><tspan baseline-shift="2.73" font-size="4.42">4</tspan></text>
<text x="396.80" y="602.30" font-size="6.50" text-anchor="middle" fill="#1a1a1a" stroke="#1a1a1a" stroke-width="0.22" ><tspan>10</tspan><tspan baseline-shift="2.73" font-size="4.42">5</tspan></text>
<text x="366.70" y="615.40" font-size="8.80" text-anchor="middle" fill="#1a1a1a" stroke="#1a1a1a" stroke-width="0.16" textLength="22.60" lengthAdjust="spacingAndGlyphs" ><tspan>VLA-4</tspan></text>
</g>
<line x1="208.10" y1="625.00" x2="223.50" y2="625.00" stroke="#df9526" stroke-width="1.10" stroke-linecap="butt" stroke-dasharray="1.6,0.9"/>
<text x="226.00" y="627.40" font-size="6.80" text-anchor="start" fill="#222" stroke="#222" stroke-width="0.16" textLength="10.50" lengthAdjust="spacingAndGlyphs" ><tspan>IgG</tspan></text>
<line x1="241.90" y1="625.00" x2="257.30" y2="625.00" stroke="#4f9e45" stroke-width="1.10" stroke-linecap="butt"/>
<text x="260.60" y="627.40" font-size="6.80" text-anchor="start" fill="#222" stroke="#222" stroke-width="0.16" textLength="22.50" lengthAdjust="spacingAndGlyphs" ><tspan>Control</tspan></text>
<line x1="288.10" y1="625.00" x2="303.10" y2="625.00" stroke="#b3123a" stroke-width="1.10" stroke-linecap="butt"/>
<text x="306.50" y="627.40" font-size="6.80" text-anchor="start" fill="#222" stroke="#222" stroke-width="0.16" textLength="19.70" lengthAdjust="spacingAndGlyphs" ><tspan>TGF-β</tspan></text>
<line x1="330.30" y1="625.00" x2="345.80" y2="625.00" stroke="#2b4a96" stroke-width="1.10" stroke-linecap="butt"/>
<text x="348.10" y="627.40" font-size="6.80" text-anchor="start" fill="#222" stroke="#222" stroke-width="0.16" textLength="31.60" lengthAdjust="spacingAndGlyphs" ><tspan>LY364947</tspan></text>
<rect x="229.25" y="686.00" width="12.75" height="19.00" fill="#6aab3f"/>
<line x1="235.62" y1="686.00" x2="235.62" y2="684.00" stroke="#222" stroke-width="1.20" stroke-linecap="butt"/>
<line x1="232.12" y1="684.00" x2="239.13" y2="684.00" stroke="#222" stroke-width="1.30" stroke-linecap="butt"/>
<rect x="248.00" y="694.75" width="13.00" height="10.25" fill="#b8112f"/>
<line x1="254.50" y1="694.75" x2="254.50" y2="693.40" stroke="#222" stroke-width="1.20" stroke-linecap="butt"/>
<line x1="250.93" y1="693.40" x2="258.07" y2="693.40" stroke="#222" stroke-width="1.30" stroke-linecap="butt"/>
<rect x="267.00" y="667.25" width="12.90" height="37.75" fill="#2d4f8e"/>
<line x1="273.45" y1="667.25" x2="273.45" y2="663.10" stroke="#222" stroke-width="1.20" stroke-linecap="butt"/>
<line x1="269.90" y1="663.10" x2="277.00" y2="663.10" stroke="#222" stroke-width="1.30" stroke-linecap="butt"/>
<line x1="226.40" y1="652.00" x2="226.40" y2="705.70" stroke="#1a1a1a" stroke-width="1.30" stroke-linecap="butt"/>
<line x1="225.80" y1="705.00" x2="285.50" y2="705.00" stroke="#1a1a1a" stroke-width="1.50" stroke-linecap="butt"/>
<line x1="223.40" y1="705.00" x2="226.40" y2="705.00" stroke="#1a1a1a" stroke-width="1.10" stroke-linecap="butt"/>
<text x="219.60" y="707.40" font-size="6.80" text-anchor="end" fill="#1a1a1a" stroke="#1a1a1a" stroke-width="0.16" ><tspan>0</tspan></text>
<line x1="223.40" y1="692.65" x2="226.40" y2="692.65" stroke="#1a1a1a" stroke-width="1.10" stroke-linecap="butt"/>
<text x="219.60" y="695.05" font-size="6.80" text-anchor="end" fill="#1a1a1a" stroke="#1a1a1a" stroke-width="0.16" ><tspan>5,000</tspan></text>
<line x1="223.40" y1="680.30" x2="226.40" y2="680.30" stroke="#1a1a1a" stroke-width="1.10" stroke-linecap="butt"/>
<text x="219.60" y="682.70" font-size="6.80" text-anchor="end" fill="#1a1a1a" stroke="#1a1a1a" stroke-width="0.16" ><tspan>10,000</tspan></text>
<line x1="223.40" y1="667.95" x2="226.40" y2="667.95" stroke="#1a1a1a" stroke-width="1.10" stroke-linecap="butt"/>
<text x="219.60" y="670.35" font-size="6.80" text-anchor="end" fill="#1a1a1a" stroke="#1a1a1a" stroke-width="0.16" ><tspan>15,000</tspan></text>
<line x1="223.40" y1="655.60" x2="226.40" y2="655.60" stroke="#1a1a1a" stroke-width="1.10" stroke-linecap="butt"/>
<text x="219.60" y="658.00" font-size="6.80" text-anchor="end" fill="#1a1a1a" stroke="#1a1a1a" stroke-width="0.16" ><tspan>20,000</tspan></text>
<line x1="235.62" y1="705.00" x2="235.62" y2="707.80" stroke="#1a1a1a" stroke-width="1.10" stroke-linecap="butt"/>
<line x1="254.50" y1="705.00" x2="254.50" y2="707.80" stroke="#1a1a1a" stroke-width="1.10" stroke-linecap="butt"/>
<line x1="273.45" y1="705.00" x2="273.45" y2="707.80" stroke="#1a1a1a" stroke-width="1.10" stroke-linecap="butt"/>
<path d="M235.45,682.10 V679.80 H254.25 V682.10" fill="none" stroke="#222" stroke-width="1.35"/>
<text x="245.20" y="677.80" font-size="6.70" text-anchor="middle" fill="#1a1a1a" stroke="#1a1a1a" stroke-width="0.16" ><tspan font-style="italic">P</tspan><tspan>=.003</tspan></text>
<path d="M235.45,663.00 V660.70 H273.30 V663.00" fill="none" stroke="#222" stroke-width="1.35"/>
<text x="254.50" y="658.80" font-size="6.70" text-anchor="middle" fill="#1a1a1a" stroke="#1a1a1a" stroke-width="0.16" ><tspan font-style="italic">P</tspan><tspan>&lt;.001</tspan></text>
<text x="238.50" y="714.40" font-size="6.80" text-anchor="end" fill="#78b052" stroke="#78b052" stroke-width="0.12" transform="rotate(-45.0 238.50 714.40)" ><tspan>Control</tspan></text>
<text x="257.10" y="714.40" font-size="6.80" text-anchor="end" fill="#b82a58" stroke="#b82a58" stroke-width="0.12" transform="rotate(-45.0 257.10 714.40)" ><tspan>TGF-β</tspan></text>
<text x="275.50" y="714.40" font-size="6.80" text-anchor="end" fill="#4c5c96" stroke="#4c5c96" stroke-width="0.12" transform="rotate(-45.0 275.50 714.40)" ><tspan>LY364947</tspan></text>
<text x="192.55" y="679.20" font-size="9.30" text-anchor="middle" fill="#1a1a1a" stroke="#1a1a1a" stroke-width="0.22" textLength="51.60" lengthAdjust="spacingAndGlyphs" transform="rotate(-90.0 192.55 679.20)" ><tspan>MFI of CXCR4</tspan></text>
<rect x="347.25" y="683.75" width="13.00" height="21.25" fill="#6aab3f"/>
<line x1="353.75" y1="683.75" x2="353.75" y2="681.25" stroke="#222" stroke-width="1.20" stroke-linecap="butt"/>
<line x1="350.18" y1="681.25" x2="357.32" y2="681.25" stroke="#222" stroke-width="1.30" stroke-linecap="butt"/>
<rect x="366.25" y="694.75" width="12.75" height="10.25" fill="#b8112f"/>
<line x1="372.62" y1="694.75" x2="372.62" y2="694.40" stroke="#222" stroke-width="1.20" stroke-linecap="butt"/>
<line x1="369.12" y1="694.40" x2="376.13" y2="694.40" stroke="#222" stroke-width="1.30" stroke-linecap="butt"/>
<rect x="385.25" y="664.75" width="12.85" height="40.25" fill="#2d4f8e"/>
<line x1="391.68" y1="664.75" x2="391.68" y2="663.10" stroke="#222" stroke-width="1.20" stroke-linecap="butt"/>
<line x1="388.14" y1="663.10" x2="395.21" y2="663.10" stroke="#222" stroke-width="1.30" stroke-linecap="butt"/>
<line x1="344.40" y1="652.40" x2="344.40" y2="705.70" stroke="#1a1a1a" stroke-width="1.30" stroke-linecap="butt"/>
<line x1="343.80" y1="705.00" x2="403.50" y2="705.00" stroke="#1a1a1a" stroke-width="1.50" stroke-linecap="butt"/>
<line x1="341.40" y1="705.00" x2="344.40" y2="705.00" stroke="#1a1a1a" stroke-width="1.10" stroke-linecap="butt"/>
<text x="337.60" y="707.40" font-size="6.80" text-anchor="end" fill="#1a1a1a" stroke="#1a1a1a" stroke-width="0.16" ><tspan>0</tspan></text>
<line x1="341.40" y1="695.12" x2="344.40" y2="695.12" stroke="#1a1a1a" stroke-width="1.10" stroke-linecap="butt"/>
<text x="337.60" y="697.52" font-size="6.80" text-anchor="end" fill="#1a1a1a" stroke="#1a1a1a" stroke-width="0.16" ><tspan>2,000</tspan></text>
<line x1="341.40" y1="685.24" x2="344.40" y2="685.24" stroke="#1a1a1a" stroke-width="1.10" stroke-linecap="butt"/>
<text x="337.60" y="687.64" font-size="6.80" text-anchor="end" fill="#1a1a1a" stroke="#1a1a1a" stroke-width="0.16" ><tspan>4,000</tspan></text>
<line x1="341.40" y1="675.36" x2="344.40" y2="675.36" stroke="#1a1a1a" stroke-width="1.10" stroke-linecap="butt"/>
<text x="337.60" y="677.76" font-size="6.80" text-anchor="end" fill="#1a1a1a" stroke="#1a1a1a" stroke-width="0.16" ><tspan>6,000</tspan></text>
<line x1="341.40" y1="665.48" x2="344.40" y2="665.48" stroke="#1a1a1a" stroke-width="1.10" stroke-linecap="butt"/>
<text x="337.60" y="667.88" font-size="6.80" text-anchor="end" fill="#1a1a1a" stroke="#1a1a1a" stroke-width="0.16" ><tspan>8,000</tspan></text>
<line x1="341.40" y1="655.60" x2="344.40" y2="655.60" stroke="#1a1a1a" stroke-width="1.10" stroke-linecap="butt"/>
<text x="337.60" y="658.00" font-size="6.80" text-anchor="end" fill="#1a1a1a" stroke="#1a1a1a" stroke-width="0.16" ><tspan>10,000</tspan></text>
<line x1="353.75" y1="705.00" x2="353.75" y2="707.80" stroke="#1a1a1a" stroke-width="1.10" stroke-linecap="butt"/>
<line x1="372.62" y1="705.00" x2="372.62" y2="707.80" stroke="#1a1a1a" stroke-width="1.10" stroke-linecap="butt"/>
<line x1="391.68" y1="705.00" x2="391.68" y2="707.80" stroke="#1a1a1a" stroke-width="1.10" stroke-linecap="butt"/>
<path d="M353.85,680.80 V678.50 H372.75 V680.80" fill="none" stroke="#222" stroke-width="1.35"/>
<text x="362.90" y="676.10" font-size="6.70" text-anchor="middle" fill="#1a1a1a" stroke="#1a1a1a" stroke-width="0.16" ><tspan font-style="italic">P</tspan><tspan>&lt;.001</tspan></text>
<path d="M353.85,662.60 V660.30 H391.75 V662.60" fill="none" stroke="#222" stroke-width="1.35"/>
<text x="373.00" y="657.50" font-size="6.70" text-anchor="middle" fill="#1a1a1a" stroke="#1a1a1a" stroke-width="0.16" ><tspan font-style="italic">P</tspan><tspan>&lt;.001</tspan></text>
<text x="356.90" y="715.40" font-size="6.80" text-anchor="end" fill="#78b052" stroke="#78b052" stroke-width="0.12" transform="rotate(-45.0 356.90 715.40)" ><tspan>Control</tspan></text>
<text x="374.90" y="715.40" font-size="6.80" text-anchor="end" fill="#b82a58" stroke="#b82a58" stroke-width="0.12" transform="rotate(-45.0 374.90 715.40)" ><tspan>TGF-β</tspan></text>
<text x="395.00" y="715.40" font-size="6.80" text-anchor="end" fill="#4c5c96" stroke="#4c5c96" stroke-width="0.12" transform="rotate(-45.0 395.00 715.40)" ><tspan>LY364947</tspan></text>
<text x="311.05" y="678.95" font-size="9.30" text-anchor="middle" fill="#1a1a1a" stroke="#1a1a1a" stroke-width="0.22" textLength="47.30" lengthAdjust="spacingAndGlyphs" transform="rotate(-90.0 311.05 678.95)" ><tspan>MFI of VLA-4</tspan></text></svg>
</body></html>
